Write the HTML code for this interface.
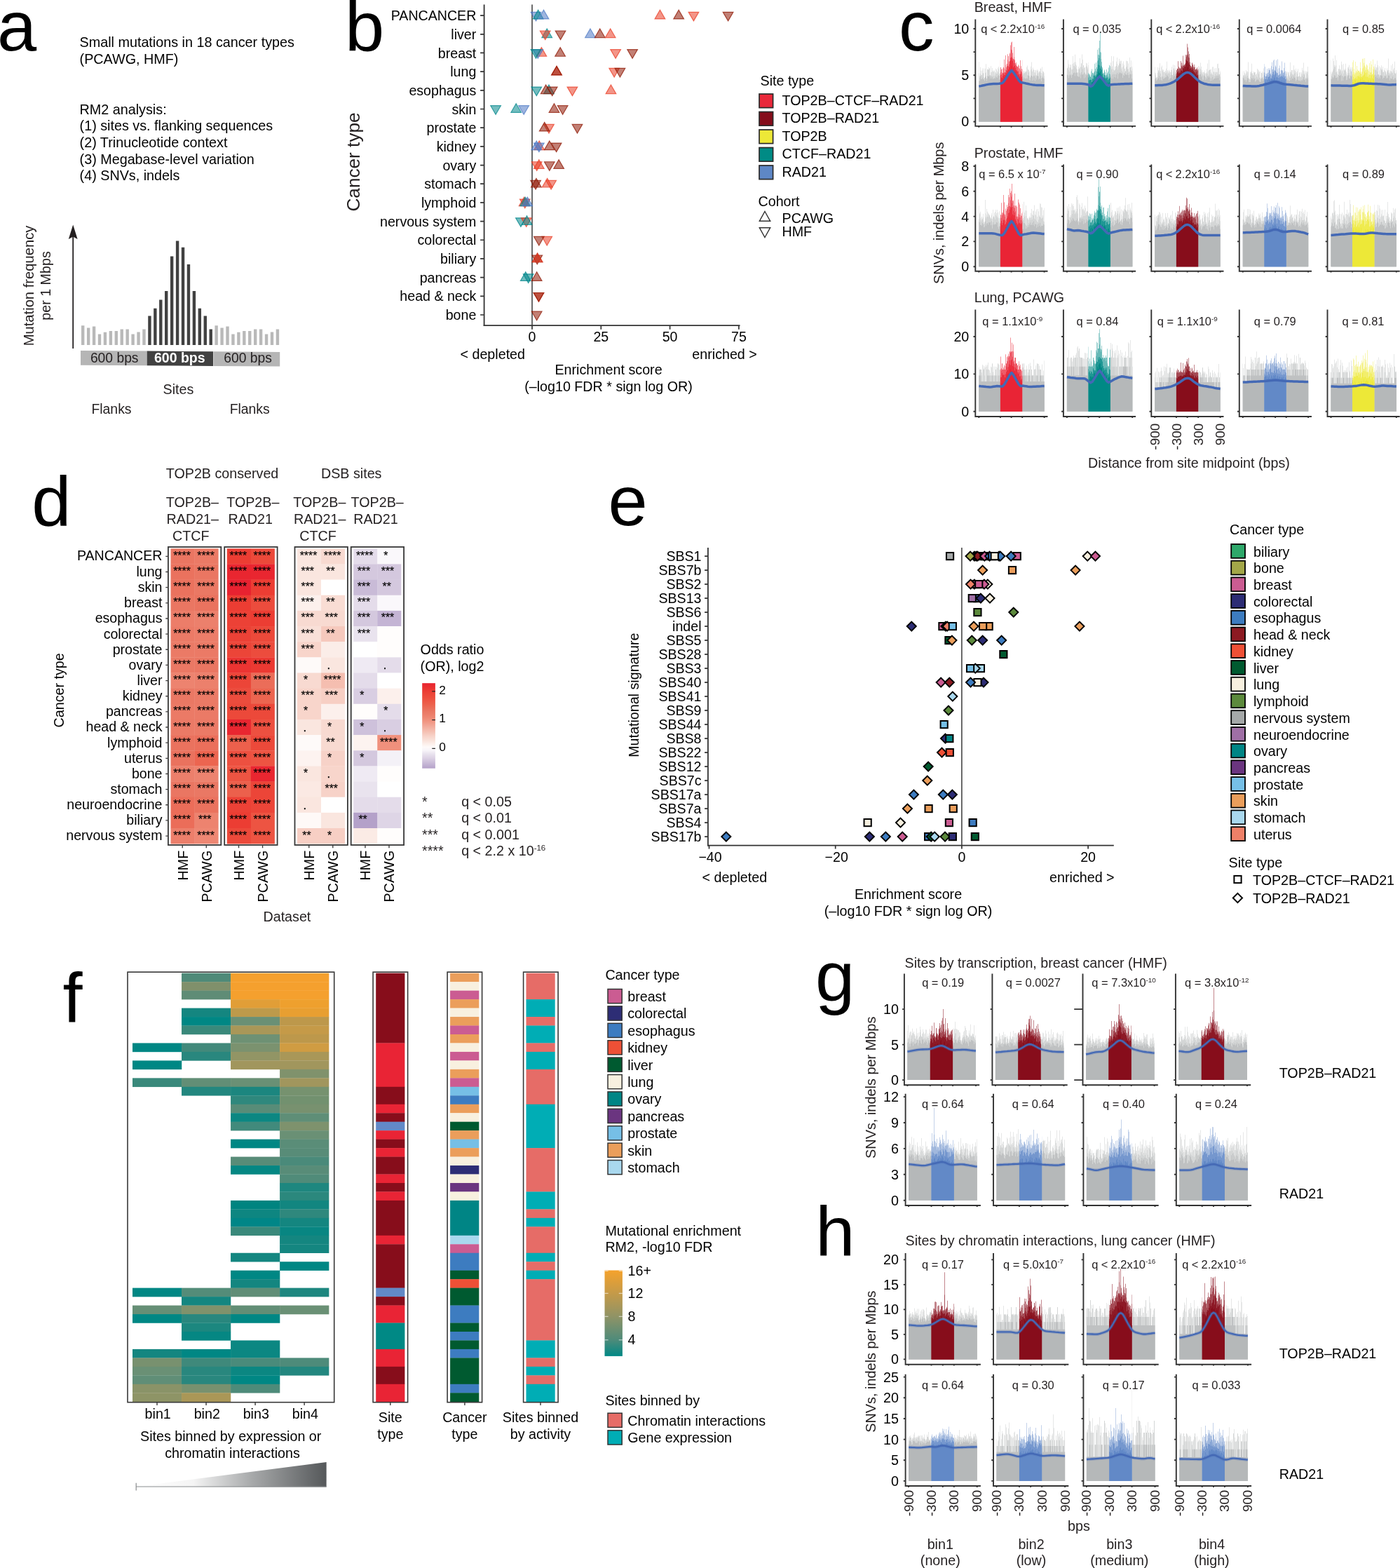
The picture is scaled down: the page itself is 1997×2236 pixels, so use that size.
<!DOCTYPE html>
<html lang="en"><head><meta charset="utf-8"><title>Figure</title>
<style>
html,body{margin:0;padding:0;background:#fff;}
body{width:1997px;height:2236px;overflow:hidden;}
svg{display:block;font-family:'Liberation Sans', Arial, Helvetica, sans-serif;}
</style></head><body>
<svg width="1997" height="2236" viewBox="0 0 1997 2236">
<g>
<text x="-4" y="72" font-size="101">a</text>
<text x="113.6" y="66.9" font-size="19.75">Small mutations in 18 cancer types</text>
<text x="113.6" y="90.7" font-size="19.75">(PCAWG, HMF)</text>
<text x="113.6" y="162.9" font-size="19.75">RM2 analysis:</text>
<text x="113.6" y="186.4" font-size="19.75">(1) sites vs. flanking sequences</text>
<text x="113.6" y="210" font-size="19.75">(2) Trinucleotide context</text>
<text x="113.6" y="233.6" font-size="19.75">(3) Megabase-level variation</text>
<text x="113.6" y="257.1" font-size="19.75">(4) SNVs, indels</text>
<text transform="translate(48.2 407.5) rotate(-90)" font-size="20.2" text-anchor="middle" fill="#231f20">Mutation frequency</text>
<text transform="translate(72.3 407.5) rotate(-90)" font-size="19.7" text-anchor="middle" fill="#231f20">per 1 Mbps</text>
<path d="M104.2 497L104.2 335" stroke="#231f20" stroke-width="1.8" fill="none"/>
<path d="M104.2 320.5L110.6 341L104.2 337.5L97.8 341Z" fill="#231f20"/>
<path d="M116 492V464.3h4.4V492zM306.44 492V464.3h4.4V492zM123.94 492V467.6h4.4V492zM314.38 492V467.6h4.4V492zM131.87 492V465.4h4.4V492zM322.31 492V465.4h4.4V492zM139.81 492V476.6h4.4V492zM330.25 492V476.6h4.4V492zM147.74 492V473.8h4.4V492zM338.18 492V473.8h4.4V492zM155.68 492V472h4.4V492zM346.12 492V472h4.4V492zM163.61 492V472h4.4V492zM354.05 492V472h4.4V492zM171.54 492V469.6h4.4V492zM361.99 492V469.6h4.4V492zM179.48 492V469.6h4.4V492zM369.92 492V469.6h4.4V492zM187.41 492V476.6h4.4V492zM377.85 492V476.6h4.4V492zM195.35 492V473.5h4.4V492zM385.79 492V473.5h4.4V492zM203.28 492V469.4h4.4V492zM393.72 492V469.4h4.4V492z" fill="#b9b9b9"/>
<path d="M211.22 492V450.5h4.4V492zM219.16 492V439.7h4.4V492zM227.09 492V427.4h4.4V492zM235.02 492V414.9h4.4V492zM242.96 492V365.4h4.4V492zM250.89 492V343.4h4.4V492zM258.83 492V352.7h4.4V492zM266.76 492V377.1h4.4V492zM274.7 492V414.9h4.4V492zM282.63 492V439.7h4.4V492zM290.57 492V450.5h4.4V492zM298.5 492V469.4h4.4V492z" fill="#414141"/>
<path d="M115 500L209.7 500.6L209.7 521.3L115 520.8Z" fill="#b5b5b5"/>
<path d="M209.7 500.6L304 501.2L304 521.9L209.7 521.3Z" fill="#414141"/>
<path d="M304.4 501.2L399.2 501.9L399.2 522.6L304.4 521.9Z" fill="#b5b5b5"/>
<text x="163.2" y="516.6" font-size="19.3" text-anchor="middle" fill="#231f20">600 bps</text>
<text x="256.3" y="516.8" font-size="19.5" text-anchor="middle" font-weight="bold" fill="#fff">600 bps</text>
<text x="353.6" y="517.4" font-size="19.3" text-anchor="middle" fill="#231f20">600 bps</text>
<text x="254.5" y="561.7" font-size="19.7" text-anchor="middle" fill="#231f20">Sites</text>
<text x="159" y="589.6" font-size="19.4" text-anchor="middle" fill="#231f20">Flanks</text>
<text x="356.2" y="589.6" font-size="19.4" text-anchor="middle" fill="#231f20">Flanks</text>
</g>
<g>
<text x="492" y="72.8" font-size="101">b</text>
<path d="M690.6 6.5L690.6 465.1" stroke="#333" stroke-width="1.8" fill="none"/>
<path d="M689.7 464.2L1055.5 464.2" stroke="#333" stroke-width="1.8" fill="none"/>
<path d="M759 6.5L759 464.2" stroke="#3a3a3a" stroke-width="1.5" fill="none"/>
<text x="679.3" y="29.2" font-size="19.6" text-anchor="end">PANCANCER</text>
<text x="679.3" y="55.88" font-size="19.6" text-anchor="end">liver</text>
<text x="679.3" y="82.56" font-size="19.6" text-anchor="end">breast</text>
<text x="679.3" y="109.24" font-size="19.6" text-anchor="end">lung</text>
<text x="679.3" y="135.92" font-size="19.6" text-anchor="end">esophagus</text>
<text x="679.3" y="162.6" font-size="19.6" text-anchor="end">skin</text>
<text x="679.3" y="189.28" font-size="19.6" text-anchor="end">prostate</text>
<text x="679.3" y="215.96" font-size="19.6" text-anchor="end">kidney</text>
<text x="679.3" y="242.64" font-size="19.6" text-anchor="end">ovary</text>
<text x="679.3" y="269.32" font-size="19.6" text-anchor="end">stomach</text>
<text x="679.3" y="296" font-size="19.6" text-anchor="end">lymphoid</text>
<text x="679.3" y="322.68" font-size="19.6" text-anchor="end">nervous system</text>
<text x="679.3" y="349.36" font-size="19.6" text-anchor="end">colorectal</text>
<text x="679.3" y="376.04" font-size="19.6" text-anchor="end">biliary</text>
<text x="679.3" y="402.72" font-size="19.6" text-anchor="end">pancreas</text>
<text x="679.3" y="429.4" font-size="19.6" text-anchor="end">head &amp; neck</text>
<text x="679.3" y="456.08" font-size="19.6" text-anchor="end">bone</text>
<text x="759" y="487.4" font-size="19.6" text-anchor="middle">0</text>
<text x="857.3" y="487.4" font-size="19.6" text-anchor="middle">25</text>
<text x="955.6" y="487.4" font-size="19.6" text-anchor="middle">50</text>
<text x="1053.9" y="487.4" font-size="19.6" text-anchor="middle">75</text>
<path d="M685.1 22.1H690.6M685.1 48.78H690.6M685.1 75.46H690.6M685.1 102.14H690.6M685.1 128.82H690.6M685.1 155.5H690.6M685.1 182.18H690.6M685.1 208.86H690.6M685.1 235.54H690.6M685.1 262.22H690.6M685.1 288.9H690.6M685.1 315.58H690.6M685.1 342.26H690.6M685.1 368.94H690.6M685.1 395.62H690.6M685.1 422.3H690.6M685.1 448.98H690.6M759 464.2V469.7M857.3 464.2V469.7M955.6 464.2V469.7M1053.9 464.2V469.7" fill="none" stroke="#333" stroke-width="1.7"/>
<text transform="translate(513.3 231) rotate(-90)" font-size="26.2" text-anchor="middle" fill="#231f20">Cancer type</text>
<text x="656.5" y="511.5" font-size="19.7">&lt; depleted</text>
<text x="1079.8" y="511.5" font-size="19.7" text-anchor="end">enriched &gt;</text>
<text x="868" y="534.2" font-size="19.7" text-anchor="middle">Enrichment score</text>
<text x="868" y="557.9" font-size="19.7" text-anchor="middle">(–log10 FDR * sign log OR)</text>
<g fill-opacity="0.55" stroke-opacity="0.75" stroke-width="1.2" stroke-linejoin="miter"><path d="M764.5 29.91L771.8 17.31L757.2 17.31Z" fill="#4e79c4" stroke="#4e79c4"/><path d="M767.65 14.29L774.95 26.89L760.35 26.89Z" fill="#00868b" stroke="#00868b"/><path d="M775.51 14.29L782.81 26.89L768.21 26.89Z" fill="#4e79c4" stroke="#4e79c4"/><path d="M941.44 14.29L948.74 26.89L934.14 26.89Z" fill="#e93e26" stroke="#e93e26"/><path d="M968.18 14.29L975.48 26.89L960.88 26.89Z" fill="#8f1703" stroke="#8f1703"/><path d="M989.42 29.91L996.72 17.31L982.12 17.31Z" fill="#e93e26" stroke="#e93e26"/><path d="M1038.57 29.91L1045.87 17.31L1031.27 17.31Z" fill="#8f1703" stroke="#8f1703"/><path d="M780.23 40.97L787.53 53.57L772.93 53.57Z" fill="#00868b" stroke="#00868b"/><path d="M777.68 56.59L784.98 43.99L770.38 43.99Z" fill="#e93e26" stroke="#e93e26"/><path d="M799.5 56.59L806.8 43.99L792.2 43.99Z" fill="#8f1703" stroke="#8f1703"/><path d="M841.97 40.97L849.27 53.57L834.67 53.57Z" fill="#4e79c4" stroke="#4e79c4"/><path d="M855.73 40.97L863.03 53.57L848.43 53.57Z" fill="#8f1703" stroke="#8f1703"/><path d="M870.67 40.97L877.97 53.57L863.37 53.57Z" fill="#e93e26" stroke="#e93e26"/><path d="M772.37 67.65L779.67 80.25L765.07 80.25Z" fill="#e93e26" stroke="#e93e26"/><path d="M767.26 83.27L774.56 70.67L759.96 70.67Z" fill="#4e79c4" stroke="#4e79c4"/><path d="M764.5 83.27L771.8 70.67L757.2 70.67Z" fill="#00868b" stroke="#00868b"/><path d="M799.11 67.65L806.41 80.25L791.81 80.25Z" fill="#8f1703" stroke="#8f1703"/><path d="M878.14 83.27L885.44 70.67L870.84 70.67Z" fill="#e93e26" stroke="#e93e26"/><path d="M902.12 83.27L909.42 70.67L894.82 70.67Z" fill="#8f1703" stroke="#8f1703"/><path d="M793.99 94.33L801.29 106.93L786.69 106.93Z" fill="#e93e26" stroke="#e93e26"/><path d="M793.99 94.33L801.29 106.93L786.69 106.93Z" fill="#8f1703" stroke="#8f1703"/><path d="M876.17 109.95L883.47 97.35L868.87 97.35Z" fill="#e93e26" stroke="#e93e26"/><path d="M884.43 109.95L891.73 97.35L877.13 97.35Z" fill="#8f1703" stroke="#8f1703"/><path d="M765.29 136.63L772.59 124.03L757.99 124.03Z" fill="#00868b" stroke="#00868b"/><path d="M782.99 121.01L790.29 133.61L775.69 133.61Z" fill="#00868b" stroke="#00868b"/><path d="M778.66 121.01L785.96 133.61L771.36 133.61Z" fill="#8f1703" stroke="#8f1703"/><path d="M787.7 136.63L795 124.03L780.4 124.03Z" fill="#8f1703" stroke="#8f1703"/><path d="M816.41 136.63L823.71 124.03L809.11 124.03Z" fill="#e93e26" stroke="#e93e26"/><path d="M871.46 121.01L878.76 133.61L864.16 133.61Z" fill="#e93e26" stroke="#e93e26"/><path d="M707.1 163.31L714.4 150.71L699.8 150.71Z" fill="#00868b" stroke="#00868b"/><path d="M736.19 147.69L743.49 160.29L728.89 160.29Z" fill="#00868b" stroke="#00868b"/><path d="M747.2 163.31L754.5 150.71L739.9 150.71Z" fill="#4e79c4" stroke="#4e79c4"/><path d="M790.46 147.69L797.76 160.29L783.16 160.29Z" fill="#8f1703" stroke="#8f1703"/><path d="M802.65 163.31L809.95 150.71L795.35 150.71Z" fill="#8f1703" stroke="#8f1703"/><path d="M782.99 189.99L790.29 177.39L775.69 177.39Z" fill="#e93e26" stroke="#e93e26"/><path d="M776.69 174.37L783.99 186.97L769.39 186.97Z" fill="#8f1703" stroke="#8f1703"/><path d="M823.48 189.99L830.78 177.39L816.18 177.39Z" fill="#8f1703" stroke="#8f1703"/><path d="M769.22 201.05L776.52 213.65L761.92 213.65Z" fill="#e93e26" stroke="#e93e26"/><path d="M768.83 216.67L776.13 204.07L761.53 204.07Z" fill="#4e79c4" stroke="#4e79c4"/><path d="M765.29 201.05L772.59 213.65L757.99 213.65Z" fill="#4e79c4" stroke="#4e79c4"/><path d="M783.77 201.05L791.07 213.65L776.47 213.65Z" fill="#8f1703" stroke="#8f1703"/><path d="M793.6 216.67L800.9 204.07L786.3 204.07Z" fill="#8f1703" stroke="#8f1703"/><path d="M765.68 243.35L772.98 230.75L758.38 230.75Z" fill="#e93e26" stroke="#e93e26"/><path d="M768.83 227.73L776.13 240.33L761.53 240.33Z" fill="#e93e26" stroke="#e93e26"/><path d="M783.77 243.35L791.07 230.75L776.47 230.75Z" fill="#8f1703" stroke="#8f1703"/><path d="M797.14 227.73L804.44 240.33L789.84 240.33Z" fill="#8f1703" stroke="#8f1703"/><path d="M764.9 254.41L772.2 267.01L757.6 267.01Z" fill="#8f1703" stroke="#8f1703"/><path d="M764.11 270.03L771.41 257.43L756.81 257.43Z" fill="#8f1703" stroke="#8f1703"/><path d="M780.63 254.41L787.93 267.01L773.33 267.01Z" fill="#e93e26" stroke="#e93e26"/><path d="M786.13 270.03L793.43 257.43L778.83 257.43Z" fill="#e93e26" stroke="#e93e26"/><path d="M748.78 296.71L756.08 284.11L741.48 284.11Z" fill="#e93e26" stroke="#e93e26"/><path d="M747.6 281.09L754.9 293.69L740.3 293.69Z" fill="#e93e26" stroke="#e93e26"/><path d="M749.17 281.09L756.47 293.69L741.87 293.69Z" fill="#00868b" stroke="#00868b"/><path d="M752.32 281.09L759.62 293.69L745.02 293.69Z" fill="#4e79c4" stroke="#4e79c4"/><path d="M742.88 323.39L750.18 310.79L735.58 310.79Z" fill="#00868b" stroke="#00868b"/><path d="M750.74 323.39L758.04 310.79L743.44 310.79Z" fill="#e93e26" stroke="#e93e26"/><path d="M751.53 307.77L758.83 320.37L744.23 320.37Z" fill="#00868b" stroke="#00868b"/><path d="M780.23 350.07L787.53 337.47L772.93 337.47Z" fill="#e93e26" stroke="#e93e26"/><path d="M768.83 350.07L776.13 337.47L761.53 337.47Z" fill="#8f1703" stroke="#8f1703"/><path d="M766.27 376.75L773.57 364.15L758.97 364.15Z" fill="#8f1703" stroke="#8f1703"/><path d="M766.47 361.13L773.77 373.73L759.17 373.73Z" fill="#8f1703" stroke="#8f1703"/><path d="M766.67 361.13L773.97 373.73L759.37 373.73Z" fill="#e93e26" stroke="#e93e26"/><path d="M749.76 387.81L757.06 400.41L742.46 400.41Z" fill="#00868b" stroke="#00868b"/><path d="M753.69 403.43L760.99 390.83L746.39 390.83Z" fill="#00868b" stroke="#00868b"/><path d="M765.68 387.81L772.98 400.41L758.38 400.41Z" fill="#8f1703" stroke="#8f1703"/><path d="M768.44 430.11L775.74 417.51L761.14 417.51Z" fill="#e93e26" stroke="#e93e26"/><path d="M768.44 430.11L775.74 417.51L761.14 417.51Z" fill="#8f1703" stroke="#8f1703"/><path d="M765.68 456.79L772.98 444.19L758.38 444.19Z" fill="#8f1703" stroke="#8f1703"/></g>
<text x="1084.5" y="122.3" font-size="19.7">Site type</text>
<rect x="1083" y="134" width="19.6" height="19.6" fill="#e9283a" stroke="#2a2a2a" stroke-width="1.7"/>
<text x="1115.5" y="149.6" font-size="19.7">TOP2B–CTCF–RAD21</text>
<rect x="1083" y="159.5" width="19.6" height="19.6" fill="#850d1b" stroke="#2a2a2a" stroke-width="1.7"/>
<text x="1115.5" y="175.1" font-size="19.7">TOP2B–RAD21</text>
<rect x="1083" y="185" width="19.6" height="19.6" fill="#ede837" stroke="#2a2a2a" stroke-width="1.7"/>
<text x="1115.5" y="200.6" font-size="19.7">TOP2B</text>
<rect x="1083" y="210.5" width="19.6" height="19.6" fill="#008b85" stroke="#2a2a2a" stroke-width="1.7"/>
<text x="1115.5" y="226.1" font-size="19.7">CTCF–RAD21</text>
<rect x="1083" y="236" width="19.6" height="19.6" fill="#5e87c6" stroke="#2a2a2a" stroke-width="1.7"/>
<text x="1115.5" y="251.6" font-size="19.7">RAD21</text>
<text x="1081.5" y="294" font-size="19.7">Cohort</text>
<path d="M1091 301.5L1098.7 315.3L1083.3 315.3Z" fill="none" stroke="#333" stroke-width="1.4"/>
<path d="M1091 338.5L1098.7 324.7L1083.3 324.7Z" fill="none" stroke="#333" stroke-width="1.4"/>
<text x="1115.5" y="318.2" font-size="19.7">PCAWG</text>
<text x="1115.5" y="337.1" font-size="19.7">HMF</text>
</g>
<g>
<text x="1281.9" y="72.4" font-size="101">c</text>
<text x="1389.7" y="16.8" font-size="19.7" fill="#231f20">Breast, HMF</text>
<path d="M1396.3 173.5V88.3h0.7V108.3h1V95.8h1V100.8h1V106.8h1V97.5h1V104.5h1V97.5h1V111h1V97.8h1V91.2h1V111.8h1V98.2h1V98.9h1V96.1h1V97.6h1V107.1h1V94.2h1V102.8h1V97h1V101.9h1V100.2h1V100.8h1V103.1h1V97.7h1V98.9h1V101.6h1V96.7h1V95.1h1V104.8h1V96.4h0.9V173.5ZM1458.2 173.5V104.8h0.8V104.2h1V101.1h1V104.3h1V102.1h1V101h1V95.7h1V93.4h1V98.5h1V100h1V101.6h1V110.1h1V94.8h1V88.5h1V102h1V96.4h1V99.1h1V100h1V103.5h1V100.1h1V107h1V99h1V100.5h1V103.2h1V101.1h1V101.8h1V97.5h1V104h1V95.4h1V101.4h1V102h1V104h0.7V173.5Z" fill="#e6e7e7"/><path d="M1396.3 173.5V104.2h0.7V110.4h1V105.1h1V107.1h1V107.6h1V100.6h1V104.5h1V110.3h1V111.4h1V104.1h1V103.3h1V112h1V98.9h1V99.8h1V99.5h1V97.8h1V108.9h1V102.9h1V108.8h1V100.5h1V108h1V102.2h1V108.4h1V106.4h1V103.8h1V105.2h1V105h1V102.8h1V98.6h1V108.1h1V104.9h0.9V173.5ZM1458.2 173.5V109.1h0.8V106.2h1V102.1h1V104.4h1V103h1V103.1h1V102.3h1V107.3h1V99.4h1V103.3h1V108.1h1V110.9h1V100.3h1V98.6h1V109.4h1V100.3h1V107.6h1V103.3h1V107.5h1V100.5h1V108.4h1V101h1V104.7h1V108.3h1V102.6h1V103.4h1V98h1V111.4h1V107.9h1V104.7h1V102.4h1V108.5h0.7V173.5Z" fill="#d4d6d6"/><path d="M1396.3 173.5V115.5h0.7V115.3h1V108.6h1V112.7h1V113h1V110.8h1V112.9h1V113.2h1V115.6h1V109.8h1V108.5h1V115.4h1V108.3h1V108.7h1V109.1h1V107.3h1V111.9h1V107.4h1V112.1h1V109.7h1V112.7h1V111.9h1V111.4h1V111.8h1V109.1h1V110.2h1V111h1V108.6h1V107h1V113.8h1V113.1h0.9V173.5ZM1458.2 173.5V112.5h0.8V112.2h1V110.3h1V111.7h1V112h1V112.1h1V111.4h1V112h1V107.4h1V107.9h1V114h1V114.8h1V107.8h1V108.1h1V115h1V108.7h1V114.3h1V108.6h1V115.5h1V111.2h1V113.4h1V108h1V108.7h1V113.4h1V111.8h1V113h1V108h1V116h1V111.3h1V110.2h1V111.7h1V112.2h0.7V173.5Z" fill="#bfc1c2"/><path d="M1426.9 173.5V85.8h0.1V96.1h1V99h1V97.7h1V103.9h1V95.8h1V84.8h1V103.4h1V79.1h1V95.8h1V91h1V77.2h1V80h1V87.6h1V75.5h1V64.6h1V60.5h1V59.6h1V75.5h1V84.1h1V66.9h1V84.8h1V90h1V89.1h1V94.4h1V95.1h1V92.3h1V93.7h1V97.8h1V85.9h1V94.3h1V98.2h1V85.4h0.2V173.5Z" fill="#f4929a"/><path d="M1426.9 173.5V100.1h0.1V103.2h1V106.3h1V102.9h1V105.1h1V97.2h1V97.7h1V103.6h1V92.5h1V99.9h1V93.7h1V85.2h1V93.9h1V91.4h1V77.1h1V82.6h1V70.8h1V71.4h1V83.1h1V84.9h1V81.3h1V86.5h1V92.6h1V91.8h1V94.5h1V95.8h1V101.6h1V96.9h1V106h1V99.7h1V101.8h1V102.3h1V99h0.2V173.5Z" fill="#ee5b68"/><path d="M1426.9 173.5V107.7h0.1V106.9h1V110.5h1V110.9h1V108h1V103.5h1V106.7h1V106.9h1V99.1h1V104.3h1V101.3h1V94.6h1V99h1V95.8h1V87.4h1V86.6h1V82.2h1V81.3h1V87.1h1V95.4h1V90.1h1V94h1V96.8h1V99.9h1V101.2h1V102h1V106.7h1V105.1h1V109h1V105.7h1V104.7h1V109.8h1V107.5h0.2V173.5Z" fill="#ea2f3f"/><path d="M1396.3 173.5V123.1h0.7V122.8h1V123.5h1V123h1V123.1h1V121.9h1V122.2h1V121.8h1V122.4h1V121.1h1V121.2h1V120.6h1V119.9h1V120h1V119.8h1V121h1V119.7h1V120.9h1V119.1h1V121h1V119.3h1V119.8h1V119h1V120.6h1V119.4h1V120.5h1V120.2h1V118.5h1V119.1h1V118.6h1V119.2h0.9V173.5ZM1458.2 173.5V117.7h0.8V119.2h1V119.3h1V119.7h1h1V118.3h1V119.2h1V119.4h1V120.5h1V119.2h1V120.9h1V119.6h1V120.9h1V121.5h1V121.8h1V120.5h1V120.8h1V122h1V121.1h1V121.8h1V121.7h1V122.3h1V121.5h1V121.9h1V122h1V122.8h1V122.5h1V122.6h1V122.4h1V122.2h1V122.5h1V123.1h0.7V173.5Z" fill="#b5b8b9"/><path d="M1426.9 173.5V117.1h0.1V116.6h1V116.9h1V117.1h1V112.4h1h1V109.8h1V110.9h1V108.1h1V109.7h1V107.2h1V106.4h1V103.7h1V102.8h1V96.1h1V99.1h1V94.4h1V93.5h1V100.5h1V97h1V103.3h1V101.8h1V103.3h1V105.9h1V109.8h1V110.1h1V111.8h1V114h1V111.4h1V112.2h1V113.1h1V117.3h1V115.8h0.2V173.5Z" fill="#e92435"/><path d="M1396.3 123.1L1398.9 122.6L1401.5 122L1404.1 121.5L1406.7 120.9L1409.3 120.4L1411.9 119.9L1414.5 119.7L1417.1 119.6L1419.7 119.5L1422.2 119.4L1424.8 119.3L1427.4 119.1L1430 118.4L1432.6 115.3L1435.2 111.3L1437.8 107.3L1440.4 103.3L1443 100.4L1445.6 103.2L1448.2 107L1450.8 110.9L1453.4 114.8L1456 117.6L1458.6 117.9L1461.2 118.4L1463.8 119L1466.3 119.5L1468.9 120.1L1471.5 120.6L1474.1 121.1L1476.7 121.3L1479.3 121.4L1481.9 121.5L1484.5 121.6L1487.1 121.7L1489.7 121.8" fill="none" stroke="#4469b5" stroke-width="3.5" stroke-linejoin="round"/>
<path d="M1391.3 27.4V179.9H1494.5M1388.5 173.5h2.8M1388.5 140.38h2.8M1388.5 107.25h2.8M1388.5 74.12h2.8M1388.5 41h2.8M1396.3 179.9v1.9M1426.9 179.9v1.9M1442.6 179.9v1.9M1458.2 179.9v1.9M1489.6 179.9v1.9" fill="none" stroke="#333" stroke-width="1.9"/>
<text x="1444.7" y="47.2" font-size="16.45" text-anchor="middle" word-spacing="-0.3" fill="#231f20">q &lt; 2.2x10<tspan font-size="9.87" dy="-6.2">-16</tspan></text>
<path d="M1521.9 173.5V92.3h0.1V97.2h1V85.6h1V91.4h1V96.5h1V91.9h1V92.6h1V99h1V91.3h1V80h1V90.2h1V88.4h1V77.7h1V88.4h1V93.4h1V98.9h1V103h1V94.9h1V97.3h1V82.9h1V95.2h1V90.5h1V77.6h1V85h1V93h1V96.8h1V95.5h1V105.8h1V89.8h1V90.4h1V96.6h1V88.7h0.5V173.5ZM1583.8 173.5V95.3h0.2V89.2h1V80.1h1V94.6h1V87.2h1V80.2h1V99.9h1V94.9h1V94.6h1V87.8h1V82.1h1V95.4h1V92.8h1V83.9h1V87.6h1V86.4h1V86.7h1V96.1h1V90.4h1V87.5h1V92.6h1V97.7h1V101.4h1V86.4h1V87.2h1h1V90.5h1V101.9h1V82h1V95.7h1V86.3h1V95h1V88.8h0.3V173.5Z" fill="#e6e7e7"/><path d="M1521.9 173.5V101.4h0.1V97.5h1V95.3h1V99.9h1V102.1h1V96.3h1V96.7h1V105.5h1V99.3h1V98.2h1V93.8h1V94h1V96h1V91.9h1V97.8h1V103.7h1V103.9h1V98.8h1V98.9h1V96.4h1V106.6h1V90.5h1V95.8h1V98.3h1V93.5h1V103.6h1V96.5h1V105.8h1V94.7h1V94.5h1V99h1V93h0.5V173.5ZM1583.8 173.5V102.4h0.2V96h1V99h1V98.2h1V103h1V99h1V101.3h1V100h1V98.4h1V94h1V91h1V99.4h1V93.7h1V90.3h1V91.1h1V91h1V98.3h1V100.9h1V102.9h1V94.7h1V104.5h1V97.9h1V101.5h1V95.7h1V94.8h1V98.5h1V98.4h1V103.4h1V96.6h1V95.9h1V100.3h1V101.3h1V97.8h0.3V173.5Z" fill="#d4d6d6"/><path d="M1521.9 173.5V106.4h0.1h1V107.4h1V111.3h1V107.6h1V106.3h1V107.5h1V110.9h1V107h1V106.2h1V103.9h1V103.5h1V108.6h1V104h1V103.2h1V108.4h1V108.7h1V109.4h1V109.6h1V104.3h1V111.6h1V103h1V106.2h1V106.4h1V105.5h1V111.5h1V103.4h1V110.6h1V107.6h1V105.6h1V107.3h1V106.3h0.5V173.5ZM1583.8 173.5V112.2h0.2V108.8h1V111.8h1V106.3h1V112.2h1V105.8h1V110h1V105.8h1V110.4h1V106.3h1V103.8h1V112.2h1V105.5h1V103.2h1V104.5h1V103.6h1V104.5h1V105h1V111.1h1V107.1h1V108h1V103.4h1V106.3h1V106.2h1V106.9h1V104.3h1V107h1V111h1V106.2h1V105.6h1V105.9h1V111.9h1V105.6h0.3V173.5Z" fill="#bfc1c2"/><path d="M1552.5 173.5V103.4h0.5V105.1h1V106.5h1V109.3h1V101.5h1V98.4h1V103.7h1V104.8h1V102.6h1V90.7h1V98.1h1V89.3h1V96.1h1V70.8h1V78.3h1V68.6h1V58.1h1V45h1V74.8h1V88.3h1V96h1V103.4h1V104.3h1V99.6h1V103h1V107h1V99.1h1V103.9h1V102h1V96.5h1V92.7h1V93.9h0.8V173.5Z" fill="#9ed2d1"/><path d="M1552.5 173.5V104.5h0.5V106.4h1V108.8h1V110h1V106.8h1V111.6h1V104h1V107.6h1V104.4h1V101.7h1V107h1V101.2h1V102.2h1V87.3h1V85.9h1V77.7h1V78.9h1V74h1V83.9h1V93.7h1V97.8h1V104.8h1V106.2h1V101.3h1V107.5h1V109.1h1V106.8h1V106.2h1V111h1V109.3h1V105.1h1V105.9h0.8V173.5Z" fill="#66b8b6"/><path d="M1552.5 173.5V110.5h0.5V114.5h1V114.1h1V113.7h1V113.9h1V117h1V112.5h1h1V107.8h1V107.7h1V109.5h1V107.9h1V106.2h1V98.5h1V92.5h1V83.1h1V93.2h1V97.8h1V94.7h1V99.5h1V105.4h1V109.4h1V110.6h1V107.1h1V111h1V112h1V111h1V109.5h1V114.3h1V112.7h1V112.1h1V110.7h0.8V173.5Z" fill="#1f9794"/><path d="M1521.9 173.5V120.2h0.1V119.7h1V119.2h1V120h1V119.6h1V119.2h1V119h1V118.6h1V119.6h1V118.7h1V119.2h1h1V119.4h1V120.4h1V119h1V120.1h1V120.4h1V119.6h1V120.1h1V118.8h1V120h1V118.8h1V120.2h1V118.7h1V119.2h1V119h1V119.2h1V120.3h1V120.8h1V121.4h1V120.5h1V119.9h0.5V173.5ZM1583.8 173.5V121.1h0.2V120.3h1V120h1V121.3h1V121h1V121.4h1h1V120.9h1V121.1h1V120.2h1V119.5h1V120.6h1V120.2h1V119.3h1V120h1V119.6h1V120.9h1V120.3h1V119.4h1V120.9h1V120.4h1V120.6h1V120.8h1V119.6h1V119.9h1V119h1V120.3h1V119.3h1V119.1h1V120.1h1V119.7h1V120.5h1V118.5h0.3V173.5Z" fill="#b5b8b9"/><path d="M1552.5 173.5V119.8h0.5V120.4h1V121h1V121.4h1V121.3h1V117.4h1V116.5h1V116h1V115h1V114h1V113.1h1V110.3h1V113h1V106.2h1V102.1h1V103.7h1V104.1h1V102.1h1V107.2h1V109.4h1V111.6h1V113.1h1V112h1V112.9h1V115.3h1V117.8h1V119.7h1V117.7h1V119.9h1V117.4h1V117.6h1V119.5h0.8V173.5Z" fill="#008985"/><path d="M1521.9 119.2L1524.5 119.2L1527.1 119.2L1529.7 119.2L1532.3 119.2L1534.9 119.2L1537.5 119.2L1540.1 119.2L1542.7 119.2L1545.2 119.5L1547.8 119.8L1550.4 120.2L1553 120.8L1555.6 123.3L1558.2 122.3L1560.8 118.7L1563.4 115.1L1566 111.5L1568.6 108.9L1571.2 111.2L1573.8 114.5L1576.4 117.8L1579 121.2L1581.6 122.3L1584.2 120.7L1586.8 120.4L1589.4 120.3L1592 120.2L1594.5 120.1L1597.1 119.9L1599.7 119.8L1602.3 119.7L1604.9 119.6L1607.5 119.5L1610.1 119.4L1612.7 119.3L1615.3 119.2" fill="none" stroke="#4469b5" stroke-width="3.5" stroke-linejoin="round"/>
<path d="M1516.9 27.4V179.9H1620.1M1514.1 173.5h2.8M1514.1 140.38h2.8M1514.1 107.25h2.8M1514.1 74.12h2.8M1514.1 41h2.8M1521.9 179.9v1.9M1552.5 179.9v1.9M1568.2 179.9v1.9M1583.8 179.9v1.9M1615.2 179.9v1.9" fill="none" stroke="#333" stroke-width="1.9"/>
<text x="1564.9" y="47.2" font-size="16.45" text-anchor="middle" fill="#231f20">q = 0.035</text>
<path d="M1647.3 173.5V95.5h0.7V104.4h1V110.2h1V109.8h1V96.1h1V100h1V96.5h1V90.2h1V101h1V95.5h1V93.4h1V98.9h1V99.6h1V102.8h1V101.7h1V100.7h1V97.8h1V87.8h1V100.1h1V101.8h1V99.4h1V101h1V103.1h1V99.9h1V95.3h1V106.9h1V92.3h1V97.7h1V92.8h1V103.1h1V97.2h0.9V173.5ZM1709.2 173.5V97.9h0.8V94.7h1V97.6h1V89.4h1V95.1h1V99.8h1V103.1h1V102.2h1V103h1V100.4h1V104.3h1h1V98.6h1V90.6h1V101.6h1V85.2h1V99.4h1V98.9h1V98.4h1V104.5h1V95.6h1V95.2h1V102h1V97.6h1V103.1h1V97.1h1V103.1h1V91.2h1V90.7h1V96.9h1V105.9h1V101.1h0.7V173.5Z" fill="#e6e7e7"/><path d="M1647.3 173.5V103.6h0.7V107.4h1V111.7h1V110.6h1V103.9h1V101.7h1V100.4h1V103.3h1V105h1V110.3h1V108.4h1V101h1V103.1h1V109h1V103.3h1V104.5h1V104.6h1V102.2h1V105.6h1V104.1h1V104.9h1V102.9h1V107.1h1V102.9h1V99.5h1V107h1V102.3h1V97.7h1V100.2h1V105.7h1V100.2h0.9V173.5ZM1709.2 173.5V98.8h0.8V106.7h1V103.4h1V98.8h1V102.3h1V104.5h1V105.8h1V107.8h1V103.8h1V105.5h1V110h1V105.5h1V102.7h1V105.1h1V107.4h1V99.9h1V100.2h1V105.7h1V103.2h1V106h1V106.5h1V107.2h1V103.1h1V108.2h1V105.4h1V102.2h1V107.2h1V102.7h1V105.7h1V97.8h1V106h1V103.2h0.7V173.5Z" fill="#d4d6d6"/><path d="M1647.3 173.5V112.4h0.7V111.2h1V115.2h1V114.3h1V112.7h1V111.3h1V108.2h1V114.2h1V110.1h1V113.9h1V115.2h1V109.5h1V112.6h1V112.1h1V111h1V110.2h1V109.9h1V107.3h1V108.5h1V109.4h1V114.2h1V111.9h1V111.5h1V111.1h1V106.8h1V112.8h1V109.3h1V105.3h1V108.1h1V109.5h1V105.9h0.9V173.5ZM1709.2 173.5V105.4h0.8V110.2h1V105.9h1V106.2h1V109.8h1V108.1h1V113.4h1V113.8h1V107.5h1V108.5h1V113.8h1V110.8h1V112.9h1V108.5h1V110.5h1V108.6h1V110.6h1V115.4h1V111.8h1V114.9h1V109.8h1V113.7h1V112.5h1V111.9h1V111.5h1V108.5h1V111.4h1V107.9h1V110.9h1V107.7h1V114.4h1V109.2h0.7V173.5Z" fill="#bfc1c2"/><path d="M1677.9 173.5V93.9h0.1V100.1h1V97.9h1V87.2h1V95.2h1V96.5h1V97.6h1V87h1V89.4h1V93.5h1V79.5h1V93.3h1V91.9h1V90.8h1V78h1V78.8h1V62.6h1V67.5h1V73.3h1V77h1V88.4h1V93.7h1V95h1V89.7h1V92.1h1V94.9h1V92h1V95.5h1V99.3h1V97.9h1V96.3h1V98.7h1V93.9h0.2V173.5Z" fill="#c3868d"/><path d="M1677.9 173.5V99.9h0.1V104.4h1V97.9h1V98h1V100.8h1V97.8h1V98.1h1V97.2h1V94.3h1V95.7h1V90.4h1V93.9h1V92h1V92.5h1V84.8h1V81.3h1V77.6h1V78.7h1V81.7h1V82.6h1V92.8h1V93.9h1V96.8h1V89.7h1V93h1V97.5h1V96.3h1V99.6h1V99.3h1V98.8h1V100.1h1V101.2h1V100.3h0.2V173.5Z" fill="#a54a54"/><path d="M1677.9 173.5V105h0.1V108.1h1V102.5h1V102.8h1V104.7h1V103.4h1h1V100.6h1V100.5h1V101.6h1V96.5h1V97.5h1V94.6h1V95.1h1V89.8h1V86.3h1V87h1V87.8h1V89.7h1V92h1V97.9h1V96.5h1V99.5h1V96.8h1V99.3h1V101.2h1V102.9h1V103.5h1V105.2h1V102.5h1V107.8h1V106.7h1V107.4h0.2V173.5Z" fill="#8d1926"/><path d="M1647.3 173.5V121h0.7V122.9h1V121.2h1V122.9h1V122.6h1V121.3h1V121.7h1V122.2h1V121.7h1V121.9h1V121.2h1V121.4h1V121.3h1V122.3h1V121.1h1V120.9h1V120.7h1V120.5h1V120.6h1V119.1h1V120.7h1V119.6h1V118.5h1h1V117.7h1V116.9h1V118h1h1V115.3h1V114.9h1V114.3h0.9V173.5ZM1709.2 173.5V116.2h0.8V116h1V117.3h1V116.5h1V116.9h1V117.7h1V118.6h1V119.7h1V119.4h1h1V119.9h1V119.2h1V120.4h1V120.3h1V121.5h1V121.1h1V120.9h1V121.1h1V120.7h1V121.3h1V120.5h1V121.5h1V121.1h1V120.7h1V122.2h1V121.4h1V122.1h1V120.6h1V121.9h1V122.4h1V121.3h1V121.4h0.7V173.5Z" fill="#b5b8b9"/><path d="M1677.9 173.5V110.9h0.1V109.3h1V111.6h1V111.9h1V109.8h1V109h1V108.1h1h1V105h1V106.7h1V103.2h1V100.7h1V99.8h1V100.6h1V98.6h1V100.6h1V95.8h1V96.2h1V100.2h1V101.9h1V102.8h1V102.5h1V104.1h1V103h1V103.3h1V107.9h1V109.2h1V109.9h1V107.8h1V108.6h1V110.3h1V111.5h1V110.9h0.2V173.5Z" fill="#870d1b"/><path d="M1647.3 121.8L1649.9 121.7L1652.5 121.6L1655.1 121.5L1657.7 121.4L1660.3 121.1L1662.9 120.7L1665.5 120.1L1668.1 119.3L1670.7 118.4L1673.2 117.2L1675.8 115.8L1678.4 114L1681 112L1683.6 109.7L1686.2 107.4L1688.8 105.2L1691.4 103.7L1694 103.3L1696.6 103.9L1699.2 105.5L1701.8 108L1704.4 110.5L1707 112.9L1709.6 115.1L1712.2 116.9L1714.8 118.2L1717.3 119.2L1719.9 119.8L1722.5 120.4L1725.1 120.8L1727.7 121.1L1730.3 121.2L1732.9 121.2L1735.5 121.2L1738.1 121.2L1740.7 121.2" fill="none" stroke="#4469b5" stroke-width="3.5" stroke-linejoin="round"/>
<path d="M1642.3 27.4V179.9H1745.5M1639.5 173.5h2.8M1639.5 140.38h2.8M1639.5 107.25h2.8M1639.5 74.12h2.8M1639.5 41h2.8M1647.3 179.9v1.9M1677.9 179.9v1.9M1693.6 179.9v1.9M1709.2 179.9v1.9M1740.6 179.9v1.9" fill="none" stroke="#333" stroke-width="1.9"/>
<text x="1694.7" y="47.2" font-size="16.45" text-anchor="middle" word-spacing="-0.3" fill="#231f20">q &lt; 2.2x10<tspan font-size="9.87" dy="-6.2">-16</tspan></text>
<path d="M1772.8 173.5V100.8h0.2V107.3h1V101.2h1V103.7h1V105.3h1V100.1h1V102h1V101.7h1V88.5h1V110.8h1V113h1V102.2h1V103h1V90.7h1V104.5h1V107.1h1V101.7h1V103.3h1V102.7h1V106.3h1V104.9h1V98.1h1V99.3h1V100.4h1V102.4h1V101.7h1V111.7h1V103.9h1V101.9h1V110.5h1V97.5h1V106.8h0.4V173.5ZM1834.7 173.5V95.6h0.3V102h1V109h1V102.8h1V102.7h1V108h1V89h1V102.9h1V100h1h1V106.3h1V93.3h1V99.2h1V101.1h1V97.8h1V102.9h1V101.4h1V98.3h1V109.1h1V103.4h1V103.1h1V109.4h1V103.2h1V96.8h1V100.3h1V89.5h1V105.6h1V101h1V110.8h1V101.5h1V102.2h1V95h1V101.1h0.2V173.5Z" fill="#e6e7e7"/><path d="M1772.8 173.5V102.3h0.2V108.4h1V107.1h1V109.3h1V107h1V109.4h1V104.4h1V108h1V102.8h1V111.7h1V113.1h1V109.5h1V105.1h1V101.3h1V104.7h1V107.7h1V103.8h1V103.4h1V111.2h1V106.8h1V109.3h1V110.6h1V103.2h1V105.8h1V110.9h1V110.1h1V112.7h1V103.9h1V104.4h1V112.6h1V103.4h1V107.7h0.4V173.5ZM1834.7 173.5V108.6h0.3V102.7h1V111.9h1V104.5h1V106.7h1V110.3h1V102.2h1V105.6h1V100.3h1V105.6h1V107.1h1V99.7h1V105.3h1V103.6h1V113.2h1V108.8h1V104.9h1V108.7h1V109.6h1V107.9h1V109.2h1V110.3h1V105.6h1V108.1h1V105.4h1V101.6h1V106.7h1V103.2h1V112.2h1V103.7h1V105.4h1V102.6h1V107.6h0.2V173.5Z" fill="#d4d6d6"/><path d="M1772.8 173.5V110.6h0.2V111.1h1V112.3h1V114.4h1V113.8h1V116.7h1V114.2h1V110.9h1V112.6h1V117.2h1V116.9h1V117h1V113.4h1V110.9h1V111.9h1V113.9h1V111.3h1V112.7h1V116.5h1V115.8h1V113.7h1V113.8h1V113.2h1V114.4h1V116.2h1V117h1V116.6h1V111.5h1V110.5h1V115.7h1V112.9h1V114.2h0.4V173.5ZM1834.7 173.5V114.8h0.3V110.9h1V114.8h1V113.7h1V115.6h1V115.3h1V110.9h1V114.1h1V108.9h1V112h1V112.2h1V109.2h1V110.9h1V110.6h1V116h1V113.9h1V109.9h1V113.8h1V114.9h1V115.2h1V114.4h1V115.9h1V114.1h1V115.1h1V113h1V109.8h1V114h1V112.9h1V116.8h1V111.4h1V112.8h1V110.8h1V113.5h0.2V173.5Z" fill="#bfc1c2"/><path d="M1803.4 173.5V91.3h0.6V95.3h1V108.9h1V104.7h1V98.2h1V104.1h1V97.3h1V99.6h1V97.3h1V104.5h1V94.3h1V88.7h1V99.1h1V86.4h1V85.1h1V99.8h1V93.4h1V86.1h1V103.8h1V84.5h1V107h1V97.3h1V93.4h1V104.7h1V99.7h1V87.4h1V100.2h1V103.6h1V97.1h1V89.5h1V101.6h1V105.1h0.7V173.5Z" fill="#c3d2ea"/><path d="M1803.4 173.5V103.3h0.6V104.6h1V109.1h1V106.4h1V104.9h1V106.9h1V102.9h1V100.2h1V100.3h1V106.2h1V106.7h1V99.1h1V102.2h1V95.5h1V100.6h1V101.3h1V95.3h1V95.4h1V104.9h1V98.8h1V108.1h1V102.2h1V106.7h1V106h1V100.8h1V100h1V101.3h1V104.4h1V103.5h1V102.6h1V108.3h1V108.7h0.7V173.5Z" fill="#a1b8dd"/><path d="M1803.4 173.5V107.8h0.6V112.6h1V113.1h1V108.8h1V113.2h1V109.5h1V110.1h1V109.1h1V105.8h1V111.7h1V111.3h1V108.3h1V105.7h1V102.6h1V107.3h1V105.5h1V101.2h1V103.1h1V109.8h1V104h1V110.9h1V106.3h1V110.4h1V109h1V109.2h1V107.9h1V109.8h1V107.4h1V110.9h1V109.1h1V112.8h1V112.9h0.7V173.5Z" fill="#7597ce"/><path d="M1772.8 173.5V121.8h0.2V122.4h1V123.6h1V122.7h1V123h1V122.8h1V123.4h1V123.6h1V122.9h1V123h1V122.8h1V123.6h1V123h1V122.8h1V123.1h1V123.8h1V123.1h1V122.3h1V123.9h1V123.8h1V124.1h1V123.7h1V123.2h1V123.4h1V121.8h1V122.5h1V121.4h1V122.3h1V122.4h1V120.7h1V121.3h1V120.7h0.4V173.5ZM1834.7 173.5V119.8h0.3V121.4h1V121h1V120.6h1V121.6h1V120.8h1V121.9h1V120.8h1V120.4h1V120.7h1V120.4h1V121.1h1V120.9h1V122.1h1V120.8h1V120.9h1V121.6h1V121.5h1V122h1V123h1V122.2h1V122.5h1V121.7h1V122h1V122.9h1V123.5h1V123.4h1V123h1V122.9h1V122.8h1V122.3h1V123.8h1V123.3h0.2V173.5Z" fill="#b5b8b9"/><path d="M1803.4 173.5V119.3h0.6V118.8h1V116.6h1V118.7h1V118.1h1V113.7h1V117.3h1V113.3h1V114.4h1V115.1h1V112.9h1V112.6h1V113.5h1V113.3h1V110.3h1V111.5h1V115.8h1V116.1h1V110.5h1V115.4h1V115.6h1V114.3h1V116h1V115.4h1V117.1h1V114.7h1V117.8h1V118.1h1V115.6h1V119.1h1V119.3h1V118.5h0.7V173.5Z" fill="#6289c7"/><path d="M1772.8 122.5L1775.4 122.6L1778 122.7L1780.6 122.7L1783.2 122.8L1785.8 122.9L1788.4 123L1791 123L1793.6 122.8L1796.2 122.4L1798.7 121.8L1801.3 121.2L1803.9 120.5L1806.5 119.8L1809.1 119.1L1811.7 118.3L1814.3 117.5L1816.9 116.8L1819.5 116.6L1822.1 117L1824.7 117.9L1827.3 118.8L1829.9 119.5L1832.5 120L1835.1 120.3L1837.7 120.5L1840.3 120.7L1842.8 120.9L1845.4 121.2L1848 121.4L1850.6 121.7L1853.2 121.9L1855.8 122.2L1858.4 122.4L1861 122.7L1863.6 122.9L1866.2 123" fill="none" stroke="#4469b5" stroke-width="3.5" stroke-linejoin="round"/>
<path d="M1767.8 27.4V179.9H1871M1765 173.5h2.8M1765 140.38h2.8M1765 107.25h2.8M1765 74.12h2.8M1765 41h2.8M1772.8 179.9v1.9M1803.4 179.9v1.9M1819.1 179.9v1.9M1834.7 179.9v1.9M1866.1 179.9v1.9" fill="none" stroke="#333" stroke-width="1.9"/>
<text x="1817.3" y="47.2" font-size="16.45" text-anchor="middle" fill="#231f20">q = 0.0064</text>
<path d="M1898.5 173.5V85.5h0.5V105.3h1V102.2h1V83.6h1V86.9h1V92.8h1V78.9h1V93.6h1V85.8h1V101.6h1V106.2h1V98.5h1V93.2h1V98.4h1V99.5h1V87.8h1V92.3h1V100.3h1V91.3h1V98.2h1V100.2h1V90.7h1V102.5h1V107.5h1V96.3h1V95.4h1V92.8h1V99.3h1V95.9h1V101.4h1V96.1h1V93.5h0.1V173.5ZM1960.4 173.5V99.4h0.6V91.3h1V99.3h1V96.1h1V86.5h1V93h1V106.3h1V94.4h1V106.9h1V96h1V93.2h1V98.6h1V95.3h1V102.4h1V99.8h1V97.1h1V101.6h1V105.4h1V97.4h1V99.9h1V83.4h1V103.4h1V100.2h1V101.5h1V93.2h1V102h1V91.2h1V99.1h1V96.9h1V87.7h1V104.8h1V100.1h0.9V173.5Z" fill="#e6e7e7"/><path d="M1898.5 173.5V102.3h0.5V108.1h1V103.5h1V100.4h1V98.3h1V95.1h1V95.7h1V103.3h1V102.6h1V105.2h1V110.6h1V98.6h1V101.9h1V99h1V101.4h1V104.8h1V101.8h1V108.5h1V104.7h1V100.2h1V100.6h1V98.1h1V105.3h1V109.8h1V104.2h1V98h1V104.3h1V107.3h1V98.5h1V102h1V99h1V100.8h0.1V173.5ZM1960.4 173.5V99.4h0.6V95.8h1V100.4h1V96.5h1V102.1h1V96.3h1V106.4h1V100.4h1V108h1V97.9h1V99.6h1V100.5h1V102.9h1h1V107.8h1V101.6h1V103.3h1V107.3h1V102.7h1V101.1h1V99.7h1V104.2h1V106.1h1V104.4h1V101.5h1V104.3h1V104h1V106.9h1V101.6h1V103.9h1V105.3h1V103.6h0.9V173.5Z" fill="#d4d6d6"/><path d="M1898.5 173.5V112.6h0.5V112.7h1V109.7h1V111.6h1V110.2h1V107.3h1V107.8h1V111h1V111.1h1V109.5h1V114.7h1V107h1V107.9h1V108.1h1V107h1V115.2h1V108h1V114.9h1V110.3h1V108.3h1V109h1V108.1h1V114.3h1V113.7h1V107.6h1V107.4h1V111.8h1V112h1V108h1V109.2h1V107.8h1V111.8h0.1V173.5ZM1960.4 173.5V106.7h0.6V106.4h1V109.7h1V107.6h1V110.9h1V106.3h1V112.3h1V109.8h1V112h1V106.9h1V107.4h1V108.2h1V112.4h1V110.9h1V110.8h1V108h1V108.8h1V111.9h1V110.7h1V111.6h1V107.6h1V108.1h1V114.5h1V111.4h1V112.1h1V112.4h1V109.2h1V113.4h1V113.3h1V111.2h1V111.3h1V113.8h0.9V173.5Z" fill="#bfc1c2"/><path d="M1929.1 173.5V88.7h0.9V86.1h1V98.3h1V103.6h1V87.9h1V101.1h1V94h1V99.3h1V100.9h1V100.4h1V102.5h1V88.7h1V104.9h1V102.2h1V84h1V83.4h1V89.7h1V83.1h1V95h1V96.4h1V91.5h1V93.5h1V98.6h1V101.2h1V90.1h1V103.1h1V87.3h1V92h1V105.9h1V84.7h1V94.9h1V93.8h0.4V173.5Z" fill="#f8f6b3"/><path d="M1929.1 173.5V105.8h0.9V103.1h1V105.7h1V106.5h1V104.5h1V103.6h1V102.4h1V103.1h1V101.1h1V101.3h1V103.9h1V97.1h1V105.8h1V102.6h1V97.8h1V96.8h1V94.4h1V93.1h1V99.8h1V99.4h1V92.9h1V99.8h1V99.3h1V105.9h1V95.8h1V107h1V96.2h1V102.5h1V106h1V98.2h1V99.8h1V97.4h0.4V173.5Z" fill="#f4f187"/><path d="M1929.1 173.5V113.5h0.9V109.8h1V113.1h1V111.4h1V111.5h1V109.3h1V112.2h1V108.2h1V109h1V107.5h1V109.7h1V102.2h1V109.3h1V110.1h1V108.4h1V107.8h1V106.4h1V102.1h1V103.9h1V109.6h1V103.4h1V109.9h1V108.8h1V111.2h1V106.6h1V111.2h1V103.8h1V107.6h1V111.2h1V104.5h1V107.5h1V106.4h0.4V173.5Z" fill="#efeb4f"/><path d="M1898.5 173.5V121.3h0.5V121.6h1V122.9h1V122.4h1V121.2h1V122.7h1V121.7h1V122.5h1V121.6h1V121.4h1V122.8h1V121.6h1V123.2h1V122.2h1V122.7h1V122.6h1V123.1h1V123h1V123.1h1V122.1h1h1V121.8h1V122.8h1V123.1h1V121.9h1V122.9h1V122.8h1V123.1h1V123.3h1V122.2h1V121.6h1V122.3h0.1V173.5ZM1960.4 173.5V120.7h0.6V119.1h1V119.4h1V119.6h1V120.3h1V120.2h1V119.3h1V120.1h1V120.2h1V119.4h1V120.1h1V119.4h1V120.5h1V119.4h1V119.8h1V121.3h1V120.9h1V120.3h1V121.8h1V121.9h1V121.4h1V120.4h1V121.9h1V121.4h1V120.9h1V120.7h1V121.5h1V120.1h1V120.4h1V121.6h1V121.1h1V120.3h0.9V173.5Z" fill="#b5b8b9"/><path d="M1929.1 173.5V116.8h0.9h1V117.9h1V114.2h1V114.3h1V117h1V119.5h1V116.1h1V115h1V118.5h1V115.4h1V111.4h1V112.8h1V117.7h1V111h1V114.7h1V114.1h1V114.8h1V115.8h1V115.7h1V117.7h1V116.7h1V114.1h1V115.3h1V118.2h1V115.6h1V113.6h1V117.8h1V117.4h1V112.9h1V112.7h1V115h0.4V173.5Z" fill="#ede837"/><path d="M1898.5 121.8L1901.1 121.9L1903.7 121.9L1906.3 122L1908.9 122L1911.5 122.1L1914.1 122.2L1916.7 122.2L1919.3 122.3L1921.8 122.3L1924.4 122.4L1927 122.4L1929.6 122.1L1932.2 121.5L1934.8 120.5L1937.4 119.5L1940 118.9L1942.6 118.7L1945.2 118.8L1947.8 119L1950.4 119.1L1953 119.3L1955.6 119.3L1958.2 119.4L1960.8 119.5L1963.4 119.6L1966 119.7L1968.6 119.8L1971.1 119.9L1973.7 120.2L1976.3 120.5L1978.9 120.8L1981.5 121L1984.1 121L1986.7 120.8L1989.3 120.7L1991.9 120.6" fill="none" stroke="#4469b5" stroke-width="3.5" stroke-linejoin="round"/>
<path d="M1893.5 27.4V179.9H1996.7M1890.7 173.5h2.8M1890.7 140.38h2.8M1890.7 107.25h2.8M1890.7 74.12h2.8M1890.7 41h2.8M1898.5 179.9v1.9M1929.1 179.9v1.9M1944.8 179.9v1.9M1960.4 179.9v1.9M1991.8 179.9v1.9" fill="none" stroke="#333" stroke-width="1.9"/>
<text x="1945" y="47.2" font-size="16.45" text-anchor="middle" fill="#231f20">q = 0.85</text>
<text x="1382.3" y="180.4" font-size="19.7" text-anchor="end">0</text>
<text x="1382.3" y="114.15" font-size="19.7" text-anchor="end">5</text>
<text x="1382.3" y="47.9" font-size="19.7" text-anchor="end">10</text>
<text x="1389.7" y="224.6" font-size="19.7" fill="#231f20">Prostate, HMF</text>
<path d="M1396.3 380.2V293.5h0.7V303.8h1V301.7h1V313.3h1V308.6h1V312h1V304.9h1V316.5h1V316.3h1V285.1h1V309.3h1V297.9h1V301.7h1V303.4h1V304.8h1V306.8h1V309.5h1V311.3h1V304.3h1V312.1h1V299h1V308.5h1V303.5h1V302h1V299h1V304.1h1V298.9h1V303.1h1V311h1V301.2h1V310.8h0.9V380.2ZM1458.2 380.2V311.9h0.8V310.9h1V287.8h1V303.2h1V300.3h1V293h1V300.4h1V311.1h1V310.6h1V313.5h1V308.6h1V309.8h1V303.8h1V298.1h1V306h1V300.5h1V300.8h1V292.6h1V305.8h1V301.4h1V298.6h1V308.9h1V298h1V301.4h1V307.2h1V290.3h1V290.8h1V295.6h1V295.9h1V307.3h1V299.8h1V296.5h0.7V380.2Z" fill="#e6e7e7"/><path d="M1396.3 380.2V312.7h0.7V305.4h1V310.7h1V315.8h1V310.1h1V313.5h1V310.1h1V318.7h1h1V304.3h1V311.4h1V306.2h1V309h1V309.5h1V305.7h1V307.4h1V310.3h1V312.2h1V306.9h1V320.6h1V310h1V308.7h1V310.2h1V313.1h1V306.8h1V308.3h1V310.8h1V309.1h1V315.7h1V318.5h1V311.6h0.9V380.2ZM1458.2 380.2V314.4h0.8V314.1h1V306.9h1V309.2h1V319.4h1V307.9h1V322.1h1V312.3h1V312.8h1V318h1V310.8h1V310.9h1V313.7h1V310.1h1V312.9h1V307.3h1V307.4h1V311.4h1V313.1h1V307.1h1V314.4h1V316.3h1V317.1h1V313.2h1V308.9h1V309.6h1V310.2h1V312h1V311.1h1V310.1h1V315.6h1V316.2h0.7V380.2Z" fill="#d4d6d6"/><path d="M1396.3 380.2V316.3h0.7V317.3h1V321.1h1V320.7h1V322.1h1V318.1h1V320h1V324.3h1V323.5h1V315.8h1V321.8h1V318.8h1V318.1h1V320.6h1V317.1h1V317.6h1V316.7h1V321.3h1V315.4h1V325.7h1V316.9h1V320.3h1V320.2h1V319.2h1V319.9h1V317.1h1V317.5h1V323.4h1V326.4h1V322.5h1V322.7h0.9V380.2ZM1458.2 380.2V326.6h0.8V326.4h1V318h1V318.2h1V326.3h1V321.3h1V326h1V323.9h1V321h1V323.7h1V320.3h1V317.2h1V320.9h1V320.4h1V317.6h1V320.9h1V315.7h1V322.6h1V319.5h1V319.8h1V324.8h1V320.3h1V323.4h1V318.7h1V322.2h1V317.8h1V323.4h1V322.1h1V321.7h1V322.1h1V319.6h1V320.5h0.7V380.2Z" fill="#bfc1c2"/><path d="M1426.9 380.2V316h0.1V306.3h1V289.3h1V303.3h1V303.2h1V277.9h1V288.6h1V306.1h1V297.5h1V300.5h1V292.3h1V294.9h1V278h1V281.3h1V269h1V274.9h1V272.5h1V262.1h1V286.3h1V285.2h1V293.1h1V276.1h1V293.6h1V292.9h1V294.7h1V308.8h1V284.4h1V288.8h1V291.4h1V296.9h1V307.4h1V304.3h1V291.1h0.2V380.2Z" fill="#f4929a"/><path d="M1426.9 380.2V318.1h0.1V306.4h1V310.7h1V306.9h1V305.4h1V299.5h1V304.7h1V308.7h1V314.5h1V312.3h1V297.5h1V298.6h1V289.8h1V294.1h1V294h1V285.6h1V280.6h1V277.3h1V295h1V286.9h1V295.8h1V296.8h1V301.3h1V308.4h1V309.1h1V311.7h1V305.2h1V310.1h1V306.3h1V310.1h1V314.1h1V308.1h1V302h0.2V380.2Z" fill="#ee5b68"/><path d="M1426.9 380.2V323.2h0.1V318.6h1V315.1h1V320.9h1V317.9h1V313.4h1V313.7h1V320.3h1V319.3h1V317h1V311h1V308.5h1V303.9h1V303.3h1V299h1V295.3h1V295.7h1V289.8h1V305.7h1V300.7h1V306.9h1V303.1h1V312.4h1V315.3h1V318h1V320h1V312.7h1V318.6h1V317.4h1V318.8h1V319.8h1V318h1V315.9h0.2V380.2Z" fill="#ea2f3f"/><path d="M1396.3 380.2V332.6h0.7V333.8h1V333.3h1V333.4h1V333.8h1V333.9h1V333.1h1V333.7h1V332.3h1V332.4h1V333.1h1V333.2h1V332.8h1V332.6h1V333.5h1V333.4h1h1V333.1h1V333.9h1V332.8h1V332.6h1V332.5h1V333.2h1V334.2h1V334.1h1V334.5h1V335.1h1V334h1V335.2h1V334.5h1V335.3h0.9V380.2ZM1458.2 380.2V335.5h0.8V333.9h1V334.6h1V333.7h1V334.8h1V334.3h1V333.8h1V334.3h1h1V332.6h1V333.2h1V332.8h1V332.2h1V331.7h1V333.2h1V332.8h1V333.2h1V332.8h1V331.4h1V333.3h1V332.5h1V332.6h1V332.1h1V333.1h1V333.6h1V333h1h1V334.2h1V333.5h1V333.4h1V334.4h1V333.3h0.7V380.2Z" fill="#b5b8b9"/><path d="M1426.9 380.2V332.8h0.1V326.3h1V328.5h1V333.9h1V329.3h1V331.9h1V330.6h1V330h1V323.4h1V323.5h1V320.8h1V318.8h1V320.9h1V310.3h1V314.5h1V310.2h1V312.2h1V307.9h1V313.9h1V311.6h1V317.7h1V320.3h1V319.1h1V322.2h1V325.9h1V322.8h1V323.2h1V325.8h1V328.3h1V331.9h1V331.2h1V328.4h1V329h0.2V380.2Z" fill="#e92435"/><path d="M1396.3 332.8L1398.9 332.8L1401.5 332.8L1404.1 332.8L1406.7 332.8L1409.3 332.8L1411.9 332.8L1414.5 332.8L1417.1 332.9L1419.7 333.4L1422.2 334.1L1424.8 334.8L1427.4 335.4L1430 335.4L1432.6 332.6L1435.2 328L1437.8 323.3L1440.4 318.6L1443 315.3L1445.6 318.8L1448.2 323.7L1450.8 328.6L1453.4 333.4L1456 335.8L1458.6 334.7L1461.2 334.1L1463.8 333.7L1466.3 333.2L1468.9 332.8L1471.5 332.3L1474.1 332L1476.7 332.2L1479.3 332.5L1481.9 332.8L1484.5 333.1L1487.1 333.4L1489.7 333.6" fill="none" stroke="#4469b5" stroke-width="3.5" stroke-linejoin="round"/>
<path d="M1391.3 234.5V386.7H1494.5M1388.5 380.2h2.8M1388.5 344.4h2.8M1388.5 308.6h2.8M1388.5 272.8h2.8M1388.5 237h2.8M1396.3 386.7v1.9M1426.9 386.7v1.9M1442.6 386.7v1.9M1458.2 386.7v1.9M1489.6 386.7v1.9" fill="none" stroke="#333" stroke-width="1.9"/>
<text x="1443.8" y="254.4" font-size="16.45" text-anchor="middle" fill="#231f20">q = 6.5 x 10<tspan font-size="9.87" dy="-6.2">-7</tspan></text>
<path d="M1521.9 380.2V292.4h0.1V294.2h1V297.4h1V290.9h1V309.2h1V295.1h1V307.2h1V289.9h1V292.8h1V290.8h1V293.9h1V299.7h1V297.7h1V303h1V281.1h1V278.3h1V284.8h1V314.8h1V290.3h1V292.3h1V309.7h1V295h1V289.5h1V297.9h1V297.2h1V299.4h1V293.3h1V296.7h1V302.5h1V301.1h1V280.3h1V303h0.5V380.2ZM1583.8 380.2V297.3h0.2V289.2h1V302.5h1V299.6h1V310.1h1V307.5h1V305.5h1V300.9h1V301.2h1V306.8h1V296.5h1V301h1V296h1V304.6h1V294.3h1V314.5h1V298.5h1V312.4h1V300h1V300.4h1V297.7h1V293.1h1V282.3h1V299.9h1V301.6h1V291.7h1V306.2h1V291h1V312.1h1V296.3h1V300.5h1V288.9h1V300.9h0.3V380.2Z" fill="#e6e7e7"/><path d="M1521.9 380.2V300.5h0.1V304.8h1V299.9h1V301h1V314.5h1V310.1h1V310h1V300.1h1V305h1V299.9h1V299.7h1V305.2h1V300.3h1V305.3h1V301h1V298.1h1V304.6h1V315.4h1V310.2h1V298.1h1V310.6h1V307h1V309.8h1V299.5h1V308.2h1V301.6h1V308h1V304h1V306.7h1V301.4h1V301.3h1V308.1h0.5V380.2ZM1583.8 380.2V303.4h0.2V310.9h1V308.2h1V306.6h1V311.1h1V308.8h1V314h1V314.1h1V302.9h1V313.9h1V303.8h1V305h1V311.8h1V307.4h1V301.8h1V315.3h1V306.3h1V316.3h1V308.3h1V302h1V303.5h1V299.2h1V299h1V301.3h1V302.3h1V299h1V311.3h1V299.8h1V312.7h1V298.8h1V302.7h1V303.6h1V306.9h0.3V380.2Z" fill="#d4d6d6"/><path d="M1521.9 380.2V313.8h0.1V318.4h1V312.7h1V314.1h1V319.6h1V318.1h1V316.6h1V313.2h1V315.2h1V310.9h1V312.9h1V315h1V314.2h1V315.7h1V314.1h1V311.4h1V316.4h1V320.4h1V317.1h1V311.8h1V317.3h1V312.3h1V315.2h1V311.9h1V319.4h1V313.2h1V318.5h1V317.6h1V312.7h1V315.9h1V313.7h1V320.2h0.5V380.2ZM1583.8 380.2V313.2h0.2V323.9h1V318h1V321.4h1V316.3h1V322.5h1V320.9h1V320.1h1V315.1h1V318h1V312.1h1V313.5h1V318.6h1V316.8h1V316.2h1V319.9h1V312.7h1V320.9h1V317.4h1V311.7h1V314.7h1V311.1h1V311.5h1V313.4h1V315.4h1V312.8h1V316h1V311.4h1V319.5h1V310.1h1V311h1V310.6h1V316.5h0.3V380.2Z" fill="#bfc1c2"/><path d="M1552.5 380.2V306.8h0.5V308.7h1V304.3h1V305.6h1V316.9h1V304.7h1V312.7h1V310.7h1V306.2h1V300.8h1V303.6h1V302.8h1V297.7h1V300.1h1V266.8h1V254.9h1V273.2h1V266h1V294.9h1V293.1h1V302.9h1V296h1V295.8h1V305.2h1V307.9h1V313.4h1V307.1h1V301.4h1V296.7h1V309.1h1V291.9h1V310.2h0.8V380.2Z" fill="#9ed2d1"/><path d="M1552.5 380.2V307.8h0.5V313.1h1V313.4h1V309.3h1V317.2h1V311.1h1V314h1V313h1V307.5h1V303.3h1V307.9h1V312.9h1V299.6h1V300.7h1V292.4h1V279.9h1V274h1V289.2h1V298.5h1V300.2h1V307h1V307.3h1V312.1h1V308.5h1V309.9h1V314.5h1V310.7h1V311.2h1V314.6h1V311.5h1V310.1h1V310.6h0.8V380.2Z" fill="#66b8b6"/><path d="M1552.5 380.2V314.8h0.5V322.9h1V321.3h1V317.4h1V321.6h1V314.8h1V321.3h1V319.8h1V317.9h1V312.2h1V316.2h1V318.4h1V311.7h1V310.9h1V299.1h1V300.4h1V294h1V298h1V304.4h1V307h1V315.3h1V312.2h1V316.1h1V314.9h1V314.7h1V320.9h1V316.8h1V316.6h1V319.8h1V320.3h1V318.9h1V315.1h0.8V380.2Z" fill="#1f9794"/><path d="M1521.9 380.2V327.4h0.1h1V327h1V328.1h1V328h1V328.4h1V328h1V327.8h1V329.3h1V328.4h1V329.2h1V329.5h1V328.7h1V328.6h1V328.1h1V328h1V328.9h1h1V329.9h1h1V329.6h1V328.7h1V330.5h1V329.9h1V329.2h1V330.8h1V331.1h1V330.2h1V330.9h1V331h1V331.5h1V330.8h0.5V380.2ZM1583.8 380.2V333.2h0.2V331.5h1V332.5h1V331.9h1V331.3h1V331.2h1V330.5h1V330.9h1V331.3h1V331.2h1V329.9h1V329.5h1V329.1h1V329.9h1V329.8h1V328.3h1V329.4h1V329.1h1V328.4h1V327.7h1V328.9h1V329.1h1V328.5h1h1V327.2h1h1V327.5h1V327.7h1V327h1V327.9h1h1V327.4h1V327.2h0.3V380.2Z" fill="#b5b8b9"/><path d="M1552.5 380.2V329.7h0.5V329.8h1V329.1h1V325.7h1V331.3h1V324.8h1V326.8h1V329h1V323.7h1V322.4h1V322.7h1V319.4h1V321.6h1V317.4h1V312.6h1V318.3h1V319.4h1V312.8h1V322.2h1V323.4h1V320.6h1V325.7h1V322.4h1V321.4h1V323.2h1V329.6h1V327h1V330.5h1V326.5h1V325.7h1V329.2h1V328.7h0.8V380.2Z" fill="#008985"/><path d="M1521.9 326.6L1524.5 327.2L1527.1 327.8L1529.7 328.5L1532.3 329L1534.9 328.7L1537.5 328.4L1540.1 328.7L1542.7 329.2L1545.2 329.6L1547.8 330.1L1550.4 330.5L1553 331.2L1555.6 332.8L1558.2 332L1560.8 329.3L1563.4 326.6L1566 323.9L1568.6 321.9L1571.2 323.9L1573.8 326.6L1576.4 329.3L1579 332L1581.6 333.1L1584.2 332L1586.8 331.3L1589.4 330.7L1592 330.1L1594.5 329.5L1597.1 328.9L1599.7 328.4L1602.3 328.1L1604.9 328L1607.5 327.8L1610.1 327.7L1612.7 327.5L1615.3 327.4" fill="none" stroke="#4469b5" stroke-width="3.5" stroke-linejoin="round"/>
<path d="M1516.9 234.5V386.7H1620.1M1514.1 380.2h2.8M1514.1 344.4h2.8M1514.1 308.6h2.8M1514.1 272.8h2.8M1514.1 237h2.8M1521.9 386.7v1.9M1552.5 386.7v1.9M1568.2 386.7v1.9M1583.8 386.7v1.9M1615.2 386.7v1.9" fill="none" stroke="#333" stroke-width="1.9"/>
<text x="1565.4" y="254.4" font-size="16.45" text-anchor="middle" fill="#231f20">q = 0.90</text>
<path d="M1647.3 380.2V306h0.7V321.8h1V308.4h1V307.7h1V306.8h1V305.6h1V302.2h1V303.1h1V305.4h1V309.1h1V317.8h1V303.8h1V313.1h1V311.6h1V316.5h1V303.9h1V309.3h1V312.3h1V303.8h1V318h1V310.3h1V312.5h1V307.5h1V306.3h1V311.9h1V300.7h1V312.3h1V314.6h1V313.9h1V303.5h1V303.1h0.9V380.2ZM1709.2 380.2V318.9h0.8V305.6h1V306h1V312.5h1V318.8h1V311.7h1V307h1V315.7h1V302.1h1V305.3h1V303.6h1V317h1V309.1h1V304.2h1V309.7h1V302.6h1V296.3h1V317.2h1V316.7h1V306.1h1V308.5h1V308.1h1V314.3h1V309.3h1V290.5h1V300.2h1V300.5h1V299.2h1V306.4h1V297.8h1V300.1h1V306.7h0.7V380.2Z" fill="#e6e7e7"/><path d="M1647.3 380.2V309.5h0.7V323.4h1V315.2h1V316.2h1V311.1h1V307.2h1V306.9h1V321h1V316.5h1V320.4h1V319h1V315.9h1V317.4h1V314.1h1V322.3h1V321.5h1V310.3h1V319.7h1V321.3h1V318.8h1V310.4h1V313.3h1V316.1h1V315.4h1V318.6h1V317.5h1V319.6h1V317h1V321.6h1V314h1V318.7h0.9V380.2ZM1709.2 380.2V319.9h0.8V308.1h1V315h1V313.8h1V320.5h1V321.5h1V310.8h1V316.5h1V319.8h1V309.5h1V307.8h1V319.6h1V319h1V322h1V317.6h1V314.6h1V314h1V321.2h1V317.2h1V312.8h1V316.6h1V316.4h1V315.5h1V309.9h1V308.2h1V310.4h1V318.3h1V309h1V319.3h1V312.4h1V309.3h1V315.3h0.7V380.2Z" fill="#d4d6d6"/><path d="M1647.3 380.2V321.6h0.7V328.8h1V327.7h1V325.7h1V322.4h1V319.7h1h1V328.3h1V323.2h1V323.9h1V327.4h1V320.5h1V327.8h1V322h1V327.2h1V325h1V322h1V323.9h1V328.1h1V325h1V319.5h1V322.2h1V327.5h1V324.4h1V326.4h1V327.1h1V324.1h1V320.5h1V324.9h1V318.7h1V324.1h0.9V380.2ZM1709.2 380.2V325.8h0.8V318.6h1V324.5h1V322.3h1V327.8h1V326.2h1V323.5h1V321.9h1V323h1V321h1V319.7h1V326.2h1V322.3h1V327h1V328.8h1V320.9h1V324.5h1V328.8h1V323.5h1V323.6h1V323h1V323.7h1V327.3h1V321.8h1V321h1V322.1h1V323.7h1V321.3h1V322.6h1V319.7h1V321.8h1V326.6h0.7V380.2Z" fill="#bfc1c2"/><path d="M1677.9 380.2V309.3h0.1V309.1h1V306h1V301.3h1V306.2h1V293.8h1V304.4h1V303.1h1V301.6h1V298.9h1V300.9h1V299.5h1V299.3h1V300.4h1V293.1h1V281.8h1V283.2h1V295.4h1V300.4h1V291.1h1V299.4h1V306.9h1V296.5h1V303.2h1V308.2h1V309.5h1V304h1V308.9h1V307.3h1V305.1h1V304h1V300.8h1V309h0.2V380.2Z" fill="#c3868d"/><path d="M1677.9 380.2V318.8h0.1V312.1h1V310.1h1V310.2h1V310.7h1V306h1V306.6h1V307.5h1V307.1h1V310.7h1V307.1h1V304.5h1V299.9h1V303.8h1V299h1V296.6h1V298.3h1V298h1V301.7h1V298.3h1V304.8h1V309.3h1V303h1V309.2h1V309.8h1V310.9h1V311.1h1V310.2h1V312.4h1V317.2h1V318.8h1V308.7h1V311.4h0.2V380.2Z" fill="#a54a54"/><path d="M1677.9 380.2V321.9h0.1V322.8h1V319.6h1V320.1h1V314.3h1V315.4h1h1V312.6h1V315h1V316.8h1V314.3h1V311.1h1V308.4h1V312.6h1V304.8h1V308.8h1V307.5h1V311.3h1V311.2h1V304.9h1V310h1V314.4h1V309h1V313.1h1V317.7h1V317.4h1V320.2h1V320.1h1V320.2h1V320.6h1V323.7h1V318.6h1V321.1h0.2V380.2Z" fill="#8d1926"/><path d="M1647.3 380.2V337.1h0.7V337h1h1V335.5h1V337.1h1V335.9h1V336.2h1V335.5h1V336.2h1V335.9h1V335.4h1V335.7h1V335.6h1V335.3h1V335.9h1V335.4h1V335.9h1V334.5h1V336h1V334.3h1V335.6h1V334.9h1V334.5h1V335.4h1V334.3h1V334.9h1V333.1h1V332.8h1V333.8h1V332.1h1V331.3h0.9V380.2ZM1709.2 380.2V333.6h0.8V334.2h1V333.6h1V334.4h1V334.7h1V335.7h1V336.4h1V335.4h1V336.2h1V334.9h1V336.2h1V336.1h1V334.9h1V336h1V335.2h1V335.4h1V336h1V336.3h1V335.6h1V335.7h1V335.8h1V336.2h1V335.5h1h1V335.6h1V334.9h1V335.7h1V336.6h1V335h1V336.5h1V336.2h1V336.5h0.7V380.2Z" fill="#b5b8b9"/><path d="M1677.9 380.2V328.2h0.1V329.5h1V324.3h1V323.2h1V322.6h1V325.8h1V324h1V323h1V323.8h1V319.2h1V319.1h1V316.6h1V320.9h1V319h1V314.8h1V317.7h1V315.4h1V317.3h1V319.4h1V317.6h1V318.9h1V318.7h1V317h1V318.9h1V324.1h1V323.6h1V323h1V322.9h1V327.2h1V326.2h1V325.2h1V331.1h1V330.5h0.2V380.2Z" fill="#870d1b"/><path d="M1647.3 336.3L1649.9 336.2L1652.5 336L1655.1 335.9L1657.7 335.7L1660.3 335.6L1662.9 335.3L1665.5 335.1L1668.1 334.7L1670.7 334.4L1673.2 333.7L1675.8 332.6L1678.4 331L1681 329.1L1683.6 326.8L1686.2 324.5L1688.8 322.2L1691.4 320.7L1694 320.3L1696.6 321.1L1699.2 323L1701.8 325.7L1704.4 328.4L1707 331L1709.6 333L1712.2 334.4L1714.8 335.2L1717.3 335.4L1719.9 335.4L1722.5 335.4L1725.1 335.4L1727.7 335.4L1730.3 335.4L1732.9 335.4L1735.5 335.4L1738.1 335.4L1740.7 335.4" fill="none" stroke="#4469b5" stroke-width="3.5" stroke-linejoin="round"/>
<path d="M1642.3 234.5V386.7H1745.5M1639.5 380.2h2.8M1639.5 344.4h2.8M1639.5 308.6h2.8M1639.5 272.8h2.8M1639.5 237h2.8M1647.3 386.7v1.9M1677.9 386.7v1.9M1693.6 386.7v1.9M1709.2 386.7v1.9M1740.6 386.7v1.9" fill="none" stroke="#333" stroke-width="1.9"/>
<text x="1694.7" y="254.4" font-size="16.45" text-anchor="middle" word-spacing="-0.3" fill="#231f20">q &lt; 2.2x10<tspan font-size="9.87" dy="-6.2">-16</tspan></text>
<path d="M1772.8 380.2V312.8h0.2V302.4h1V298.8h1V316.1h1V307.2h1V308.9h1V306.9h1V297.9h1V309h1V297.9h1V305.7h1V299.2h1V305.4h1V317.3h1V304.3h1V307.2h1V300.5h1V320.7h1V313.8h1V309.2h1h1V312.3h1V311.4h1V304.4h1V306.9h1V304.8h1V310.3h1V315h1V302.7h1V315.1h1V309.9h1V305.6h0.4V380.2ZM1834.7 380.2V313.3h0.3V307h1V308.6h1V313.6h1V317.4h1V309.5h1V293.3h1V306.7h1V305.1h1V310.1h1V308.5h1V314.3h1V305.9h1V311.9h1V306h1h1V298.7h1V316.5h1V306.1h1V301.6h1V301.1h1V308.8h1V301.7h1V297.7h1V304h1V301.7h1V304.9h1V299.5h1V314.4h1V308h1V302.3h1V316.6h1V314h0.2V380.2Z" fill="#e6e7e7"/><path d="M1772.8 380.2V313.5h0.2V312.8h1V313.5h1V317.4h1V315.7h1V312.5h1V310.2h1V308h1V309.3h1V308h1V308.6h1V312h1V313.3h1V319.3h1V306.4h1V311h1V308.5h1V320.9h1V315h1V319.7h1V312.4h1V314.2h1V314.9h1V311.2h1V311.3h1V311.2h1V313.2h1V319.6h1V308.2h1V315.8h1V314.4h1V310.2h0.4V380.2ZM1834.7 380.2V314.2h0.3V315.4h1V311.1h1V317.2h1V317.7h1V312.9h1V308.6h1V312.2h1V306.3h1V311h1V314.8h1V315.9h1V311.2h1V313.9h1V316h1V308.4h1V314.4h1V317h1V314.1h1V311.1h1V313.4h1V319h1V310.3h1V314.1h1h1V313.7h1V313.2h1V316.5h1V315.9h1V310h1V310.3h1V318h1V315.9h0.2V380.2Z" fill="#d4d6d6"/><path d="M1772.8 380.2V321.6h0.2V320.6h1V318.1h1V321h1V320h1V319.6h1V316.8h1V317.3h1V318.3h1V319.4h1V318.4h1V321h1V323.6h1V324.5h1V317.7h1V321.5h1V318.6h1V324.6h1V318.9h1V323.8h1V316.4h1V317.3h1V319.1h1V320.2h1V316.5h1V322.9h1V317.3h1V323.7h1V319.1h1V320.1h1V317.7h1V316.2h0.4V380.2ZM1834.7 380.2V320h0.3V321.2h1V321.9h1V320.5h1V321.3h1V317.7h1V318.6h1V321.2h1V316.8h1V318.5h1V317.8h1V320.9h1V315.9h1V322.7h1V320.6h1V316.2h1V318h1V320.2h1V323.3h1V322.3h1V321.6h1V324h1V316.4h1V318.5h1V320.8h1V317.5h1V320.2h1V322h1V320.4h1V320.7h1V318.9h1V324.5h1V320.4h0.2V380.2Z" fill="#bfc1c2"/><path d="M1803.4 380.2V309h0.6V309.5h1V308.3h1V301.9h1V290.3h1V296.8h1V312.6h1V303.6h1V303.7h1V304.1h1V294.1h1V307.8h1V299.4h1V303h1V294.6h1V303.5h1V296.2h1V292.5h1V304.2h1V289.2h1V304.7h1V294.3h1V296.4h1V310.6h1V309.3h1V295.3h1V300.7h1V308.3h1V305.7h1V314.4h1V299.6h1V302.5h0.7V380.2Z" fill="#c3d2ea"/><path d="M1803.4 380.2V309.7h0.6V315.2h1V309h1V307.7h1V302.9h1V309h1V313.8h1V307.9h1V305.9h1V306.7h1V302.8h1V308.4h1V311.4h1V308.8h1V300.9h1V305h1V296.2h1V303.5h1V311.6h1V306.2h1V307.8h1V310.2h1V307.3h1V311.4h1V310.4h1V311.7h1V308.5h1V311.9h1V317.4h1V317.1h1V304.1h1V304.2h0.7V380.2Z" fill="#a1b8dd"/><path d="M1803.4 380.2V320.3h0.6V321h1V316.7h1V316.4h1V314.1h1V315.2h1V319h1V317.1h1V315.6h1V317.6h1V312.9h1V314.1h1V319.5h1V317.2h1V311.4h1V311.1h1V308.6h1V312.6h1V318.7h1V311.2h1V312.6h1V314h1V314.2h1V319.8h1V314.8h1V319.4h1V319.1h1V315.9h1V322h1V322.9h1V315.2h1h0.7V380.2Z" fill="#7597ce"/><path d="M1772.8 380.2V332.5h0.2V331.2h1V332.5h1V331.9h1V331.5h1V331.2h1V332.8h1V330.9h1V331.5h1V331.6h1V331.7h1V331.4h1V331.5h1V331.9h1V331.4h1V331h1V330.6h1V330.7h1V331.4h1V331.1h1V332h1V330.6h1V332h1V330.6h1V331.6h1V330.7h1V330.6h1V331.1h1V330.5h1V330.6h1V330.8h1V331.6h0.4V380.2ZM1834.7 380.2V330.5h0.3V329.8h1V331.1h1V330.9h1V329.4h1V330.6h1V330.1h1V328.9h1V329.6h1V328.9h1V330.2h1V329h1V330h1V330.6h1V329.9h1V330h1V330.4h1V329.8h1V331.5h1V330.9h1V331.5h1V331.2h1V332.1h1V331.9h1V332.4h1V331.5h1V331.8h1V332h1V333.5h1V332.5h1V334.4h1V333.7h1V335.2h0.2V380.2Z" fill="#b5b8b9"/><path d="M1803.4 380.2V326h0.6V323.5h1V327.5h1V325.1h1V327.9h1V329.1h1V328.8h1V324.5h1V324.2h1V323.4h1V325.2h1V323.7h1V320.7h1V322.2h1V321.5h1V319.2h1V320.6h1V322.8h1V326.8h1V326h1V323.2h1V323h1V327.2h1V328.7h1V325.2h1V327h1V327.2h1V328.3h1V328.7h1V329.8h1V327.5h1V324.3h0.7V380.2Z" fill="#6289c7"/><path d="M1772.8 331.8L1775.4 331.8L1778 331.6L1780.6 331.5L1783.2 331.4L1785.8 331.3L1788.4 331.2L1791 331.1L1793.6 331L1796.2 330.8L1798.7 330.7L1801.3 330.5L1803.9 330.4L1806.5 330.2L1809.1 329.8L1811.7 329.2L1814.3 328.3L1816.9 327.4L1819.5 327.2L1822.1 327.7L1824.7 328.7L1827.3 329.8L1829.9 330.5L1832.5 330.6L1835.1 330.4L1837.7 330.1L1840.3 329.8L1842.8 329.5L1845.4 329.4L1848 329.6L1850.6 330.1L1853.2 330.5L1855.8 331L1858.4 331.4L1861 332.2L1863.6 333.2L1866.2 334.1" fill="none" stroke="#4469b5" stroke-width="3.5" stroke-linejoin="round"/>
<path d="M1767.8 234.5V386.7H1871M1765 380.2h2.8M1765 344.4h2.8M1765 308.6h2.8M1765 272.8h2.8M1765 237h2.8M1772.8 386.7v1.9M1803.4 386.7v1.9M1819.1 386.7v1.9M1834.7 386.7v1.9M1866.1 386.7v1.9" fill="none" stroke="#333" stroke-width="1.9"/>
<text x="1818.8" y="254.4" font-size="16.45" text-anchor="middle" fill="#231f20">q = 0.14</text>
<path d="M1898.5 380.2V308.2h0.5V312.7h1V303.3h1V303.7h1V286.7h1V285.3h1V300.5h1V306.3h1V319.5h1V305.2h1V308.2h1V306.1h1V292h1V304.7h1V318.8h1V305.6h1V303.2h1V313.8h1V306.2h1V287.7h1V310.1h1V305h1V305.1h1V298.9h1V306.2h1V302.9h1V308.2h1V285h1V291h1V308h1V307.4h1V313.4h0.1V380.2ZM1960.4 380.2V291.7h0.6V302h1V313.3h1V299.8h1V300.9h1V292h1V306.9h1V292.9h1V297.4h1V309.2h1V299.6h1V307.5h1V299.2h1V307.3h1V313.7h1V299.1h1V317.9h1V308h1V302.6h1V288h1V304.9h1V309.7h1V315.1h1V312.5h1V302.8h1V304.3h1V315.5h1V296.8h1V303.2h1V298.8h1V297.2h1V313.9h0.9V380.2Z" fill="#e6e7e7"/><path d="M1898.5 380.2V310.5h0.5V317.2h1V304.7h1V312.6h1V307.2h1V302.8h1V316.3h1V320.4h1V320.7h1V313.3h1V312.7h1V311.6h1V312.1h1V312.2h1V319.4h1V322h1V318.3h1V318.7h1V308.4h1V307.5h1V311.9h1V319.8h1V314.7h1V306.3h1V319.4h1V304.8h1V310h1V303.2h1V303.8h1V319.1h1V309.8h1V319h0.1V380.2ZM1960.4 380.2V310.7h0.6V306.5h1V317.6h1V318.9h1V310.1h1V311.2h1V318.2h1V312.1h1h1V317h1V305h1V317h1V308.7h1V308h1V314.9h1V315.2h1V318.1h1V315.6h1V311.7h1V307.7h1V312.5h1V310h1V317.6h1V315.4h1V313.3h1V304.8h1V315.7h1V310.9h1V308.4h1V315.5h1V310.8h1V313.9h0.9V380.2Z" fill="#d4d6d6"/><path d="M1898.5 380.2V323.5h0.5V321.7h1V318.6h1V323h1V322h1V317.5h1V325h1V325.6h1V327.3h1V321.9h1V326.7h1V326.2h1V316.9h1V325.4h1V323.8h1V326.1h1V325.5h1V326h1V318.9h1V321h1V318.6h1V324.5h1V325.9h1V319.9h1V324.4h1V318h1V321.6h1V316.9h1V316.4h1V324.6h1V319.8h1V325.9h0.1V380.2ZM1960.4 380.2V324.1h0.6V320.2h1V324.2h1V323.3h1V317.8h1V316.3h1V323.8h1V322.1h1V320.2h1V320.6h1V316.1h1V320.8h1V320.1h1V322h1V321.3h1V326.3h1V325.3h1V321.6h1V324h1V317.8h1V316.5h1V317.9h1V321.9h1V325.4h1V317.4h1V316.4h1V324.6h1V320h1V322h1V324.1h1V318.2h1V319.7h0.9V380.2Z" fill="#bfc1c2"/><path d="M1929.1 380.2V306.9h0.9V292.5h1V313.9h1V303h1V303.5h1V295.4h1V306.9h1V295.9h1V302.1h1V300h1V298.1h1V298.7h1V295.5h1V312.9h1V302.4h1V293.5h1V302.3h1V292.5h1V305.3h1V309.4h1V307.9h1V302.8h1V291.7h1V300.8h1V308.4h1V293.8h1V303.6h1V315.4h1V304.4h1V305.8h1V303.7h1V302.5h0.4V380.2Z" fill="#f8f6b3"/><path d="M1929.1 380.2V307.3h0.9V306.5h1V314.7h1V312h1V310.2h1V315.1h1V311h1V314.4h1V313.9h1V316.9h1V302.2h1V306h1V312.9h1V315h1V302.8h1V298.1h1V303.8h1V309h1V305.9h1V311.1h1V315h1V303h1V301.4h1V306.5h1V312.5h1V313h1V303.6h1V316.7h1V315.4h1V318.9h1V306h1V302.5h0.4V380.2Z" fill="#f4f187"/><path d="M1929.1 380.2V314.1h0.9V318.4h1V323.8h1V320.3h1V315.4h1V323.2h1V323.1h1V320.6h1V318.3h1V323.6h1V313.9h1V320.2h1V319.3h1h1V314.2h1V313.1h1V315h1V322.5h1V320h1V315.2h1V319.6h1V313.1h1V313h1V315.4h1V323.2h1V322.6h1V316.4h1V321.3h1V320h1V322.5h1V316.3h1V314.2h0.4V380.2Z" fill="#efeb4f"/><path d="M1898.5 380.2V334.8h0.5V336h1V336.3h1V335.4h1V335.6h1V335.3h1h1V335.4h1V334.3h1V335.4h1V334.8h1V335.1h1V333.8h1V335.2h1V334.1h1V334.2h1V335h1V335.1h1V334.1h1V333.1h1V333.7h1V334.5h1V333.3h1V333.7h1V334.4h1V334.3h1V333.9h1V333.1h1V333.6h1V332.3h1V332.9h1V333h0.1V380.2ZM1960.4 380.2V332.6h0.6V333.1h1V332.8h1V333h1h1V333.9h1V332.7h1V333h1V332.5h1V333.5h1V334.1h1V333.4h1V333.5h1V332.7h1V333.5h1V333.8h1V333.4h1V333h1V334.4h1V334.2h1V334h1V334.5h1V333.3h1V333.5h1V333.1h1V333.9h1V333.1h1V334.4h1V334.7h1V334.1h1V333.4h1V333.9h0.9V380.2Z" fill="#b5b8b9"/><path d="M1929.1 380.2V327.5h0.9V325.1h1V328.3h1V330.4h1V325.6h1V328.9h1V325.8h1V328.5h1V328.8h1V325.4h1V328.4h1V330.4h1V324.8h1V332.7h1V331.4h1V332.2h1V329.3h1V331.2h1V326.7h1V328.6h1V328.4h1V327h1V327.4h1V328.3h1V330.9h1V327.9h1V324.7h1V331.3h1V328.5h1V324.7h1V325.1h1V330.8h0.4V380.2Z" fill="#ede837"/><path d="M1898.5 335.4L1901.1 335.2L1903.7 335L1906.3 334.8L1908.9 334.6L1911.5 334.3L1914.1 334.1L1916.7 333.9L1919.3 333.7L1921.8 333.4L1924.4 333.2L1927 333L1929.6 332.9L1932.2 332.9L1934.8 333.1L1937.4 333.2L1940 333.4L1942.6 333.5L1945.2 333.5L1947.8 333.2L1950.4 332.8L1953 332.3L1955.6 332.1L1958.2 332.1L1960.8 332.3L1963.4 332.5L1966 332.8L1968.6 333L1971.1 333.2L1973.7 333.4L1976.3 333.6L1978.9 333.7L1981.5 333.7L1984.1 333.7L1986.7 333.7L1989.3 333.7L1991.9 333.7" fill="none" stroke="#4469b5" stroke-width="3.5" stroke-linejoin="round"/>
<path d="M1893.5 234.5V386.7H1996.7M1890.7 380.2h2.8M1890.7 344.4h2.8M1890.7 308.6h2.8M1890.7 272.8h2.8M1890.7 237h2.8M1898.5 386.7v1.9M1929.1 386.7v1.9M1944.8 386.7v1.9M1960.4 386.7v1.9M1991.8 386.7v1.9" fill="none" stroke="#333" stroke-width="1.9"/>
<text x="1945" y="254.4" font-size="16.45" text-anchor="middle" fill="#231f20">q = 0.89</text>
<text x="1382.3" y="387.1" font-size="19.7" text-anchor="end">0</text>
<text x="1382.3" y="351.3" font-size="19.7" text-anchor="end">2</text>
<text x="1382.3" y="315.5" font-size="19.7" text-anchor="end">4</text>
<text x="1382.3" y="279.7" font-size="19.7" text-anchor="end">6</text>
<text x="1382.3" y="243.9" font-size="19.7" text-anchor="end">8</text>
<text x="1389.7" y="430.6" font-size="19.7" fill="#231f20">Lung, PCAWG</text>
<path d="M1396.3 586.8V524.1h0.7V527h1V526.5h1V527h1V531.3h1V520h1V521.6h1V525.6h1V522.2h1V523.7h1V520.2h1V522.8h1V520.3h1V517.1h1V527h1V528.3h1V531.8h1V522.7h1V523.8h1V518.4h1V530.5h1V522.5h1V535.5h1V522.7h1V527h1V522.8h1V524.4h1V518.4h1V519.6h1V520.3h1V527.8h0.9V586.8ZM1458.2 586.8V518.4h0.8V524h1V518.4h1V527h1V535.5h1V527h1V521.6h1V526.3h1V530.9h1V519.3h1V527h1V517.4h1V522h1V527h1V535.5h1h1V512.5h1V527h1V526h1V521.3h1V535.5h1V518.4h1V518.9h1V518.7h1V521.7h1V527h1h1V535.5h1V519.6h1V535.5h1V528.5h1V514.3h0.7V586.8Z" fill="#e6e7e7"/><path d="M1396.3 586.8V535.5h0.7V527h1h1h1V535.5h1V544.1h1V527h1h1V535.5h1V544.1h1h1V527h1h1V535.5h1V527h1V535.5h1h1h1h1V518.4h1V535.5h1h1h1h1V527h1V535.5h1V544.1h1V518.4h1V535.5h1V527h1V535.5h0.9V586.8ZM1458.2 586.8V518.4h0.8V527h1V518.4h1V527h1V535.5h1V527h1V535.5h1h1h1V527h1h1V535.5h1V544.1h1V527h1V535.5h1h1V544.1h1V527h1V535.5h1V527h1V535.5h1V518.4h1V535.5h1V527h1V544.1h1V527h1h1V535.5h1h1h1h1V544.1h0.7V586.8Z" fill="#d4d6d6"/><path d="M1396.3 586.8V535.5h0.7h1h1V544.1h1h1h1h1h1h1h1h1h1V535.5h1V544.1h1V535.5h1V544.1h1h1h1h1V535.5h1V544.1h1h1h1h1V535.5h1V544.1h1h1V535.5h1V544.1h1h1V535.5h0.9V586.8ZM1458.2 586.8V535.5h0.8h1h1h1V544.1h1V535.5h1V544.1h1h1h1V535.5h1h1V544.1h1h1V535.5h1V544.1h1V535.5h1V544.1h1h1h1h1h1V535.5h1V544.1h1h1h1V535.5h1h1V544.1h1h1h1h1h0.7V586.8Z" fill="#bfc1c2"/><path d="M1426.9 586.8V526.6h0.1V508.6h1V525.4h1V518.4h1V527h1V524.2h1V520.5h1V527h1V505.2h1V518.4h1V509.3h1V507.7h1V504.6h1V507.7h1V501.4h1V481.6h1V501.4h1V488.8h1V500.7h1V491.2h1V514.5h1V510h1V509.9h1V518.4h1h1V521.1h1V527h1V515.3h1V522.2h1V519.9h1V527h1V528.9h1V518.9h0.2V586.8Z" fill="#f4929a"/><path d="M1426.9 586.8V527h0.1V526.4h1V528.3h1V518.4h1V527h1h1V522.1h1V527h1V522h1V518.4h1V514.7h1V515.2h1V509.9h1V508.4h1V501.4h1V503h1V501.4h1h1V508.8h1V501.4h1V518.4h1V519.3h1V509.9h1V518.4h1h1V521.1h1V527h1V519.2h1V527h1h1h1V535.5h1V524.2h0.2V586.8Z" fill="#ee5b68"/><path d="M1426.9 586.8V539.2h0.1V537.9h1h1V531.9h1V534.8h1V534.4h1V534.5h1V537.9h1V533.4h1V530.2h1V523.6h1V528h1V523.2h1V519.6h1V514.1h1V520.6h1V513.5h1V512.5h1V522.1h1V516.1h1V523.3h1V528.5h1V523.9h1V526h1V527.1h1V530.7h1V533.1h1V531h1V536.7h1V536.2h1V541.6h1V540.3h1V536.8h0.2V586.8Z" fill="#ea2f3f"/><path d="M1396.3 586.8V550.3h0.7V551.3h1V551.1h1V550.6h1h1V551.6h1V550.8h1V552h1V550.8h1V552h1V551.4h1V552.3h1V552.6h1V552.2h1V552.3h1V551.7h1V552.3h1V552.4h1V552.2h1V551.6h1V552.1h1V551.1h1V551.8h1V550.9h1V551.3h1V551.2h1V550.4h1V550.2h1V550.4h1V551.1h1V550.5h0.9V586.8ZM1458.2 586.8V550.6h0.8V549.8h1V551h1V550.2h1V550.8h1V550.7h1V550.5h1V551.4h1V551.9h1V551.4h1V552h1V551.9h1h1h1V551.7h1V550.9h1V551.7h1V552h1V551.9h1V550.8h1V550.6h1V550.7h1V551.3h1V550.8h1V551.1h1V551.2h1V550.6h1h1V551.4h1V550.7h1V550.3h1V551.3h0.7V586.8Z" fill="#b5b8b9"/><path d="M1426.9 586.8V544.9h0.1V546.7h1V547.1h1V546.1h1V543.1h1V548.7h1V544.9h1V541.5h1V539h1V542.1h1V534.5h1V533.2h1V532.3h1V535.4h1V527.3h1V526h1V528.8h1V529.5h1V529.4h1V532.8h1V529h1V533.9h1V534h1V534.1h1V538h1V539.2h1V542.3h1V547.7h1V544.5h1V542.2h1V546.2h1V543.3h1V549.1h0.2V586.8Z" fill="#e92435"/><path d="M1396.3 550.5L1398.9 550.8L1401.5 551L1404.1 551.3L1406.7 551.6L1409.3 551.8L1411.9 552L1414.5 551.7L1417.1 551.3L1419.7 550.9L1422.2 550.6L1424.8 550.8L1427.4 551L1430 551L1432.6 548.3L1435.2 543.8L1437.8 539.3L1440.4 534.7L1443 531.5L1445.6 534.7L1448.2 539.3L1450.8 543.8L1453.4 548.3L1456 550.7L1458.6 550.1L1461.2 550.4L1463.8 550.8L1466.3 551.2L1468.9 551.5L1471.5 551.4L1474.1 551.3L1476.7 551.2L1479.3 551L1481.9 550.9L1484.5 550.8L1487.1 550.6L1489.7 550.5" fill="none" stroke="#4469b5" stroke-width="3.5" stroke-linejoin="round"/>
<path d="M1391.3 441.6V594H1494.5M1388.5 586.8h2.8M1388.5 533.4h2.8M1388.5 480h2.8M1396.3 594v1.9M1426.9 594v1.9M1442.6 594v1.9M1458.2 594v1.9M1489.6 594v1.9" fill="none" stroke="#333" stroke-width="1.9"/>
<text x="1444.3" y="463.7" font-size="16.45" text-anchor="middle" fill="#231f20">q = 1.1x10<tspan font-size="9.87" dy="-6.2">-9</tspan></text>
<path d="M1521.9 586.8V498.1h0.1V509.9h1V509.6h1V499h1V522.7h1V511.1h1V509.5h1V509.9h1V515.4h1V511.5h1V507.3h1V510.2h1V509.9h1V506.2h1V503.6h1V495.5h1V493.8h1V500.2h1V497.1h1V509.1h1V509.9h1h1h1V511.2h1V510.9h1V511.8h1V503.1h1V503.4h1V511.9h1V503.7h1V509.9h1h0.5V586.8ZM1583.8 586.8V509.7h0.2V489.1h1V508.5h1V490.8h1V500.3h1V509.9h1V500.4h1V503.5h1V499.2h1V510.2h1V492.6h1V506.8h1V500.1h1V504.4h1V522.7h1V498.9h1V507.8h1V502.7h1V509.4h1V522.7h1V506.9h1V509.9h1V501.2h1V509.9h1V522.7h1V507.8h1V488.2h1V489.7h1V509.9h1V485h1V502.1h1V499.9h1V522.7h0.3V586.8Z" fill="#e6e7e7"/><path d="M1521.9 586.8V522.7h0.1V509.9h1V522.7h1h1h1h1h1V509.9h1V522.7h1h1V509.9h1V522.7h1V509.9h1h1V522.7h1V509.9h1V522.7h1V535.5h1V497.1h1V522.7h1V509.9h1h1h1V522.7h1h1h1h1h1h1V535.5h1V509.9h1h0.5V586.8ZM1583.8 586.8V522.7h0.2V509.9h1h1V497.1h1V535.5h1V509.9h1V522.7h1V509.9h1V522.7h1h1h1V509.9h1V535.5h1V522.7h1h1h1h1h1h1h1V509.9h1h1h1h1V522.7h1h1h1V535.5h1V509.9h1h1V535.5h1V509.9h1V522.7h0.3V586.8Z" fill="#d4d6d6"/><path d="M1521.9 586.8V535.5h0.1V522.7h1V535.5h1h1h1h1h1V522.7h1V535.5h1h1V522.7h1V535.5h1h1h1h1h1h1h1V522.7h1V535.5h1V522.7h1h1h1h1V535.5h1V522.7h1V535.5h1h1h1h1V522.7h1V535.5h0.5V586.8ZM1583.8 586.8V535.5h0.2h1h1V522.7h1V535.5h1V522.7h1V535.5h1h1h1h1h1h1h1h1h1h1h1h1h1V522.7h1h1h1h1h1V535.5h1h1h1h1V522.7h1V535.5h1h1h1h0.3V586.8Z" fill="#bfc1c2"/><path d="M1552.5 586.8V494.6h0.5V522.2h1V511.4h1V522.7h1V499.5h1V522.7h1V520.9h1V509.9h1V513.2h1V514.7h1V518.6h1V499.3h1V487.4h1V489h1V497.1h1V475h1V469.3h1V481.1h1V498.3h1V492.9h1V509.9h1V506.3h1V510.8h1V509.9h1V509.7h1V506.9h1V509.9h1V497.3h1V521.4h1V521.9h1V509.9h1V498.5h0.8V586.8Z" fill="#9ed2d1"/><path d="M1552.5 586.8V515h0.5V522.7h1V518.5h1V522.7h1V515.5h1V522.7h1h1V509.9h1V518.3h1V518.4h1V519.6h1V507.7h1V501.3h1V503.3h1V497.1h1h1V491.2h1V497.1h1V501.5h1V498.6h1V509.9h1V510.2h1V512.7h1V509.9h1V511.2h1V514.7h1V509.9h1V518.3h1V522.7h1h1V509.9h1h0.8V586.8Z" fill="#66b8b6"/><path d="M1552.5 586.8V526.3h0.5V530.7h1V528.8h1V532.4h1V529.6h1V530.6h1V532.9h1V525.3h1V527.5h1V528.4h1V528.3h1V518.3h1V515.6h1V516h1V509.4h1V512.7h1V509.1h1V510.8h1V511.6h1V512.2h1V515.6h1V522h1V524.9h1V527.6h1V524.4h1V527.1h1V524.3h1V531.7h1V534.4h1V533.1h1V526.5h1V527.2h0.8V586.8Z" fill="#1f9794"/><path d="M1521.9 586.8V538h0.1V538.7h1V538.2h1V538.4h1V538.1h1V539h1V538.8h1V538h1V539.2h1V538.9h1V539.9h1V539.6h1V540.3h1V540h1V540.6h1V540.3h1V539.2h1V539.4h1V540.2h1V540.4h1h1V540.5h1V539.2h1V539.4h1V539.9h1V540.9h1V540.5h1V540.1h1V540.5h1V541.4h1V542.1h1V542.9h0.5V586.8ZM1583.8 586.8V544.8h0.2V543.7h1V544.2h1V543h1V542.1h1V541.4h1V540.9h1V541.4h1V539.8h1V539.5h1V538.7h1V539.2h1V537.6h1V538.5h1V537.7h1V538h1V537.8h1V536.3h1V536.8h1V537.3h1V538.3h1V537.1h1V538.2h1V538.6h1V537.3h1V537.9h1V538.8h1V538.7h1V539.1h1V538.2h1V539.8h1V539.9h1V539.3h0.3V586.8Z" fill="#b5b8b9"/><path d="M1552.5 586.8V542.7h0.5V542h1V540.7h1V536.5h1V537h1V538.7h1V536.9h1V537.8h1V532.8h1V531.6h1V535.4h1V532.4h1V532.8h1V522.7h1V525.7h1V520h1V517.9h1V518.4h1V523.8h1V524h1V532.9h1V530.7h1V529h1V533.4h1V531.7h1V537h1V535.1h1V541.7h1V538.9h1V537.7h1V538.1h1V536.4h0.8V586.8Z" fill="#008985"/><path d="M1521.9 537.7L1524.5 538L1527.1 538.4L1529.7 538.7L1532.3 539.1L1534.9 539.5L1537.5 539.8L1540.1 539.8L1542.7 539.8L1545.2 539.8L1547.8 540.1L1550.4 541.8L1553 543.9L1555.6 545.9L1558.2 544.2L1560.8 540.1L1563.4 535.9L1566 531.7L1568.6 528.7L1571.2 531.6L1573.8 535.7L1576.4 539.7L1579 543.8L1581.6 545.5L1584.2 544L1586.8 542.4L1589.4 540.9L1592 539.8L1594.5 538.7L1597.1 537.7L1599.7 536.8L1602.3 537L1604.9 537.5L1607.5 537.9L1610.1 538.4L1612.7 538.8L1615.3 539.2" fill="none" stroke="#4469b5" stroke-width="3.5" stroke-linejoin="round"/>
<path d="M1516.9 441.6V594H1620.1M1514.1 586.8h2.8M1514.1 533.4h2.8M1514.1 480h2.8M1521.9 594v1.9M1552.5 594v1.9M1568.2 594v1.9M1583.8 594v1.9M1615.2 594v1.9" fill="none" stroke="#333" stroke-width="1.9"/>
<text x="1565.4" y="463.7" font-size="16.45" text-anchor="middle" fill="#231f20">q = 0.84</text>
<path d="M1647.3 586.8V531.8h0.7V529.8h1V545.1h1V524.7h1V545.1h1V529.4h1V530.9h1V538.2h1V529.5h1V524.2h1V529.1h1V535.8h1V534.5h1V522.6h1V529.2h1V523.1h1V524.2h1V518.8h1V531.7h1V533.3h1V531.3h1V524.3h1h1V538.2h1V531.3h1V530.3h1V532.4h1V525.6h1V531.3h1V538.2h1h0.9V586.8ZM1709.2 586.8V536.7h0.8V528.7h1V530.1h1V531.3h1V535.3h1V533h1V524.3h1V529.5h1V532.8h1V529.8h1V538.2h1V532.5h1V534h1V545.1h1V522.8h1V526h1V536.2h1V531.3h1V536.7h1V538.2h1V527.9h1V532.2h1V538.2h1V530h1V532.8h1V538.2h1V535.6h1V538.2h1V531.3h1V518.9h1V538.2h1V531.3h0.7V586.8Z" fill="#e6e7e7"/><path d="M1647.3 586.8V538.2h0.7V545.1h1h1V538.2h1V545.1h1V552.1h1V545.1h1V538.2h1V545.1h1V538.2h1h1V545.1h1V538.2h1V545.1h1V538.2h1V545.1h1V538.2h1V545.1h1V538.2h1h1V531.3h1V524.3h1h1V538.2h1V531.3h1V538.2h1h1V531.3h1h1V538.2h1h0.9V586.8ZM1709.2 586.8V538.2h0.8V545.1h1V538.2h1V531.3h1V538.2h1h1V524.3h1V531.3h1V538.2h1V531.3h1V538.2h1h1h1V545.1h1V538.2h1h1h1V531.3h1V538.2h1h1V545.1h1h1V538.2h1V545.1h1h1V538.2h1h1h1V545.1h1h1V538.2h1V545.1h0.7V586.8Z" fill="#d4d6d6"/><path d="M1647.3 586.8V552.1h0.7h1h1h1h1h1h1V545.1h1h1h1V552.1h1h1V545.1h1V552.1h1h1h1V545.1h1V552.1h1V545.1h1h1V538.2h1h1h1V545.1h1V538.2h1V545.1h1h1V538.2h1h1V545.1h1h0.9V586.8ZM1709.2 586.8V545.1h0.8h1h1V538.2h1h1V545.1h1V538.2h1V545.1h1h1h1h1h1h1h1h1h1h1h1h1h1h1h1h1V552.1h1h1V545.1h1h1V552.1h1h1V545.1h1h1V552.1h0.7V586.8Z" fill="#bfc1c2"/><path d="M1677.9 586.8V531.3h0.1V528.4h1V525.7h1V528h1V527.2h1V530.2h1V529.4h1V517.1h1V529.9h1V531.3h1V517.7h1V527.2h1V525.3h1V519.8h1V522.4h1V515.6h1V512h1V518.6h1V510.6h1V522.7h1V529.2h1V524.8h1V531.3h1V524.5h1V529.8h1V528.5h1V519.9h1V531.3h1h1V530.3h1V527.8h1V531.3h1h0.2V586.8Z" fill="#c3868d"/><path d="M1677.9 586.8V531.3h0.1h1V531.1h1V531.3h1V531.4h1V531.3h1h1V528.3h1V531.1h1V531.3h1V528.8h1V531.3h1h1h1V522.4h1V523.1h1V515.7h1V520.3h1V522.5h1V522.7h1V529.5h1V531.3h1h1V526.2h1V529.8h1V531.3h1h1h1h1h1V531h1V531.3h1h0.2V586.8Z" fill="#a54a54"/><path d="M1677.9 586.8V539.4h0.1V539.3h1V539.4h1V537.1h1V537.5h1V536.6h1V536.1h1V535.4h1V536.2h1V536.7h1V536.1h1V534.4h1V534.7h1V534.3h1V528.5h1V531h1V526h1V527.5h1V529h1V529.3h1V534.8h1V535.4h1V535.7h1V533h1V536.4h1V534.7h1V538.2h1V539.1h1V535.7h1V537.8h1V538.7h1V535.9h1V540.4h0.2V586.8Z" fill="#8d1926"/><path d="M1647.3 586.8V555.3h0.7V554.2h1V554.7h1h1V554.8h1V554.7h1V554.6h1V553.6h1h1V554.1h1V553.5h1h1V554h1V552.6h1V553.6h1V552.5h1V552.2h1V552.5h1V552.7h1V552.3h1V552.1h1V552h1V552.3h1V550.9h1V551.1h1V551.2h1V550.1h1V549.9h1V549.4h1V549h1V548.3h0.9V586.8ZM1709.2 586.8V549h0.8V549.3h1V549.2h1V550.1h1h1V550.2h1V550.8h1V550.7h1V551.1h1h1V551.4h1V550.8h1V550.6h1V551.3h1V551.1h1V552.2h1V551.8h1V551.5h1V551.8h1V552.6h1V552h1V552.9h1V553.3h1V553h1V553.5h1V553.4h1V554.4h1V554.3h1V553.7h1V554.5h1V554.1h1V554.2h0.7V586.8Z" fill="#b5b8b9"/><path d="M1677.9 586.8V543.5h0.1V545.8h1V545.1h1V542.7h1V543.2h1V543.1h1V544h1V539.8h1V542.3h1V537.9h1V537.1h1V537.7h1V538.4h1V535.3h1V536.6h1V535.2h1V537.3h1V535.1h1V537.8h1V535h1V537.6h1V538.9h1V540h1V541.4h1V540.4h1V543.1h1V540h1V540.9h1V541.1h1V544.7h1V542.3h1V545.6h1V544.7h0.2V586.8Z" fill="#870d1b"/><path d="M1647.3 554.6L1649.9 554.4L1652.5 554.1L1655.1 553.8L1657.7 553.4L1660.3 553.1L1662.9 552.8L1665.5 552.3L1668.1 551.8L1670.7 551.1L1673.2 550.2L1675.8 549.1L1678.4 547.8L1681 546.3L1683.6 544.6L1686.2 542.7L1688.8 540.9L1691.4 539.7L1694 539.3L1696.6 539.8L1699.2 541.2L1701.8 543.3L1704.4 545.3L1707 547.1L1709.6 548.5L1712.2 549.5L1714.8 550.1L1717.3 550.5L1719.9 550.8L1722.5 551.2L1725.1 551.7L1727.7 552.1L1730.3 552.6L1732.9 553.2L1735.5 553.7L1738.1 554.1L1740.7 554.5" fill="none" stroke="#4469b5" stroke-width="3.5" stroke-linejoin="round"/>
<path d="M1642.3 441.6V594H1745.5M1639.5 586.8h2.8M1639.5 533.4h2.8M1639.5 480h2.8M1647.3 594v1.9M1677.9 594v1.9M1693.6 594v1.9M1709.2 594v1.9M1740.6 594v1.9" fill="none" stroke="#333" stroke-width="1.9"/>
<text x="1693.8" y="463.7" font-size="16.45" text-anchor="middle" fill="#231f20">q = 1.1x10<tspan font-size="9.87" dy="-6.2">-9</tspan></text>
<path d="M1772.8 586.8V518.4h0.2V525.1h1V535.5h1V519.2h1V508.6h1V544.1h1V525.6h1V527h1h1h1h1V525.5h1V509h1V512.3h1V515.9h1V513.3h1V517.9h1V527h1V509.9h1V521.9h1V501.2h1V511.1h1V515.7h1V509.9h1V509.6h1V518.9h1V518.4h1h1V518.8h1V517.7h1V515.2h1V524.2h0.4V586.8ZM1834.7 586.8V515.4h0.3V504.3h1V509.9h1V522h1V522.3h1V518.8h1V519.4h1V511.4h1V518.4h1h1h1V516h1V506.2h1V516.3h1V518.4h1V507.4h1V518.4h1V527h1V504.8h1V527h1V509.9h1V519.7h1V518.4h1V516.8h1V518.4h1h1V521.2h1V514.3h1V517.6h1V524.2h1V526h1V526.9h1V516.2h0.2V586.8Z" fill="#e6e7e7"/><path d="M1772.8 586.8V518.4h0.2V535.5h1h1h1h1V544.1h1V527h1h1h1h1h1V535.5h1V518.4h1V527h1h1h1h1h1V509.9h1V527h1V518.4h1h1V527h1V509.9h1V527h1V535.5h1V518.4h1h1V527h1h1V518.4h1V527h0.4V586.8ZM1834.7 586.8V527h0.3V535.5h1V509.9h1V527h1h1h1h1V535.5h1V518.4h1V527h1V518.4h1h1h1h1h1V527h1V518.4h1V527h1h1h1V509.9h1V527h1V518.4h1V535.5h1V518.4h1h1V527h1h1h1V535.5h1h1V527h1V544.1h0.2V586.8Z" fill="#d4d6d6"/><path d="M1772.8 586.8V535.5h0.2V544.1h1V535.5h1V544.1h1h1h1V535.5h1h1h1h1h1V544.1h1V535.5h1V527h1V535.5h1V527h1V535.5h1h1V527h1V535.5h1h1V527h1V535.5h1V527h1V535.5h1h1V527h1h1h1V535.5h1V527h1h0.4V586.8ZM1834.7 586.8V535.5h0.3h1V527h1V535.5h1h1h1h1h1h1h1V527h1V535.5h1h1V527h1h1V535.5h1V527h1V535.5h1h1h1V527h1V535.5h1V527h1V535.5h1V527h1h1V535.5h1h1h1V544.1h1h1V535.5h1V544.1h0.2V586.8Z" fill="#bfc1c2"/><path d="M1803.4 586.8V527h0.6V524.7h1V518.4h1V506.7h1V512.8h1V519.7h1V518.4h1V526.5h1V517.6h1V514.2h1V511.1h1V518.4h1V517.6h1V515.8h1V511.2h1V507.2h1V517.7h1V504h1V518.3h1V522.5h1V516.3h1V524.8h1V518.4h1V509.8h1V523.9h1V516.5h1V519.8h1V527h1V514.9h1V527h1V518.4h1V523.9h0.7V586.8Z" fill="#c3d2ea"/><path d="M1803.4 586.8V527h0.6V524.7h1V518.4h1h1V526.9h1V521.7h1V518.4h1V527h1V518.4h1h1V520.3h1V518.4h1h1V521h1V518.4h1V509.9h1V522.2h1V513.5h1V518.4h1V527h1V516.3h1V524.8h1V518.4h1V519.4h1V523.9h1V518.4h1V527h1h1V514.9h1V527h1V518.4h1V523.9h0.7V586.8Z" fill="#a1b8dd"/><path d="M1803.4 586.8V532.6h0.6V534.6h1V526.1h1V530.3h1V535.1h1V530.4h1V530.2h1V533.3h1V525.3h1V526.3h1V530.9h1V530.5h1V531.6h1V531.7h1V528.8h1V522.6h1V531.6h1V523h1V527.1h1V532.6h1V525.8h1V533.2h1V528.4h1V530.7h1V534.3h1V525.9h1V534.8h1V533.8h1V526.1h1V534h1V530.6h1V531.7h0.7V586.8Z" fill="#7597ce"/><path d="M1772.8 586.8V545.7h0.2V544.5h1V545.5h1V544.8h1V544.5h1V545.4h1V544.8h1V545.7h1V545.2h1h1V544.2h1h1V545.2h1V544.9h1V544.2h1V543.9h1V544h1V545.1h1V544.4h1V543.8h1V544.9h1V544.2h1V543.8h1V543.9h1V544.1h1V544.8h1V543.3h1V543.4h1V544.6h1V543.1h1V544.6h1V543.5h0.4V586.8ZM1834.7 586.8V544.2h0.3V543.6h1V544.6h1V544.1h1V543h1V544h1V544.2h1V544.4h1h1V543.4h1V543.5h1h1V543.4h1V544.6h1V544.5h1V543.4h1V545h1V543.8h1h1V543.6h1V544h1V544.3h1V544.7h1V544.6h1V544.5h1V543.8h1V544.7h1V544.2h1V544.8h1V544.5h1V545.4h1V544.6h1V544.9h0.2V586.8Z" fill="#b5b8b9"/><path d="M1803.4 586.8V537.9h0.6V536.4h1V536.7h1V536.6h1V540.3h1V537.1h1V538.8h1V535.4h1V540.2h1V538.7h1V535.2h1V536.4h1V538.9h1V534.9h1V535.9h1V533.8h1V535.1h1V539.7h1V536.7h1V535.4h1V539.8h1V536.9h1V537.6h1V540.6h1V538h1V538.8h1V538.5h1V537.3h1V542.4h1V540.7h1V538h1V539.7h0.7V586.8Z" fill="#6289c7"/><path d="M1772.8 545.1L1775.4 545L1778 544.9L1780.6 544.7L1783.2 544.6L1785.8 544.5L1788.4 544.3L1791 544.2L1793.6 544.1L1796.2 543.9L1798.7 543.8L1801.3 543.7L1803.9 543.5L1806.5 543.3L1809.1 543L1811.7 542.7L1814.3 542.5L1816.9 542.2L1819.5 542.1L1822.1 542.2L1824.7 542.5L1827.3 542.7L1829.9 543L1832.5 543.3L1835.1 543.5L1837.7 543.6L1840.3 543.7L1842.8 543.8L1845.4 543.9L1848 544L1850.6 544.1L1853.2 544.2L1855.8 544.3L1858.4 544.3L1861 544.4L1863.6 544.5L1866.2 544.6" fill="none" stroke="#4469b5" stroke-width="3.5" stroke-linejoin="round"/>
<path d="M1767.8 441.6V594H1871M1765 586.8h2.8M1765 533.4h2.8M1765 480h2.8M1772.8 594v1.9M1803.4 594v1.9M1819.1 594v1.9M1834.7 594v1.9M1866.1 594v1.9" fill="none" stroke="#333" stroke-width="1.9"/>
<text x="1818.8" y="463.7" font-size="16.45" text-anchor="middle" fill="#231f20">q = 0.79</text>
<path d="M1898.5 586.8V530.7h0.5V519h1V519.8h1V524.9h1V522.4h1V512.8h1V518.4h1V516.7h1V514.8h1V523.8h1V511.4h1V526.5h1V530.7h1V520.4h1V513.2h1V538.7h1V517.3h1V521.7h1V530.7h1V527.8h1V530.7h1V528.2h1V524.6h1V530.7h1V523.2h1V538.7h1V516.6h1V528.7h1V538.7h1V514.3h1V522.1h1V523.1h0.1V586.8ZM1960.4 586.8V528.3h0.6V529.7h1V519.3h1V527.8h1V513h1V521.9h1V509.6h1V522.7h1V513.2h1V538.7h1V522.7h1h1V520.7h1V546.8h1V523.9h1V513h1V519.5h1V538.7h1V535.3h1V518.6h1V524.5h1V530.7h1V517.4h1V524.2h1V520.3h1V538.7h1V523.4h1V546.8h1V505h1V522.7h1V529.9h1V529.5h0.9V586.8Z" fill="#e6e7e7"/><path d="M1898.5 586.8V530.7h0.5V538.7h1h1h1V530.7h1V546.8h1V538.7h1V546.8h1V538.7h1V530.7h1V538.7h1V530.7h1h1h1V538.7h1h1V546.8h1V530.7h1h1V538.7h1V530.7h1V538.7h1V530.7h1h1V538.7h1h1h1V530.7h1V538.7h1V546.8h1V538.7h1h0.1V586.8ZM1960.4 586.8V538.7h0.6h1V546.8h1V538.7h1h1V530.7h1V546.8h1h1V530.7h1V538.7h1V522.7h1V546.8h1V522.7h1V546.8h1V530.7h1V538.7h1V530.7h1V538.7h1h1h1h1V530.7h1V546.8h1h1V538.7h1h1V546.8h1h1h1V522.7h1V530.7h1h0.9V586.8Z" fill="#d4d6d6"/><path d="M1898.5 586.8V538.7h0.5V546.8h1V538.7h1h1V546.8h1h1h1h1h1V538.7h1h1V546.8h1V538.7h1V546.8h1h1h1h1V538.7h1h1V546.8h1h1h1h1V538.7h1V546.8h1h1h1V538.7h1V546.8h1h1V538.7h1V546.8h0.1V586.8ZM1960.4 586.8V546.8h0.6h1h1h1h1V538.7h1V546.8h1h1V538.7h1V546.8h1V538.7h1V546.8h1V538.7h1V546.8h1h1h1h1h1h1h1V538.7h1V546.8h1h1h1h1h1h1h1h1V538.7h1h1h0.9V586.8Z" fill="#bfc1c2"/><path d="M1929.1 586.8V535.5h0.9V511.3h1V513.1h1V521.8h1V520.1h1V507.1h1V519.3h1V522.7h1V515.8h1V530.7h1V522.7h1V519.9h1V517.9h1V514h1V516.7h1V506.7h1V525.9h1V511.7h1V503.4h1V513h1V523.8h1V499.2h1V530.7h1V523h1V519.9h1V521.6h1V520h1V521.3h1V522.8h1V515.6h1V530.7h1V513.7h0.4V586.8Z" fill="#f8f6b3"/><path d="M1929.1 586.8V538.7h0.9V529.9h1V530.7h1V528.1h1V530.7h1V523h1V530.7h1V522.7h1h1V530.7h1V522.7h1V521.3h1V530.7h1h1V518.3h1V514.7h1V526.3h1V522.7h1V524.3h1V516.3h1V530.7h1V518.7h1V530.7h1V528.1h1V526.5h1V522.7h1V530h1V521.4h1V525.8h1V522.7h1V530.7h1V524.9h0.4V586.8Z" fill="#f4f187"/><path d="M1929.1 586.8V542.3h0.9V539h1V537.1h1V536.9h1h1V531.7h1V536h1V535.8h1V531.9h1V538.5h1V533.7h1V532.3h1V539.6h1V537.4h1V531.6h1V529.1h1V537.9h1V529.3h1V537.5h1V529.8h1V539.3h1V530.3h1V539h1V537.2h1V536.6h1V532.2h1V540.4h1V532.7h1V538h1V537.5h1V541.8h1V535h0.4V586.8Z" fill="#efeb4f"/><path d="M1898.5 586.8V550.7h0.5V550.5h1V551.8h1V551.2h1V550.9h1V551.2h1V550.9h1V551.9h1V551.2h1V551.7h1V552.2h1V550.9h1V552.2h1V551.2h1V551.6h1V551.1h1V552.1h1V552.3h1V551h1V551.2h1V551h1V551.1h1V551.8h1V551.5h1V551.1h1V551.3h1V550.7h1V551.3h1V551.1h1V550.8h1V550.5h1h0.1V586.8ZM1960.4 586.8V551.7h0.6V551.3h1V551.5h1V551.6h1V550.9h1V551.5h1V550.7h1V550.1h1V550h1V550.5h1V550h1V549.7h1V549.9h1V550.1h1V549.8h1V550h1V550.1h1V550.4h1V550h1V550.5h1V550.9h1V550.5h1V551.4h1V550.7h1V550.2h1V551.2h1V550.7h1V550.5h1V550.4h1V550.9h1V551.1h1V550.9h0.9V586.8Z" fill="#b5b8b9"/><path d="M1929.1 586.8V545.3h0.9V546.3h1V549.5h1V543.2h1V545.6h1V548h1V548.5h1V547h1V548.8h1V544h1V546.7h1V548h1V543.7h1V544.4h1V547.9h1V546.8h1V540.9h1V547.2h1V544h1V542.7h1V541.7h1V543.5h1V543.2h1V546.9h1h1V547.2h1V542.6h1V548.5h1V543h1V545.5h1V548.2h1V544.3h0.4V586.8Z" fill="#ede837"/><path d="M1898.5 551.1L1901.1 551.1L1903.7 551.2L1906.3 551.3L1908.9 551.4L1911.5 551.5L1914.1 551.5L1916.7 551.4L1919.3 551.3L1921.8 551.2L1924.4 551L1927 550.9L1929.6 550.8L1932.2 550.6L1934.8 550.4L1937.4 549.9L1940 549.4L1942.6 548.9L1945.2 548.7L1947.8 548.9L1950.4 549.4L1953 550L1955.6 550.5L1958.2 551L1960.8 551.2L1963.4 551.1L1966 550.8L1968.6 550.4L1971.1 550.1L1973.7 550.1L1976.3 550.2L1978.9 550.4L1981.5 550.5L1984.1 550.6L1986.7 550.8L1989.3 550.9L1991.9 551" fill="none" stroke="#4469b5" stroke-width="3.5" stroke-linejoin="round"/>
<path d="M1893.5 441.6V594H1996.7M1890.7 586.8h2.8M1890.7 533.4h2.8M1890.7 480h2.8M1898.5 594v1.9M1929.1 594v1.9M1944.8 594v1.9M1960.4 594v1.9M1991.8 594v1.9" fill="none" stroke="#333" stroke-width="1.9"/>
<text x="1944.5" y="463.7" font-size="16.45" text-anchor="middle" fill="#231f20">q = 0.81</text>
<text x="1382.3" y="593.7" font-size="19.7" text-anchor="end">0</text>
<text x="1382.3" y="540.3" font-size="19.7" text-anchor="end">10</text>
<text x="1382.3" y="486.9" font-size="19.7" text-anchor="end">20</text>
<text transform="translate(1346.2 303.8) rotate(-90)" font-size="19.9" text-anchor="middle" fill="#231f20">SNVs, indels per Mbps</text>
<text transform="translate(1653.9 603.6) rotate(-90)" font-size="19" text-anchor="end" fill="#231f20">-900</text>
<text transform="translate(1684.5 603.6) rotate(-90)" font-size="19" text-anchor="end" fill="#231f20">-300</text>
<text transform="translate(1715.8 603.6) rotate(-90)" font-size="19" text-anchor="end" fill="#231f20">300</text>
<text transform="translate(1747.2 603.6) rotate(-90)" font-size="19" text-anchor="end" fill="#231f20">900</text>
<text x="1696" y="667" font-size="19.7" text-anchor="middle" fill="#231f20">Distance from site midpoint (bps)</text>
</g>
<g>
<text x="45.2" y="750.2" font-size="101">d</text>
<text x="236.8" y="681.9" font-size="19.7" fill="#231f20">TOP2B conserved</text>
<text x="458" y="681.9" font-size="19.7" fill="#231f20">DSB sites</text>
<text x="274.4" y="723.2" font-size="19.7" text-anchor="middle" fill="#231f20">TOP2B–</text>
<text x="274.8" y="747" font-size="19.7" text-anchor="middle" fill="#231f20">RAD21–</text>
<text x="272.2" y="770.8" font-size="19.7" text-anchor="middle" fill="#231f20">CTCF</text>
<text x="360.8" y="723.2" font-size="19.7" text-anchor="middle" fill="#231f20">TOP2B–</text>
<text x="357.2" y="747" font-size="19.7" text-anchor="middle" fill="#231f20">RAD21</text>
<text x="455.8" y="723.2" font-size="19.7" text-anchor="middle" fill="#231f20">TOP2B–</text>
<text x="456.2" y="747" font-size="19.7" text-anchor="middle" fill="#231f20">RAD21–</text>
<text x="453.6" y="770.8" font-size="19.7" text-anchor="middle" fill="#231f20">CTCF</text>
<text x="538.2" y="723.2" font-size="19.7" text-anchor="middle" fill="#231f20">TOP2B–</text>
<text x="536" y="747" font-size="19.7" text-anchor="middle" fill="#231f20">RAD21</text>
<rect x="243.5" y="782.3" width="34.35" height="22.45" fill="#ea7662"/>
<rect x="277.55" y="782.3" width="34.05" height="22.45" fill="#eb7a66"/>
<rect x="243.5" y="804.45" width="34.35" height="22.45" fill="#ea725e"/>
<rect x="277.55" y="804.45" width="34.05" height="22.45" fill="#ea7662"/>
<rect x="243.5" y="826.6" width="34.35" height="22.45" fill="#ea725e"/>
<rect x="277.55" y="826.6" width="34.05" height="22.45" fill="#ea7864"/>
<rect x="243.5" y="848.75" width="34.35" height="22.45" fill="#ea7662"/>
<rect x="277.55" y="848.75" width="34.05" height="22.45" fill="#ea735f"/>
<rect x="243.5" y="870.9" width="34.35" height="22.45" fill="#ec7d69"/>
<rect x="277.55" y="870.9" width="34.05" height="22.45" fill="#ec806c"/>
<rect x="243.5" y="893.05" width="34.35" height="22.45" fill="#eb7a66"/>
<rect x="277.55" y="893.05" width="34.05" height="22.45" fill="#ec7d69"/>
<rect x="243.5" y="915.2" width="34.35" height="22.45" fill="#eb7a66"/>
<rect x="277.55" y="915.2" width="34.05" height="22.45" fill="#eb7a66"/>
<rect x="243.5" y="937.35" width="34.35" height="22.45" fill="#ea7864"/>
<rect x="277.55" y="937.35" width="34.05" height="22.45" fill="#ea7662"/>
<rect x="243.5" y="959.5" width="34.35" height="22.45" fill="#ed836f"/>
<rect x="277.55" y="959.5" width="34.05" height="22.45" fill="#ec806c"/>
<rect x="243.5" y="981.65" width="34.35" height="22.45" fill="#ea7864"/>
<rect x="277.55" y="981.65" width="34.05" height="22.45" fill="#eb7a66"/>
<rect x="243.5" y="1003.8" width="34.35" height="22.45" fill="#eb7a66"/>
<rect x="277.55" y="1003.8" width="34.05" height="22.45" fill="#eb7a66"/>
<rect x="243.5" y="1025.95" width="34.35" height="22.45" fill="#eb7a66"/>
<rect x="277.55" y="1025.95" width="34.05" height="22.45" fill="#eb7a66"/>
<rect x="243.5" y="1048.1" width="34.35" height="22.45" fill="#ea725e"/>
<rect x="277.55" y="1048.1" width="34.05" height="22.45" fill="#eb6f5b"/>
<rect x="243.5" y="1070.25" width="34.35" height="22.45" fill="#ea725e"/>
<rect x="277.55" y="1070.25" width="34.05" height="22.45" fill="#ec6550"/>
<rect x="243.5" y="1092.4" width="34.35" height="22.45" fill="#ec7f6b"/>
<rect x="277.55" y="1092.4" width="34.05" height="22.45" fill="#ed836f"/>
<rect x="243.5" y="1114.55" width="34.35" height="22.45" fill="#ea7662"/>
<rect x="277.55" y="1114.55" width="34.05" height="22.45" fill="#ea7864"/>
<rect x="243.5" y="1136.7" width="34.35" height="22.45" fill="#eb6d59"/>
<rect x="277.55" y="1136.7" width="34.05" height="22.45" fill="#ea725e"/>
<rect x="243.5" y="1158.85" width="34.35" height="22.45" fill="#eb6d59"/>
<rect x="277.55" y="1158.85" width="34.05" height="22.45" fill="#ed836f"/>
<rect x="243.5" y="1181" width="34.35" height="22.45" fill="#ec7f6b"/>
<rect x="277.55" y="1181" width="34.05" height="22.45" fill="#ee8773"/>
<text x="259.52" y="797.88" font-size="15.8" text-anchor="middle" stroke="#000" stroke-width="0.2">****</text>
<text x="293.57" y="797.88" font-size="15.8" text-anchor="middle" stroke="#000" stroke-width="0.2">****</text>
<text x="259.52" y="820.02" font-size="15.8" text-anchor="middle" stroke="#000" stroke-width="0.2">****</text>
<text x="293.57" y="820.02" font-size="15.8" text-anchor="middle" stroke="#000" stroke-width="0.2">****</text>
<text x="259.52" y="842.17" font-size="15.8" text-anchor="middle" stroke="#000" stroke-width="0.2">****</text>
<text x="293.57" y="842.17" font-size="15.8" text-anchor="middle" stroke="#000" stroke-width="0.2">****</text>
<text x="259.52" y="864.33" font-size="15.8" text-anchor="middle" stroke="#000" stroke-width="0.2">****</text>
<text x="293.57" y="864.33" font-size="15.8" text-anchor="middle" stroke="#000" stroke-width="0.2">****</text>
<text x="259.52" y="886.48" font-size="15.8" text-anchor="middle" stroke="#000" stroke-width="0.2">****</text>
<text x="293.57" y="886.48" font-size="15.8" text-anchor="middle" stroke="#000" stroke-width="0.2">****</text>
<text x="259.52" y="908.62" font-size="15.8" text-anchor="middle" stroke="#000" stroke-width="0.2">****</text>
<text x="293.57" y="908.62" font-size="15.8" text-anchor="middle" stroke="#000" stroke-width="0.2">****</text>
<text x="259.52" y="930.77" font-size="15.8" text-anchor="middle" stroke="#000" stroke-width="0.2">****</text>
<text x="293.57" y="930.77" font-size="15.8" text-anchor="middle" stroke="#000" stroke-width="0.2">****</text>
<text x="259.52" y="952.92" font-size="15.8" text-anchor="middle" stroke="#000" stroke-width="0.2">****</text>
<text x="293.57" y="952.92" font-size="15.8" text-anchor="middle" stroke="#000" stroke-width="0.2">****</text>
<text x="259.52" y="975.08" font-size="15.8" text-anchor="middle" stroke="#000" stroke-width="0.2">****</text>
<text x="293.57" y="975.08" font-size="15.8" text-anchor="middle" stroke="#000" stroke-width="0.2">****</text>
<text x="259.52" y="997.23" font-size="15.8" text-anchor="middle" stroke="#000" stroke-width="0.2">****</text>
<text x="293.57" y="997.23" font-size="15.8" text-anchor="middle" stroke="#000" stroke-width="0.2">****</text>
<text x="259.52" y="1019.38" font-size="15.8" text-anchor="middle" stroke="#000" stroke-width="0.2">****</text>
<text x="293.57" y="1019.38" font-size="15.8" text-anchor="middle" stroke="#000" stroke-width="0.2">****</text>
<text x="259.52" y="1041.52" font-size="15.8" text-anchor="middle" stroke="#000" stroke-width="0.2">****</text>
<text x="293.57" y="1041.52" font-size="15.8" text-anchor="middle" stroke="#000" stroke-width="0.2">****</text>
<text x="259.52" y="1063.67" font-size="15.8" text-anchor="middle" stroke="#000" stroke-width="0.2">****</text>
<text x="293.57" y="1063.67" font-size="15.8" text-anchor="middle" stroke="#000" stroke-width="0.2">****</text>
<text x="259.52" y="1085.83" font-size="15.8" text-anchor="middle" stroke="#000" stroke-width="0.2">****</text>
<text x="293.57" y="1085.83" font-size="15.8" text-anchor="middle" stroke="#000" stroke-width="0.2">****</text>
<text x="259.52" y="1107.97" font-size="15.8" text-anchor="middle" stroke="#000" stroke-width="0.2">****</text>
<text x="293.57" y="1107.97" font-size="15.8" text-anchor="middle" stroke="#000" stroke-width="0.2">****</text>
<text x="259.52" y="1130.12" font-size="15.8" text-anchor="middle" stroke="#000" stroke-width="0.2">****</text>
<text x="293.57" y="1130.12" font-size="15.8" text-anchor="middle" stroke="#000" stroke-width="0.2">****</text>
<text x="259.52" y="1152.27" font-size="15.8" text-anchor="middle" stroke="#000" stroke-width="0.2">****</text>
<text x="293.57" y="1152.27" font-size="15.8" text-anchor="middle" stroke="#000" stroke-width="0.2">****</text>
<text x="259.52" y="1174.42" font-size="15.8" text-anchor="middle" stroke="#000" stroke-width="0.2">****</text>
<text x="292.27" y="1174.42" font-size="15.8" text-anchor="middle" stroke="#000" stroke-width="0.2">***</text>
<text x="259.52" y="1196.58" font-size="15.8" text-anchor="middle" stroke="#000" stroke-width="0.2">****</text>
<text x="293.57" y="1196.58" font-size="15.8" text-anchor="middle" stroke="#000" stroke-width="0.2">****</text>
<rect x="239.9" y="780" width="75.4" height="425" fill="none" stroke="#383838" stroke-width="1.8"/>
<text transform="translate(267.72 1212.8) rotate(-90)" font-size="19.7" text-anchor="end">HMF</text>
<text transform="translate(301.77 1212.8) rotate(-90)" font-size="19.7" text-anchor="end">PCAWG</text>
<path d="M260.22 1205v4.3M294.27 1205v4.3" fill="none" stroke="#3c3c3c" stroke-width="1.4"/>
<rect x="323.8" y="782.3" width="34.35" height="22.45" fill="#ec3d33"/>
<rect x="357.85" y="782.3" width="34.05" height="22.45" fill="#ec493a"/>
<rect x="323.8" y="804.45" width="34.35" height="22.45" fill="#e92630"/>
<rect x="357.85" y="804.45" width="34.05" height="22.45" fill="#e92630"/>
<rect x="323.8" y="826.6" width="34.35" height="22.45" fill="#e82230"/>
<rect x="357.85" y="826.6" width="34.05" height="22.45" fill="#ec3d33"/>
<rect x="323.8" y="848.75" width="34.35" height="22.45" fill="#ec3d33"/>
<rect x="357.85" y="848.75" width="34.05" height="22.45" fill="#ec4c3d"/>
<rect x="323.8" y="870.9" width="34.35" height="22.45" fill="#ec4136"/>
<rect x="357.85" y="870.9" width="34.05" height="22.45" fill="#ec3d33"/>
<rect x="323.8" y="893.05" width="34.35" height="22.45" fill="#ec4136"/>
<rect x="357.85" y="893.05" width="34.05" height="22.45" fill="#ec493a"/>
<rect x="323.8" y="915.2" width="34.35" height="22.45" fill="#ec4538"/>
<rect x="357.85" y="915.2" width="34.05" height="22.45" fill="#ec4c3d"/>
<rect x="323.8" y="937.35" width="34.35" height="22.45" fill="#eb3432"/>
<rect x="357.85" y="937.35" width="34.05" height="22.45" fill="#eb3932"/>
<rect x="323.8" y="959.5" width="34.35" height="22.45" fill="#ec4538"/>
<rect x="357.85" y="959.5" width="34.05" height="22.45" fill="#eb6d59"/>
<rect x="323.8" y="981.65" width="34.35" height="22.45" fill="#ec4c3d"/>
<rect x="357.85" y="981.65" width="34.05" height="22.45" fill="#ec6550"/>
<rect x="323.8" y="1003.8" width="34.35" height="22.45" fill="#ec493a"/>
<rect x="357.85" y="1003.8" width="34.05" height="22.45" fill="#ec493a"/>
<rect x="323.8" y="1025.95" width="34.35" height="22.45" fill="#e92630"/>
<rect x="357.85" y="1025.95" width="34.05" height="22.45" fill="#ed5040"/>
<rect x="323.8" y="1048.1" width="34.35" height="22.45" fill="#ec604c"/>
<rect x="357.85" y="1048.1" width="34.05" height="22.45" fill="#ec493a"/>
<rect x="323.8" y="1070.25" width="34.35" height="22.45" fill="#ed5040"/>
<rect x="357.85" y="1070.25" width="34.05" height="22.45" fill="#ed5442"/>
<rect x="323.8" y="1092.4" width="34.35" height="22.45" fill="#ed5442"/>
<rect x="357.85" y="1092.4" width="34.05" height="22.45" fill="#e92630"/>
<rect x="323.8" y="1114.55" width="34.35" height="22.45" fill="#ec604c"/>
<rect x="357.85" y="1114.55" width="34.05" height="22.45" fill="#ec4538"/>
<rect x="323.8" y="1136.7" width="34.35" height="22.45" fill="#ec4136"/>
<rect x="357.85" y="1136.7" width="34.05" height="22.45" fill="#ec4538"/>
<rect x="323.8" y="1158.85" width="34.35" height="22.45" fill="#ec3d33"/>
<rect x="357.85" y="1158.85" width="34.05" height="22.45" fill="#ed5442"/>
<rect x="323.8" y="1181" width="34.35" height="22.45" fill="#ec493a"/>
<rect x="357.85" y="1181" width="34.05" height="22.45" fill="#ed5442"/>
<text x="339.82" y="797.88" font-size="15.8" text-anchor="middle" stroke="#000" stroke-width="0.2">****</text>
<text x="373.88" y="797.88" font-size="15.8" text-anchor="middle" stroke="#000" stroke-width="0.2">****</text>
<text x="339.82" y="820.02" font-size="15.8" text-anchor="middle" stroke="#000" stroke-width="0.2">****</text>
<text x="373.88" y="820.02" font-size="15.8" text-anchor="middle" stroke="#000" stroke-width="0.2">****</text>
<text x="339.82" y="842.17" font-size="15.8" text-anchor="middle" stroke="#000" stroke-width="0.2">****</text>
<text x="373.88" y="842.17" font-size="15.8" text-anchor="middle" stroke="#000" stroke-width="0.2">****</text>
<text x="339.82" y="864.33" font-size="15.8" text-anchor="middle" stroke="#000" stroke-width="0.2">****</text>
<text x="373.88" y="864.33" font-size="15.8" text-anchor="middle" stroke="#000" stroke-width="0.2">****</text>
<text x="339.82" y="886.48" font-size="15.8" text-anchor="middle" stroke="#000" stroke-width="0.2">****</text>
<text x="373.88" y="886.48" font-size="15.8" text-anchor="middle" stroke="#000" stroke-width="0.2">****</text>
<text x="339.82" y="908.62" font-size="15.8" text-anchor="middle" stroke="#000" stroke-width="0.2">****</text>
<text x="373.88" y="908.62" font-size="15.8" text-anchor="middle" stroke="#000" stroke-width="0.2">****</text>
<text x="339.82" y="930.77" font-size="15.8" text-anchor="middle" stroke="#000" stroke-width="0.2">****</text>
<text x="373.88" y="930.77" font-size="15.8" text-anchor="middle" stroke="#000" stroke-width="0.2">****</text>
<text x="339.82" y="952.92" font-size="15.8" text-anchor="middle" stroke="#000" stroke-width="0.2">****</text>
<text x="373.88" y="952.92" font-size="15.8" text-anchor="middle" stroke="#000" stroke-width="0.2">****</text>
<text x="339.82" y="975.08" font-size="15.8" text-anchor="middle" stroke="#000" stroke-width="0.2">****</text>
<text x="373.88" y="975.08" font-size="15.8" text-anchor="middle" stroke="#000" stroke-width="0.2">****</text>
<text x="339.82" y="997.23" font-size="15.8" text-anchor="middle" stroke="#000" stroke-width="0.2">****</text>
<text x="373.88" y="997.23" font-size="15.8" text-anchor="middle" stroke="#000" stroke-width="0.2">****</text>
<text x="339.82" y="1019.38" font-size="15.8" text-anchor="middle" stroke="#000" stroke-width="0.2">****</text>
<text x="373.88" y="1019.38" font-size="15.8" text-anchor="middle" stroke="#000" stroke-width="0.2">****</text>
<text x="339.82" y="1041.52" font-size="15.8" text-anchor="middle" stroke="#000" stroke-width="0.2">****</text>
<text x="373.88" y="1041.52" font-size="15.8" text-anchor="middle" stroke="#000" stroke-width="0.2">****</text>
<text x="339.82" y="1063.67" font-size="15.8" text-anchor="middle" stroke="#000" stroke-width="0.2">****</text>
<text x="373.88" y="1063.67" font-size="15.8" text-anchor="middle" stroke="#000" stroke-width="0.2">****</text>
<text x="339.82" y="1085.83" font-size="15.8" text-anchor="middle" stroke="#000" stroke-width="0.2">****</text>
<text x="373.88" y="1085.83" font-size="15.8" text-anchor="middle" stroke="#000" stroke-width="0.2">****</text>
<text x="339.82" y="1107.97" font-size="15.8" text-anchor="middle" stroke="#000" stroke-width="0.2">****</text>
<text x="373.88" y="1107.97" font-size="15.8" text-anchor="middle" stroke="#000" stroke-width="0.2">****</text>
<text x="339.82" y="1130.12" font-size="15.8" text-anchor="middle" stroke="#000" stroke-width="0.2">****</text>
<text x="373.88" y="1130.12" font-size="15.8" text-anchor="middle" stroke="#000" stroke-width="0.2">****</text>
<text x="339.82" y="1152.27" font-size="15.8" text-anchor="middle" stroke="#000" stroke-width="0.2">****</text>
<text x="373.88" y="1152.27" font-size="15.8" text-anchor="middle" stroke="#000" stroke-width="0.2">****</text>
<text x="339.82" y="1174.42" font-size="15.8" text-anchor="middle" stroke="#000" stroke-width="0.2">****</text>
<text x="373.88" y="1174.42" font-size="15.8" text-anchor="middle" stroke="#000" stroke-width="0.2">****</text>
<text x="339.82" y="1196.58" font-size="15.8" text-anchor="middle" stroke="#000" stroke-width="0.2">****</text>
<text x="373.88" y="1196.58" font-size="15.8" text-anchor="middle" stroke="#000" stroke-width="0.2">****</text>
<rect x="320.2" y="780" width="75.4" height="425" fill="none" stroke="#383838" stroke-width="1.8"/>
<text transform="translate(348.02 1212.8) rotate(-90)" font-size="19.7" text-anchor="end">HMF</text>
<text transform="translate(382.07 1212.8) rotate(-90)" font-size="19.7" text-anchor="end">PCAWG</text>
<path d="M340.52 1205v4.3M374.57 1205v4.3" fill="none" stroke="#3c3c3c" stroke-width="1.4"/>
<rect x="424" y="782.3" width="34.35" height="22.45" fill="#fae6df"/>
<rect x="458.05" y="782.3" width="34.05" height="22.45" fill="#f8dad1"/>
<rect x="424" y="804.45" width="34.35" height="22.45" fill="#fae6df"/>
<rect x="458.05" y="804.45" width="34.05" height="22.45" fill="#fae6df"/>
<rect x="424" y="826.6" width="34.35" height="22.45" fill="#fae6df"/>
<rect x="458.05" y="826.6" width="34.05" height="22.45" fill="#ffffff"/>
<rect x="424" y="848.75" width="34.35" height="22.45" fill="#fcf0ec"/>
<rect x="458.05" y="848.75" width="34.05" height="22.45" fill="#f9ddd4"/>
<rect x="424" y="870.9" width="34.35" height="22.45" fill="#f8dad1"/>
<rect x="458.05" y="870.9" width="34.05" height="22.45" fill="#f8dad1"/>
<rect x="424" y="893.05" width="34.35" height="22.45" fill="#f9e0d8"/>
<rect x="458.05" y="893.05" width="34.05" height="22.45" fill="#f6c9bd"/>
<rect x="424" y="915.2" width="34.35" height="22.45" fill="#f8d5cb"/>
<rect x="458.05" y="915.2" width="34.05" height="22.45" fill="#fbede8"/>
<rect x="424" y="937.35" width="34.35" height="22.45" fill="#fefaf9"/>
<rect x="458.05" y="937.35" width="34.05" height="22.45" fill="#fae6df"/>
<rect x="424" y="959.5" width="34.35" height="22.45" fill="#f8dad1"/>
<rect x="458.05" y="959.5" width="34.05" height="22.45" fill="#f5beb0"/>
<rect x="424" y="981.65" width="34.35" height="22.45" fill="#f8d5cb"/>
<rect x="458.05" y="981.65" width="34.05" height="22.45" fill="#f7cfc4"/>
<rect x="424" y="1003.8" width="34.35" height="22.45" fill="#f8d5cb"/>
<rect x="458.05" y="1003.8" width="34.05" height="22.45" fill="#fcf0ec"/>
<rect x="424" y="1025.95" width="34.35" height="22.45" fill="#fae6df"/>
<rect x="458.05" y="1025.95" width="34.05" height="22.45" fill="#f8dad1"/>
<rect x="424" y="1048.1" width="34.35" height="22.45" fill="#fefaf9"/>
<rect x="458.05" y="1048.1" width="34.05" height="22.45" fill="#f8dad1"/>
<rect x="424" y="1070.25" width="34.35" height="22.45" fill="#fdf3f0"/>
<rect x="458.05" y="1070.25" width="34.05" height="22.45" fill="#f7d2c8"/>
<rect x="424" y="1092.4" width="34.35" height="22.45" fill="#fae6df"/>
<rect x="458.05" y="1092.4" width="34.05" height="22.45" fill="#f8d5cb"/>
<rect x="424" y="1114.55" width="34.35" height="22.45" fill="#fbe9e3"/>
<rect x="458.05" y="1114.55" width="34.05" height="22.45" fill="#f7d2c8"/>
<rect x="424" y="1136.7" width="34.35" height="22.45" fill="#fae6df"/>
<rect x="458.05" y="1136.7" width="34.05" height="22.45" fill="#ffffff"/>
<rect x="424" y="1158.85" width="34.35" height="22.45" fill="#fef9f7"/>
<rect x="458.05" y="1158.85" width="34.05" height="22.45" fill="#fae6df"/>
<rect x="424" y="1181" width="34.35" height="22.45" fill="#f7cfc4"/>
<rect x="458.05" y="1181" width="34.05" height="22.45" fill="#f7cfc4"/>
<text x="440.02" y="797.88" font-size="15.8" text-anchor="middle" stroke="#000" stroke-width="0.2">****</text>
<text x="474.07" y="797.88" font-size="15.8" text-anchor="middle" stroke="#000" stroke-width="0.2">****</text>
<text x="438.72" y="820.02" font-size="15.8" text-anchor="middle" stroke="#000" stroke-width="0.2">***</text>
<text x="471.47" y="820.02" font-size="15.8" text-anchor="middle" stroke="#000" stroke-width="0.2">**</text>
<text x="438.72" y="842.17" font-size="15.8" text-anchor="middle" stroke="#000" stroke-width="0.2">***</text>
<text x="438.72" y="864.33" font-size="15.8" text-anchor="middle" stroke="#000" stroke-width="0.2">***</text>
<text x="471.47" y="864.33" font-size="15.8" text-anchor="middle" stroke="#000" stroke-width="0.2">**</text>
<text x="438.72" y="886.48" font-size="15.8" text-anchor="middle" stroke="#000" stroke-width="0.2">***</text>
<text x="472.77" y="886.48" font-size="15.8" text-anchor="middle" stroke="#000" stroke-width="0.2">***</text>
<text x="438.72" y="908.62" font-size="15.8" text-anchor="middle" stroke="#000" stroke-width="0.2">***</text>
<text x="471.47" y="908.62" font-size="15.8" text-anchor="middle" stroke="#000" stroke-width="0.2">**</text>
<text x="438.72" y="930.77" font-size="15.8" text-anchor="middle" stroke="#000" stroke-width="0.2">***</text>
<text x="468.88" y="954.42" font-size="16.5" text-anchor="middle" stroke="#000" stroke-width="0.3">.</text>
<text x="436.12" y="975.08" font-size="15.8" text-anchor="middle" stroke="#000" stroke-width="0.2">*</text>
<text x="474.07" y="975.08" font-size="15.8" text-anchor="middle" stroke="#000" stroke-width="0.2">****</text>
<text x="438.72" y="997.23" font-size="15.8" text-anchor="middle" stroke="#000" stroke-width="0.2">***</text>
<text x="472.77" y="997.23" font-size="15.8" text-anchor="middle" stroke="#000" stroke-width="0.2">***</text>
<text x="436.12" y="1019.38" font-size="15.8" text-anchor="middle" stroke="#000" stroke-width="0.2">*</text>
<text x="434.82" y="1043.02" font-size="16.5" text-anchor="middle" stroke="#000" stroke-width="0.3">.</text>
<text x="470.18" y="1041.52" font-size="15.8" text-anchor="middle" stroke="#000" stroke-width="0.2">*</text>
<text x="471.47" y="1063.67" font-size="15.8" text-anchor="middle" stroke="#000" stroke-width="0.2">**</text>
<text x="470.18" y="1085.83" font-size="15.8" text-anchor="middle" stroke="#000" stroke-width="0.2">*</text>
<text x="436.12" y="1107.97" font-size="15.8" text-anchor="middle" stroke="#000" stroke-width="0.2">*</text>
<text x="468.88" y="1109.47" font-size="16.5" text-anchor="middle" stroke="#000" stroke-width="0.3">.</text>
<text x="472.77" y="1130.12" font-size="15.8" text-anchor="middle" stroke="#000" stroke-width="0.2">***</text>
<text x="434.82" y="1153.77" font-size="16.5" text-anchor="middle" stroke="#000" stroke-width="0.3">.</text>
<text x="437.42" y="1196.58" font-size="15.8" text-anchor="middle" stroke="#000" stroke-width="0.2">**</text>
<text x="470.18" y="1196.58" font-size="15.8" text-anchor="middle" stroke="#000" stroke-width="0.2">*</text>
<rect x="420.5" y="780" width="75.4" height="425" fill="none" stroke="#383838" stroke-width="1.8"/>
<text transform="translate(448.22 1212.8) rotate(-90)" font-size="19.7" text-anchor="end">HMF</text>
<text transform="translate(482.27 1212.8) rotate(-90)" font-size="19.7" text-anchor="end">PCAWG</text>
<path d="M440.72 1205v4.3M474.77 1205v4.3" fill="none" stroke="#3c3c3c" stroke-width="1.4"/>
<rect x="504.2" y="782.3" width="34.35" height="22.45" fill="#e4dcea"/>
<rect x="538.25" y="782.3" width="34.05" height="22.45" fill="#faf8fb"/>
<rect x="504.2" y="804.45" width="34.35" height="22.45" fill="#d4c8de"/>
<rect x="538.25" y="804.45" width="34.05" height="22.45" fill="#d4c8de"/>
<rect x="504.2" y="826.6" width="34.35" height="22.45" fill="#c9bbd7"/>
<rect x="538.25" y="826.6" width="34.05" height="22.45" fill="#d4c8de"/>
<rect x="504.2" y="848.75" width="34.35" height="22.45" fill="#e4dcea"/>
<rect x="538.25" y="848.75" width="34.05" height="22.45" fill="#faf8fb"/>
<rect x="504.2" y="870.9" width="34.35" height="22.45" fill="#d4c8de"/>
<rect x="538.25" y="870.9" width="34.05" height="22.45" fill="#c4b4d4"/>
<rect x="504.2" y="893.05" width="34.35" height="22.45" fill="#e9e3ee"/>
<rect x="538.25" y="893.05" width="34.05" height="22.45" fill="#fffdfc"/>
<rect x="504.2" y="915.2" width="34.35" height="22.45" fill="#ffffff"/>
<rect x="538.25" y="915.2" width="34.05" height="22.45" fill="#fffdfc"/>
<rect x="504.2" y="937.35" width="34.35" height="22.45" fill="#efeaf3"/>
<rect x="538.25" y="937.35" width="34.05" height="22.45" fill="#e4dcea"/>
<rect x="504.2" y="959.5" width="34.35" height="22.45" fill="#e4dcea"/>
<rect x="538.25" y="959.5" width="34.05" height="22.45" fill="#ffffff"/>
<rect x="504.2" y="981.65" width="34.35" height="22.45" fill="#d9cee2"/>
<rect x="538.25" y="981.65" width="34.05" height="22.45" fill="#fcf0ec"/>
<rect x="504.2" y="1003.8" width="34.35" height="22.45" fill="#fffdfc"/>
<rect x="538.25" y="1003.8" width="34.05" height="22.45" fill="#e4dcea"/>
<rect x="504.2" y="1025.95" width="34.35" height="22.45" fill="#cec1db"/>
<rect x="538.25" y="1025.95" width="34.05" height="22.45" fill="#d9cee2"/>
<rect x="504.2" y="1048.1" width="34.35" height="22.45" fill="#fdf3f0"/>
<rect x="538.25" y="1048.1" width="34.05" height="22.45" fill="#f0907c"/>
<rect x="504.2" y="1070.25" width="34.35" height="22.45" fill="#d4c8de"/>
<rect x="538.25" y="1070.25" width="34.05" height="22.45" fill="#f4f1f7"/>
<rect x="504.2" y="1092.4" width="34.35" height="22.45" fill="#efeaf3"/>
<rect x="538.25" y="1092.4" width="34.05" height="22.45" fill="#fffdfc"/>
<rect x="504.2" y="1114.55" width="34.35" height="22.45" fill="#e9e3ee"/>
<rect x="538.25" y="1114.55" width="34.05" height="22.45" fill="#ffffff"/>
<rect x="504.2" y="1136.7" width="34.35" height="22.45" fill="#e4dcea"/>
<rect x="538.25" y="1136.7" width="34.05" height="22.45" fill="#e4dcea"/>
<rect x="504.2" y="1158.85" width="34.35" height="22.45" fill="#b4a1c9"/>
<rect x="538.25" y="1158.85" width="34.05" height="22.45" fill="#ded5e6"/>
<rect x="504.2" y="1181" width="34.35" height="22.45" fill="#fbebe5"/>
<rect x="538.25" y="1181" width="34.05" height="22.45" fill="#fffdfc"/>
<text x="520.23" y="797.88" font-size="15.8" text-anchor="middle" stroke="#000" stroke-width="0.2">****</text>
<text x="550.38" y="797.88" font-size="15.8" text-anchor="middle" stroke="#000" stroke-width="0.2">*</text>
<text x="518.93" y="820.02" font-size="15.8" text-anchor="middle" stroke="#000" stroke-width="0.2">***</text>
<text x="552.98" y="820.02" font-size="15.8" text-anchor="middle" stroke="#000" stroke-width="0.2">***</text>
<text x="518.93" y="842.17" font-size="15.8" text-anchor="middle" stroke="#000" stroke-width="0.2">***</text>
<text x="551.67" y="842.17" font-size="15.8" text-anchor="middle" stroke="#000" stroke-width="0.2">**</text>
<text x="518.93" y="864.33" font-size="15.8" text-anchor="middle" stroke="#000" stroke-width="0.2">***</text>
<text x="518.93" y="886.48" font-size="15.8" text-anchor="middle" stroke="#000" stroke-width="0.2">***</text>
<text x="552.98" y="886.48" font-size="15.8" text-anchor="middle" stroke="#000" stroke-width="0.2">***</text>
<text x="518.93" y="908.62" font-size="15.8" text-anchor="middle" stroke="#000" stroke-width="0.2">***</text>
<text x="549.07" y="954.42" font-size="16.5" text-anchor="middle" stroke="#000" stroke-width="0.3">.</text>
<text x="516.33" y="997.23" font-size="15.8" text-anchor="middle" stroke="#000" stroke-width="0.2">*</text>
<text x="550.38" y="1019.38" font-size="15.8" text-anchor="middle" stroke="#000" stroke-width="0.2">*</text>
<text x="516.33" y="1041.52" font-size="15.8" text-anchor="middle" stroke="#000" stroke-width="0.2">*</text>
<text x="549.07" y="1043.02" font-size="16.5" text-anchor="middle" stroke="#000" stroke-width="0.3">.</text>
<text x="554.27" y="1063.67" font-size="15.8" text-anchor="middle" stroke="#000" stroke-width="0.2">****</text>
<text x="516.33" y="1085.83" font-size="15.8" text-anchor="middle" stroke="#000" stroke-width="0.2">*</text>
<text x="517.62" y="1174.42" font-size="15.8" text-anchor="middle" stroke="#000" stroke-width="0.2">**</text>
<rect x="500.7" y="780" width="75.4" height="425" fill="none" stroke="#383838" stroke-width="1.8"/>
<text transform="translate(528.43 1212.8) rotate(-90)" font-size="19.7" text-anchor="end">HMF</text>
<text transform="translate(562.48 1212.8) rotate(-90)" font-size="19.7" text-anchor="end">PCAWG</text>
<path d="M520.93 1205v4.3M554.98 1205v4.3" fill="none" stroke="#3c3c3c" stroke-width="1.4"/>
<text x="231.5" y="798.98" font-size="19.6" text-anchor="end">PANCANCER</text>
<text x="231.5" y="821.92" font-size="19.6" text-anchor="end">lung</text>
<text x="231.5" y="844.07" font-size="19.6" text-anchor="end">skin</text>
<text x="231.5" y="866.23" font-size="19.6" text-anchor="end">breast</text>
<text x="231.5" y="888.38" font-size="19.6" text-anchor="end">esophagus</text>
<text x="231.5" y="910.52" font-size="19.6" text-anchor="end">colorectal</text>
<text x="231.5" y="932.67" font-size="19.6" text-anchor="end">prostate</text>
<text x="231.5" y="954.82" font-size="19.6" text-anchor="end">ovary</text>
<text x="231.5" y="976.98" font-size="19.6" text-anchor="end">liver</text>
<text x="231.5" y="999.12" font-size="19.6" text-anchor="end">kidney</text>
<text x="231.5" y="1021.27" font-size="19.6" text-anchor="end">pancreas</text>
<text x="231.5" y="1043.42" font-size="19.6" text-anchor="end">head &amp; neck</text>
<text x="231.5" y="1065.58" font-size="19.6" text-anchor="end">lymphoid</text>
<text x="231.5" y="1087.73" font-size="19.6" text-anchor="end">uterus</text>
<text x="231.5" y="1109.88" font-size="19.6" text-anchor="end">bone</text>
<text x="231.5" y="1132.03" font-size="19.6" text-anchor="end">stomach</text>
<text x="231.5" y="1154.17" font-size="19.6" text-anchor="end">neuroendocrine</text>
<text x="231.5" y="1176.33" font-size="19.6" text-anchor="end">biliary</text>
<text x="231.5" y="1198.48" font-size="19.6" text-anchor="end">nervous system</text>
<path d="M236.3 793.38h3.6M236.3 815.52h3.6M236.3 837.67h3.6M236.3 859.83h3.6M236.3 881.98h3.6M236.3 904.12h3.6M236.3 926.27h3.6M236.3 948.42h3.6M236.3 970.58h3.6M236.3 992.73h3.6M236.3 1014.88h3.6M236.3 1037.02h3.6M236.3 1059.17h3.6M236.3 1081.33h3.6M236.3 1103.47h3.6M236.3 1125.62h3.6M236.3 1147.77h3.6M236.3 1169.92h3.6M236.3 1192.08h3.6" fill="none" stroke="#3c3c3c" stroke-width="1.4"/>
<text transform="translate(91 984.3) rotate(-90)" font-size="19.7" text-anchor="middle">Cancer type</text>
<text x="409.4" y="1314.2" font-size="19.7" text-anchor="middle" fill="#231f20">Dataset</text>
<text x="599.6" y="933" font-size="19.7">Odds ratio</text>
<text x="599.6" y="957.2" font-size="19.7">(OR), log2</text>
<defs><linearGradient id="gd" x1="0" y1="0" x2="0" y2="1"><stop offset="0" stop-color="#e82330"/><stop offset="0.04" stop-color="#ea2e31"/><stop offset="0.08" stop-color="#eb3933"/><stop offset="0.12" stop-color="#ec4337"/><stop offset="0.17" stop-color="#ed4d3d"/><stop offset="0.21" stop-color="#ed5744"/><stop offset="0.25" stop-color="#ec614c"/><stop offset="0.29" stop-color="#eb6c57"/><stop offset="0.33" stop-color="#ea7763"/><stop offset="0.38" stop-color="#ed816d"/><stop offset="0.42" stop-color="#ef8c78"/><stop offset="0.46" stop-color="#f19986"/><stop offset="0.5" stop-color="#f2a797"/><stop offset="0.54" stop-color="#f4b6a7"/><stop offset="0.58" stop-color="#f5c4b7"/><stop offset="0.62" stop-color="#f7d2c8"/><stop offset="0.67" stop-color="#f9e1d9"/><stop offset="0.71" stop-color="#fceee9"/><stop offset="0.75" stop-color="#fefaf9"/><stop offset="0.79" stop-color="#f7f4f9"/><stop offset="0.83" stop-color="#e9e3ee"/><stop offset="0.88" stop-color="#dcd1e4"/><stop offset="0.92" stop-color="#cec1db"/><stop offset="0.96" stop-color="#c1b1d2"/><stop offset="1" stop-color="#b4a1c9"/></linearGradient></defs>
<rect x="602.2" y="974.2" width="18.7" height="121.5" fill="url(#gd)"/>
<text x="626.2" y="989.7" font-size="17.3">2</text>
<text x="626.2" y="1030.4" font-size="17.3">1</text>
<text x="626.2" y="1071.1" font-size="17.3">0</text>
<path d="M616.3 985.9h4.6M616.3 1026.6h4.6M616.3 1067.3h4.6" fill="none" stroke="#222" stroke-width="1.3"/>
<text x="602" y="1149.8" font-size="19.7" fill="#231f20">*</text>
<text x="658.2" y="1149.8" font-size="19.7" fill="#231f20">q &lt; 0.05</text>
<text x="602" y="1173.3" font-size="19.7" fill="#231f20">**</text>
<text x="658.2" y="1173.3" font-size="19.7" fill="#231f20">q &lt; 0.01</text>
<text x="602" y="1196.8" font-size="19.7" fill="#231f20">***</text>
<text x="658.2" y="1196.8" font-size="19.7" fill="#231f20">q &lt; 0.001</text>
<text x="602" y="1220.3" font-size="19.7" fill="#231f20">****</text>
<text x="658.2" y="1220.3" font-size="19.7" fill="#231f20">q &lt; 2.2 x 10<tspan font-size="11.5" dy="-7.5">-16</tspan></text>
</g>
<g>
<text x="867.5" y="748.5" font-size="101">e</text>
<path d="M1009.9 781L1009.9 1206.5" stroke="#333" stroke-width="1.8" fill="none"/>
<path d="M1009 1205.6L1588.8 1205.6" stroke="#333" stroke-width="1.8" fill="none"/>
<path d="M1371.9 781L1371.9 1205.6" stroke="#3a3a3a" stroke-width="1.5" fill="none"/>
<text x="1000.5" y="799.8" font-size="19.6" text-anchor="end">SBS1</text>
<text x="1000.5" y="819.8" font-size="19.6" text-anchor="end">SBS7b</text>
<text x="1000.5" y="839.8" font-size="19.6" text-anchor="end">SBS2</text>
<text x="1000.5" y="859.8" font-size="19.6" text-anchor="end">SBS13</text>
<text x="1000.5" y="879.8" font-size="19.6" text-anchor="end">SBS6</text>
<text x="1000.5" y="899.8" font-size="19.6" text-anchor="end">indel</text>
<text x="1000.5" y="919.8" font-size="19.6" text-anchor="end">SBS5</text>
<text x="1000.5" y="939.8" font-size="19.6" text-anchor="end">SBS28</text>
<text x="1000.5" y="959.8" font-size="19.6" text-anchor="end">SBS3</text>
<text x="1000.5" y="979.8" font-size="19.6" text-anchor="end">SBS40</text>
<text x="1000.5" y="999.8" font-size="19.6" text-anchor="end">SBS41</text>
<text x="1000.5" y="1019.8" font-size="19.6" text-anchor="end">SBS9</text>
<text x="1000.5" y="1039.8" font-size="19.6" text-anchor="end">SBS44</text>
<text x="1000.5" y="1059.8" font-size="19.6" text-anchor="end">SBS8</text>
<text x="1000.5" y="1079.8" font-size="19.6" text-anchor="end">SBS22</text>
<text x="1000.5" y="1099.8" font-size="19.6" text-anchor="end">SBS12</text>
<text x="1000.5" y="1119.8" font-size="19.6" text-anchor="end">SBS7c</text>
<text x="1000.5" y="1139.8" font-size="19.6" text-anchor="end">SBS17a</text>
<text x="1000.5" y="1159.8" font-size="19.6" text-anchor="end">SBS7a</text>
<text x="1000.5" y="1179.8" font-size="19.6" text-anchor="end">SBS4</text>
<text x="1000.5" y="1199.8" font-size="19.6" text-anchor="end">SBS17b</text>
<text x="1013" y="1228.5" font-size="19.6" text-anchor="middle">−40</text>
<text x="1193.2" y="1228.5" font-size="19.6" text-anchor="middle">−20</text>
<text x="1371.9" y="1228.5" font-size="19.6" text-anchor="middle">0</text>
<text x="1552.1" y="1228.5" font-size="19.6" text-anchor="middle">20</text>
<path d="M1005.1 793.1H1009.9M1005.1 813.1H1009.9M1005.1 833.1H1009.9M1005.1 853.1H1009.9M1005.1 873.1H1009.9M1005.1 893.1H1009.9M1005.1 913.1H1009.9M1005.1 933.1H1009.9M1005.1 953.1H1009.9M1005.1 973.1H1009.9M1005.1 993.1H1009.9M1005.1 1013.1H1009.9M1005.1 1033.1H1009.9M1005.1 1053.1H1009.9M1005.1 1073.1H1009.9M1005.1 1093.1H1009.9M1005.1 1113.1H1009.9M1005.1 1133.1H1009.9M1005.1 1153.1H1009.9M1005.1 1173.1H1009.9M1005.1 1193.1H1009.9M1011.5 1205.6V1210.4M1191.7 1205.6V1210.4M1371.9 1205.6V1210.4M1552.1 1205.6V1210.4" fill="none" stroke="#333" stroke-width="1.7"/>
<text transform="translate(911.3 991.2) rotate(-90)" font-size="19.7" text-anchor="middle">Mutational signature</text>
<text x="1001.6" y="1258.1" font-size="19.7">&lt; depleted</text>
<text x="1589.6" y="1258.1" font-size="19.7" text-anchor="end">enriched &gt;</text>
<text x="1295.5" y="1282.3" font-size="19.7" text-anchor="middle">Enrichment score</text>
<text x="1295.5" y="1306.4" font-size="19.7" text-anchor="middle">(–log10 FDR * sign log OR)</text>
<g stroke="#000" stroke-width="2" stroke-linejoin="miter"><rect x="1349.95" y="788" width="10.2" height="10.2" fill="#a5a8a8"/><path d="M1389.92 786.6l6.5 6.5l-6.5 6.5l-6.5 -6.5z" fill="#2d2d75"/><path d="M1392.62 786.6l6.5 6.5l-6.5 6.5l-6.5 -6.5z" fill="#005a30"/><rect x="1392.93" y="788" width="10.2" height="10.2" fill="#8c1a22"/><path d="M1394.43 786.6l6.5 6.5l-6.5 6.5l-6.5 -6.5z" fill="#8c1a22"/><path d="M1384.06 786.6l6.5 6.5l-6.5 6.5l-6.5 -6.5z" fill="#a3a748"/><rect x="1400.14" y="788" width="10.2" height="10.2" fill="#cb5c92"/><path d="M1404.34 786.6l6.5 6.5l-6.5 6.5l-6.5 -6.5z" fill="#cb5c92"/><path d="M1411.54 786.6l6.5 6.5l-6.5 6.5l-6.5 -6.5z" fill="#3d7cc0"/><rect x="1410.05" y="788" width="10.2" height="10.2" fill="#3d7cc0"/><path d="M1425.06 786.6l6.5 6.5l-6.5 6.5l-6.5 -6.5z" fill="#76bfe6"/><path d="M1426.86 786.6l6.5 6.5l-6.5 6.5l-6.5 -6.5z" fill="#3d7cc0"/><rect x="1413.65" y="788" width="10.2" height="10.2" fill="#f8f0df"/><rect x="1445.64" y="788" width="10.2" height="10.2" fill="#cb5c92"/><path d="M1442.18 786.6l6.5 6.5l-6.5 6.5l-6.5 -6.5z" fill="#3d7cc0"/><path d="M1551.2 786.6l6.5 6.5l-6.5 6.5l-6.5 -6.5z" fill="#f8f0df"/><path d="M1562.46 786.6l6.5 6.5l-6.5 6.5l-6.5 -6.5z" fill="#cb5c92"/><path d="M1401.63 806.6l6.5 6.5l-6.5 6.5l-6.5 -6.5z" fill="#eb9e5b"/><rect x="1438.88" y="808" width="10.2" height="10.2" fill="#eb9e5b"/><path d="M1534.08 806.6l6.5 6.5l-6.5 6.5l-6.5 -6.5z" fill="#eb9e5b"/><path d="M1408.84 826.6l6.5 6.5l-6.5 6.5l-6.5 -6.5z" fill="#f8f0df"/><path d="M1389.92 826.6l6.5 6.5l-6.5 6.5l-6.5 -6.5z" fill="#2d2d75"/><rect x="1387.52" y="828" width="10.2" height="10.2" fill="#cb5c92"/><path d="M1403.89 826.6l6.5 6.5l-6.5 6.5l-6.5 -6.5z" fill="#cb5c92"/><rect x="1391.13" y="828" width="10.2" height="10.2" fill="#cb5c92"/><path d="M1384.51 826.6l6.5 6.5l-6.5 6.5l-6.5 -6.5z" fill="#ef8068"/><path d="M1411.99 846.6l6.5 6.5l-6.5 6.5l-6.5 -6.5z" fill="#f8f0df"/><rect x="1389.33" y="848" width="10.2" height="10.2" fill="#3d7cc0"/><path d="M1398.93 846.6l6.5 6.5l-6.5 6.5l-6.5 -6.5z" fill="#2d2d75"/><rect x="1381.67" y="848" width="10.2" height="10.2" fill="#9f6fa5"/><rect x="1389.33" y="868" width="10.2" height="10.2" fill="#5c8a3c"/><path d="M1445.78 866.6l6.5 6.5l-6.5 6.5l-6.5 -6.5z" fill="#5c8a3c"/><path d="M1300.27 886.6l6.5 6.5l-6.5 6.5l-6.5 -6.5z" fill="#2d2d75"/><rect x="1339.32" y="888" width="10.2" height="10.2" fill="#cb5c92"/><path d="M1348.92 886.6l6.5 6.5l-6.5 6.5l-6.5 -6.5z" fill="#8c1a22"/><path d="M1351.18 886.6l6.5 6.5l-6.5 6.5l-6.5 -6.5z" fill="#ef8068"/><rect x="1353.74" y="888" width="10.2" height="10.2" fill="#76bfe6"/><rect x="1405.54" y="888" width="10.2" height="10.2" fill="#eb9e5b"/><rect x="1396.98" y="888" width="10.2" height="10.2" fill="#eb9e5b"/><path d="M1389.02 886.6l6.5 6.5l-6.5 6.5l-6.5 -6.5z" fill="#eb9e5b"/><path d="M1539.94 886.6l6.5 6.5l-6.5 6.5l-6.5 -6.5z" fill="#eb9e5b"/><rect x="1348.33" y="908" width="10.2" height="10.2" fill="#005a30"/><path d="M1357.93 906.6l6.5 6.5l-6.5 6.5l-6.5 -6.5z" fill="#eb9e5b"/><path d="M1401.63 906.6l6.5 6.5l-6.5 6.5l-6.5 -6.5z" fill="#2d2d75"/><path d="M1386.32 906.6l6.5 6.5l-6.5 6.5l-6.5 -6.5z" fill="#5c8a3c"/><path d="M1428.66 906.6l6.5 6.5l-6.5 6.5l-6.5 -6.5z" fill="#3d7cc0"/><rect x="1426.27" y="928" width="10.2" height="10.2" fill="#005a30"/><rect x="1393.83" y="948" width="10.2" height="10.2" fill="#a9d8ee"/><path d="M1391.27 946.6l6.5 6.5l-6.5 6.5l-6.5 -6.5z" fill="#a9d8ee"/><rect x="1378.96" y="948" width="10.2" height="10.2" fill="#76bfe6"/><path d="M1342.17 966.6l6.5 6.5l-6.5 6.5l-6.5 -6.5z" fill="#cb5c92"/><path d="M1354.33 966.6l6.5 6.5l-6.5 6.5l-6.5 -6.5z" fill="#8c1a22"/><path d="M1402.98 966.6l6.5 6.5l-6.5 6.5l-6.5 -6.5z" fill="#2d2d75"/><rect x="1389.33" y="968" width="10.2" height="10.2" fill="#f8f0df"/><path d="M1384.51 966.6l6.5 6.5l-6.5 6.5l-6.5 -6.5z" fill="#3d7cc0"/><path d="M1358.84 986.6l6.5 6.5l-6.5 6.5l-6.5 -6.5z" fill="#a9d8ee"/><path d="M1352.98 1006.6l6.5 6.5l-6.5 6.5l-6.5 -6.5z" fill="#5c8a3c"/><rect x="1341.57" y="1028" width="10.2" height="10.2" fill="#76bfe6"/><path d="M1348.47 1046.6l6.5 6.5l-6.5 6.5l-6.5 -6.5z" fill="#2d2d75"/><rect x="1349.23" y="1048" width="10.2" height="10.2" fill="#008585"/><path d="M1343.52 1066.6l6.5 6.5l-6.5 6.5l-6.5 -6.5z" fill="#ee5036"/><rect x="1349.68" y="1068" width="10.2" height="10.2" fill="#ee5036"/><path d="M1324.15 1086.6l6.5 6.5l-6.5 6.5l-6.5 -6.5z" fill="#005a30"/><path d="M1322.8 1106.6l6.5 6.5l-6.5 6.5l-6.5 -6.5z" fill="#eb9e5b"/><path d="M1303.42 1126.6l6.5 6.5l-6.5 6.5l-6.5 -6.5z" fill="#3d7cc0"/><path d="M1345.32 1126.6l6.5 6.5l-6.5 6.5l-6.5 -6.5z" fill="#3d7cc0"/><path d="M1358.38 1126.6l6.5 6.5l-6.5 6.5l-6.5 -6.5z" fill="#2d2d75"/><path d="M1294.41 1146.6l6.5 6.5l-6.5 6.5l-6.5 -6.5z" fill="#eb9e5b"/><rect x="1319.5" y="1148" width="10.2" height="10.2" fill="#eb9e5b"/><rect x="1354.64" y="1148" width="10.2" height="10.2" fill="#eb9e5b"/><rect x="1232.55" y="1168" width="10.2" height="10.2" fill="#f8f0df"/><path d="M1284.5 1166.6l6.5 6.5l-6.5 6.5l-6.5 -6.5z" fill="#f8f0df"/><rect x="1348.78" y="1168" width="10.2" height="10.2" fill="#cb5c92"/><rect x="1382.57" y="1168" width="10.2" height="10.2" fill="#3d7cc0"/><path d="M1035.83 1186.6l6.5 6.5l-6.5 6.5l-6.5 -6.5z" fill="#3d7cc0"/><path d="M1240.35 1186.6l6.5 6.5l-6.5 6.5l-6.5 -6.5z" fill="#2d2d75"/><path d="M1263.33 1186.6l6.5 6.5l-6.5 6.5l-6.5 -6.5z" fill="#3d7cc0"/><path d="M1287.21 1186.6l6.5 6.5l-6.5 6.5l-6.5 -6.5z" fill="#cb5c92"/><rect x="1319.05" y="1188" width="10.2" height="10.2" fill="#3d7cc0"/><path d="M1328.2 1186.6l6.5 6.5l-6.5 6.5l-6.5 -6.5z" fill="#005a30"/><path d="M1333.16 1186.6l6.5 6.5l-6.5 6.5l-6.5 -6.5z" fill="#a9d8ee"/><path d="M1348.02 1186.6l6.5 6.5l-6.5 6.5l-6.5 -6.5z" fill="#5c8a3c"/><rect x="1353.74" y="1188" width="10.2" height="10.2" fill="#2d2d75"/><rect x="1385.72" y="1188" width="10.2" height="10.2" fill="#005a30"/></g>
<text x="1754" y="762.2" font-size="19.7">Cancer type</text>
<rect x="1756.2" y="776" width="19.8" height="19.8" fill="#2ea86a" stroke="#000" stroke-width="1.8"/>
<text x="1788" y="793.6" font-size="19.7">biliary</text>
<rect x="1756.2" y="799.72" width="19.8" height="19.8" fill="#a3a748" stroke="#000" stroke-width="1.8"/>
<text x="1788" y="817.32" font-size="19.7">bone</text>
<rect x="1756.2" y="823.44" width="19.8" height="19.8" fill="#cb5c92" stroke="#000" stroke-width="1.8"/>
<text x="1788" y="841.04" font-size="19.7">breast</text>
<rect x="1756.2" y="847.16" width="19.8" height="19.8" fill="#2d2d75" stroke="#000" stroke-width="1.8"/>
<text x="1788" y="864.76" font-size="19.7">colorectal</text>
<rect x="1756.2" y="870.88" width="19.8" height="19.8" fill="#3d7cc0" stroke="#000" stroke-width="1.8"/>
<text x="1788" y="888.48" font-size="19.7">esophagus</text>
<rect x="1756.2" y="894.6" width="19.8" height="19.8" fill="#8c1a22" stroke="#000" stroke-width="1.8"/>
<text x="1788" y="912.2" font-size="19.7">head &amp; neck</text>
<rect x="1756.2" y="918.32" width="19.8" height="19.8" fill="#ee5036" stroke="#000" stroke-width="1.8"/>
<text x="1788" y="935.92" font-size="19.7">kidney</text>
<rect x="1756.2" y="942.04" width="19.8" height="19.8" fill="#005a30" stroke="#000" stroke-width="1.8"/>
<text x="1788" y="959.64" font-size="19.7">liver</text>
<rect x="1756.2" y="965.76" width="19.8" height="19.8" fill="#f8f0df" stroke="#000" stroke-width="1.8"/>
<text x="1788" y="983.36" font-size="19.7">lung</text>
<rect x="1756.2" y="989.48" width="19.8" height="19.8" fill="#5c8a3c" stroke="#000" stroke-width="1.8"/>
<text x="1788" y="1007.08" font-size="19.7">lymphoid</text>
<rect x="1756.2" y="1013.2" width="19.8" height="19.8" fill="#a5a8a8" stroke="#000" stroke-width="1.8"/>
<text x="1788" y="1030.8" font-size="19.7">nervous system</text>
<rect x="1756.2" y="1036.92" width="19.8" height="19.8" fill="#9f6fa5" stroke="#000" stroke-width="1.8"/>
<text x="1788" y="1054.52" font-size="19.7">neuroendocrine</text>
<rect x="1756.2" y="1060.64" width="19.8" height="19.8" fill="#008585" stroke="#000" stroke-width="1.8"/>
<text x="1788" y="1078.24" font-size="19.7">ovary</text>
<rect x="1756.2" y="1084.36" width="19.8" height="19.8" fill="#6b3580" stroke="#000" stroke-width="1.8"/>
<text x="1788" y="1101.96" font-size="19.7">pancreas</text>
<rect x="1756.2" y="1108.08" width="19.8" height="19.8" fill="#76bfe6" stroke="#000" stroke-width="1.8"/>
<text x="1788" y="1125.68" font-size="19.7">prostate</text>
<rect x="1756.2" y="1131.8" width="19.8" height="19.8" fill="#eb9e5b" stroke="#000" stroke-width="1.8"/>
<text x="1788" y="1149.4" font-size="19.7">skin</text>
<rect x="1756.2" y="1155.52" width="19.8" height="19.8" fill="#a9d8ee" stroke="#000" stroke-width="1.8"/>
<text x="1788" y="1173.12" font-size="19.7">stomach</text>
<rect x="1756.2" y="1179.24" width="19.8" height="19.8" fill="#ef8068" stroke="#000" stroke-width="1.8"/>
<text x="1788" y="1196.84" font-size="19.7">uterus</text>
<text x="1752.5" y="1236.6" font-size="19.7">Site type</text>
<rect x="1760.4" y="1248.9" width="10.2" height="10.2" fill="#fff" stroke="#000" stroke-width="2"/>
<path d="M1765.4 1273.9l6.6 6.6l-6.6 6.6l-6.6-6.6z" fill="#fff" stroke="#000" stroke-width="2"/>
<text x="1787" y="1261.6" font-size="19.7">TOP2B–CTCF–RAD21</text>
<text x="1787" y="1287.5" font-size="19.7">TOP2B–RAD21</text>
</g>
<g>
<text x="89.4" y="1458.3" font-size="101">f</text>
<rect x="259.03" y="1387.7" width="70.23" height="12.72" fill="#4f8a78"/>
<rect x="329.06" y="1387.7" width="140.26" height="12.72" fill="#f5a02e"/>
<rect x="259.03" y="1400.17" width="70.23" height="12.72" fill="#80906b"/>
<rect x="329.06" y="1400.17" width="140.26" height="12.72" fill="#f5a02e"/>
<rect x="259.03" y="1412.64" width="70.23" height="12.72" fill="#5f8c76"/>
<rect x="329.06" y="1412.64" width="140.26" height="12.72" fill="#f5a02e"/>
<rect x="329.06" y="1425.11" width="70.23" height="12.72" fill="#e19e37"/>
<rect x="399.09" y="1425.11" width="70.23" height="12.72" fill="#eea02e"/>
<rect x="259.03" y="1437.58" width="70.23" height="12.72" fill="#148680"/>
<rect x="329.06" y="1437.58" width="70.23" height="12.72" fill="#bd9a4b"/>
<rect x="399.09" y="1437.58" width="70.23" height="12.72" fill="#e89f31"/>
<rect x="259.03" y="1450.05" width="70.23" height="12.72" fill="#008784"/>
<rect x="329.06" y="1450.05" width="70.23" height="12.72" fill="#6a9075"/>
<rect x="399.09" y="1450.05" width="70.23" height="12.72" fill="#bd984b"/>
<rect x="259.03" y="1462.52" width="70.23" height="12.72" fill="#3a897b"/>
<rect x="329.06" y="1462.52" width="70.23" height="12.72" fill="#a99758"/>
<rect x="399.09" y="1462.52" width="70.23" height="12.72" fill="#c59a48"/>
<rect x="329.06" y="1474.99" width="70.23" height="12.72" fill="#6e9174"/>
<rect x="399.09" y="1474.99" width="70.23" height="12.72" fill="#bd984b"/>
<rect x="189" y="1487.46" width="70.23" height="12.72" fill="#008784"/>
<rect x="259.03" y="1487.46" width="70.23" height="12.72" fill="#42897b"/>
<rect x="329.06" y="1487.46" width="70.23" height="12.72" fill="#7b926f"/>
<rect x="399.09" y="1487.46" width="70.23" height="12.72" fill="#d09c42"/>
<rect x="259.03" y="1499.93" width="70.23" height="12.72" fill="#29877e"/>
<rect x="329.06" y="1499.93" width="70.23" height="12.72" fill="#929565"/>
<rect x="399.09" y="1499.93" width="70.23" height="12.72" fill="#a99758"/>
<rect x="189" y="1512.4" width="70.23" height="12.72" fill="#008784"/>
<rect x="329.06" y="1512.4" width="140.26" height="12.72" fill="#a1965d"/>
<rect x="399.09" y="1524.87" width="70.23" height="12.72" fill="#80926c"/>
<rect x="189" y="1537.34" width="70.23" height="12.72" fill="#3a897b"/>
<rect x="259.03" y="1537.34" width="70.23" height="12.72" fill="#628e76"/>
<rect x="329.06" y="1537.34" width="70.23" height="12.72" fill="#6a9075"/>
<rect x="399.09" y="1537.34" width="70.23" height="12.72" fill="#a1965d"/>
<rect x="259.03" y="1549.81" width="70.23" height="12.72" fill="#23877f"/>
<rect x="329.06" y="1549.81" width="70.23" height="12.72" fill="#1c867f"/>
<rect x="399.09" y="1549.81" width="70.23" height="12.72" fill="#76926f"/>
<rect x="329.06" y="1562.28" width="70.23" height="12.72" fill="#2f887d"/>
<rect x="399.09" y="1562.28" width="70.23" height="12.72" fill="#72916f"/>
<rect x="329.06" y="1574.75" width="70.23" height="12.72" fill="#588c78"/>
<rect x="399.09" y="1574.75" width="70.23" height="12.72" fill="#78916f"/>
<rect x="329.06" y="1587.22" width="70.23" height="12.72" fill="#0b8782"/>
<rect x="399.09" y="1587.22" width="70.23" height="12.72" fill="#5f8e77"/>
<rect x="329.06" y="1599.69" width="70.23" height="12.72" fill="#418a7c"/>
<rect x="399.09" y="1599.69" width="70.23" height="12.72" fill="#7e926d"/>
<rect x="399.09" y="1612.16" width="70.23" height="12.72" fill="#6a9075"/>
<rect x="329.06" y="1624.63" width="70.23" height="12.72" fill="#008784"/>
<rect x="399.09" y="1624.63" width="70.23" height="12.72" fill="#5a8d78"/>
<rect x="399.09" y="1637.1" width="70.23" height="12.72" fill="#588c78"/>
<rect x="329.06" y="1649.57" width="70.23" height="12.72" fill="#588c78"/>
<rect x="399.09" y="1649.57" width="70.23" height="12.72" fill="#4a8a7a"/>
<rect x="329.06" y="1662.04" width="70.23" height="12.72" fill="#058783"/>
<rect x="399.09" y="1662.04" width="70.23" height="12.72" fill="#588c78"/>
<rect x="399.09" y="1674.51" width="70.23" height="12.72" fill="#508b79"/>
<rect x="399.09" y="1686.98" width="70.23" height="12.72" fill="#1e877f"/>
<rect x="399.09" y="1699.45" width="70.23" height="12.72" fill="#2b887d"/>
<rect x="329.06" y="1711.92" width="70.23" height="12.72" fill="#008480"/>
<rect x="399.09" y="1711.92" width="70.23" height="12.72" fill="#128680"/>
<rect x="329.06" y="1724.39" width="70.23" height="12.72" fill="#0e8681"/>
<rect x="399.09" y="1724.39" width="70.23" height="12.72" fill="#2f887d"/>
<rect x="329.06" y="1736.86" width="70.23" height="12.72" fill="#008687"/>
<rect x="399.09" y="1736.86" width="70.23" height="12.72" fill="#148680"/>
<rect x="329.06" y="1749.33" width="70.23" height="12.72" fill="#3a897b"/>
<rect x="399.09" y="1749.33" width="70.23" height="12.72" fill="#088682"/>
<rect x="399.09" y="1761.8" width="70.23" height="12.72" fill="#148680"/>
<rect x="399.09" y="1774.27" width="70.23" height="12.72" fill="#148680"/>
<rect x="329.06" y="1786.74" width="70.23" height="12.72" fill="#148680"/>
<rect x="399.09" y="1799.21" width="70.23" height="12.72" fill="#008784"/>
<rect x="329.06" y="1811.68" width="70.23" height="12.72" fill="#008784"/>
<rect x="329.06" y="1824.15" width="70.23" height="12.72" fill="#148680"/>
<rect x="189" y="1836.62" width="70.23" height="12.72" fill="#008784"/>
<rect x="259.03" y="1836.62" width="70.23" height="12.72" fill="#548c79"/>
<rect x="329.06" y="1836.62" width="70.23" height="12.72" fill="#608e77"/>
<rect x="399.09" y="1836.62" width="70.23" height="12.72" fill="#1e877f"/>
<rect x="259.03" y="1849.09" width="70.23" height="12.72" fill="#148680"/>
<rect x="189" y="1861.56" width="70.23" height="12.72" fill="#668f76"/>
<rect x="259.03" y="1861.56" width="70.23" height="12.72" fill="#80926c"/>
<rect x="329.06" y="1861.56" width="70.23" height="12.72" fill="#628e76"/>
<rect x="399.09" y="1861.56" width="70.23" height="12.72" fill="#6a9075"/>
<rect x="189" y="1874.03" width="70.23" height="12.72" fill="#008784"/>
<rect x="259.03" y="1874.03" width="70.23" height="12.72" fill="#29877e"/>
<rect x="329.06" y="1874.03" width="70.23" height="12.72" fill="#008784"/>
<rect x="259.03" y="1886.5" width="70.23" height="12.72" fill="#1c877f"/>
<rect x="259.03" y="1898.97" width="70.23" height="12.72" fill="#058783"/>
<rect x="329.06" y="1911.44" width="70.23" height="12.72" fill="#0b8782"/>
<rect x="189" y="1923.91" width="70.23" height="12.72" fill="#148680"/>
<rect x="259.03" y="1923.91" width="70.23" height="12.72" fill="#008784"/>
<rect x="329.06" y="1923.91" width="70.23" height="12.72" fill="#0b8782"/>
<rect x="189" y="1936.38" width="70.23" height="12.72" fill="#78916f"/>
<rect x="259.03" y="1936.38" width="70.23" height="12.72" fill="#3f897b"/>
<rect x="329.06" y="1936.38" width="70.23" height="12.72" fill="#4a8b7b"/>
<rect x="399.09" y="1936.38" width="70.23" height="12.72" fill="#4e8b7a"/>
<rect x="189" y="1948.85" width="70.23" height="12.72" fill="#6a9075"/>
<rect x="259.03" y="1948.85" width="70.23" height="12.72" fill="#29877e"/>
<rect x="329.06" y="1948.85" width="70.23" height="12.72" fill="#0b8782"/>
<rect x="399.09" y="1948.85" width="70.23" height="12.72" fill="#23877f"/>
<rect x="189" y="1961.32" width="70.23" height="12.72" fill="#608e77"/>
<rect x="259.03" y="1961.32" width="70.23" height="12.72" fill="#29877e"/>
<rect x="329.06" y="1961.32" width="70.23" height="12.72" fill="#008784"/>
<rect x="189" y="1973.79" width="70.23" height="12.72" fill="#8a9368"/>
<rect x="259.03" y="1973.79" width="70.23" height="12.72" fill="#78916f"/>
<rect x="329.06" y="1973.79" width="70.23" height="12.72" fill="#4e8b7a"/>
<rect x="189" y="1986.26" width="70.23" height="12.72" fill="#8e9466"/>
<rect x="259.03" y="1986.26" width="70.23" height="12.72" fill="#aa9757"/>
<rect x="182" y="1386.2" width="294.7" height="613.5" fill="none" stroke="#383838" stroke-width="1.6"/>
<text x="225.21" y="2022.8" font-size="19.7" text-anchor="middle">bin1</text>
<text x="295.25" y="2022.8" font-size="19.7" text-anchor="middle">bin2</text>
<text x="365.27" y="2022.8" font-size="19.7" text-anchor="middle">bin3</text>
<text x="435.31" y="2022.8" font-size="19.7" text-anchor="middle">bin4</text>
<text x="329.2" y="2054.7" font-size="19.7" text-anchor="middle">Sites binned by expression or</text>
<text x="331.5" y="2078.6" font-size="19.7" text-anchor="middle">chromatin interactions</text>
<rect x="536.2" y="1387.7" width="41.2" height="100.01" fill="#870d1b"/>
<rect x="536.2" y="1487.46" width="41.2" height="62.6" fill="#e92435"/>
<rect x="536.2" y="1549.81" width="41.2" height="25.19" fill="#870d1b"/>
<rect x="536.2" y="1574.75" width="41.2" height="12.72" fill="#e92435"/>
<rect x="536.2" y="1587.22" width="41.2" height="12.72" fill="#870d1b"/>
<rect x="536.2" y="1599.69" width="41.2" height="12.72" fill="#6289c7"/>
<rect x="536.2" y="1612.16" width="41.2" height="12.72" fill="#e92435"/>
<rect x="536.2" y="1624.63" width="41.2" height="12.72" fill="#870d1b"/>
<rect x="536.2" y="1637.1" width="41.2" height="12.72" fill="#e92435"/>
<rect x="536.2" y="1649.57" width="41.2" height="25.19" fill="#870d1b"/>
<rect x="536.2" y="1674.51" width="41.2" height="12.72" fill="#e92435"/>
<rect x="536.2" y="1686.98" width="41.2" height="12.72" fill="#870d1b"/>
<rect x="536.2" y="1699.45" width="41.2" height="12.72" fill="#e92435"/>
<rect x="536.2" y="1711.92" width="41.2" height="50.13" fill="#870d1b"/>
<rect x="536.2" y="1761.8" width="41.2" height="12.72" fill="#e92435"/>
<rect x="536.2" y="1774.27" width="41.2" height="62.6" fill="#870d1b"/>
<rect x="536.2" y="1836.62" width="41.2" height="12.72" fill="#6289c7"/>
<rect x="536.2" y="1849.09" width="41.2" height="12.72" fill="#870d1b"/>
<rect x="536.2" y="1861.56" width="41.2" height="25.19" fill="#e92435"/>
<rect x="536.2" y="1886.5" width="41.2" height="37.66" fill="#008985"/>
<rect x="536.2" y="1923.91" width="41.2" height="25.19" fill="#e92435"/>
<rect x="536.2" y="1948.85" width="41.2" height="25.19" fill="#870d1b"/>
<rect x="536.2" y="1973.79" width="41.2" height="25.19" fill="#e92435"/>
<rect x="532.1" y="1386.2" width="49.5" height="613.5" fill="none" stroke="#383838" stroke-width="1.6"/>
<text x="556.8" y="2027.8" font-size="19.7" text-anchor="middle">Site</text>
<text x="556.8" y="2051.6" font-size="19.7" text-anchor="middle">type</text>
<rect x="642.1" y="1387.7" width="41.2" height="12.72" fill="#eb9e5b"/>
<rect x="642.1" y="1400.17" width="41.2" height="12.72" fill="#f8f0df"/>
<rect x="642.1" y="1412.64" width="41.2" height="12.72" fill="#cb5c92"/>
<rect x="642.1" y="1425.11" width="41.2" height="12.72" fill="#eb9e5b"/>
<rect x="642.1" y="1437.58" width="41.2" height="12.72" fill="#f8f0df"/>
<rect x="642.1" y="1450.05" width="41.2" height="12.72" fill="#eb9e5b"/>
<rect x="642.1" y="1462.52" width="41.2" height="12.72" fill="#cb5c92"/>
<rect x="642.1" y="1474.99" width="41.2" height="12.72" fill="#eb9e5b"/>
<rect x="642.1" y="1487.46" width="41.2" height="12.72" fill="#f8f0df"/>
<rect x="642.1" y="1499.93" width="41.2" height="12.72" fill="#cb5c92"/>
<rect x="642.1" y="1512.4" width="41.2" height="12.72" fill="#f8f0df"/>
<rect x="642.1" y="1524.87" width="41.2" height="12.72" fill="#eb9e5b"/>
<rect x="642.1" y="1537.34" width="41.2" height="12.72" fill="#cb5c92"/>
<rect x="642.1" y="1549.81" width="41.2" height="12.72" fill="#76bfe6"/>
<rect x="642.1" y="1562.28" width="41.2" height="12.72" fill="#3d7cc0"/>
<rect x="642.1" y="1574.75" width="41.2" height="12.72" fill="#eb9e5b"/>
<rect x="642.1" y="1587.22" width="41.2" height="12.72" fill="#f8f0df"/>
<rect x="642.1" y="1599.69" width="41.2" height="12.72" fill="#005a30"/>
<rect x="642.1" y="1612.16" width="41.2" height="12.72" fill="#eb9e5b"/>
<rect x="642.1" y="1624.63" width="41.2" height="12.72" fill="#76bfe6"/>
<rect x="642.1" y="1637.1" width="41.2" height="12.72" fill="#eb9e5b"/>
<rect x="642.1" y="1649.57" width="41.2" height="12.72" fill="#f8f0df"/>
<rect x="642.1" y="1662.04" width="41.2" height="12.72" fill="#2d2d75"/>
<rect x="642.1" y="1674.51" width="41.2" height="12.72" fill="#f8f0df"/>
<rect x="642.1" y="1686.98" width="41.2" height="12.72" fill="#6b3580"/>
<rect x="642.1" y="1699.45" width="41.2" height="12.72" fill="#f8f0df"/>
<rect x="642.1" y="1711.92" width="41.2" height="50.13" fill="#008585"/>
<rect x="642.1" y="1761.8" width="41.2" height="12.72" fill="#a9d8ee"/>
<rect x="642.1" y="1774.27" width="41.2" height="12.72" fill="#cb5c92"/>
<rect x="642.1" y="1786.74" width="41.2" height="25.19" fill="#3d7cc0"/>
<rect x="642.1" y="1811.68" width="41.2" height="12.72" fill="#005a30"/>
<rect x="642.1" y="1824.15" width="41.2" height="12.72" fill="#ee5036"/>
<rect x="642.1" y="1836.62" width="41.2" height="25.19" fill="#005a30"/>
<rect x="642.1" y="1861.56" width="41.2" height="25.19" fill="#3d7cc0"/>
<rect x="642.1" y="1886.5" width="41.2" height="12.72" fill="#005a30"/>
<rect x="642.1" y="1898.97" width="41.2" height="12.72" fill="#3d7cc0"/>
<rect x="642.1" y="1911.44" width="41.2" height="12.72" fill="#005a30"/>
<rect x="642.1" y="1923.91" width="41.2" height="12.72" fill="#3d7cc0"/>
<rect x="642.1" y="1936.38" width="41.2" height="37.66" fill="#005a30"/>
<rect x="642.1" y="1973.79" width="41.2" height="12.72" fill="#3d7cc0"/>
<rect x="642.1" y="1986.26" width="41.2" height="12.72" fill="#005a30"/>
<rect x="638.1" y="1386.2" width="49.5" height="613.5" fill="none" stroke="#383838" stroke-width="1.6"/>
<text x="662.9" y="2027.8" font-size="19.7" text-anchor="middle">Cancer</text>
<text x="662.9" y="2051.6" font-size="19.7" text-anchor="middle">type</text>
<rect x="750.5" y="1387.7" width="41.2" height="37.66" fill="#e66c67"/>
<rect x="750.5" y="1425.11" width="41.2" height="25.19" fill="#00adb5"/>
<rect x="750.5" y="1450.05" width="41.2" height="12.72" fill="#e66c67"/>
<rect x="750.5" y="1462.52" width="41.2" height="25.19" fill="#00adb5"/>
<rect x="750.5" y="1487.46" width="41.2" height="12.72" fill="#e66c67"/>
<rect x="750.5" y="1499.93" width="41.2" height="25.19" fill="#00adb5"/>
<rect x="750.5" y="1524.87" width="41.2" height="50.13" fill="#e66c67"/>
<rect x="750.5" y="1574.75" width="41.2" height="62.6" fill="#00adb5"/>
<rect x="750.5" y="1637.1" width="41.2" height="62.6" fill="#e66c67"/>
<rect x="750.5" y="1699.45" width="41.2" height="25.19" fill="#00adb5"/>
<rect x="750.5" y="1724.39" width="41.2" height="12.72" fill="#e66c67"/>
<rect x="750.5" y="1736.86" width="41.2" height="12.72" fill="#00adb5"/>
<rect x="750.5" y="1749.33" width="41.2" height="37.66" fill="#e66c67"/>
<rect x="750.5" y="1786.74" width="41.2" height="12.72" fill="#00adb5"/>
<rect x="750.5" y="1799.21" width="41.2" height="12.72" fill="#e66c67"/>
<rect x="750.5" y="1811.68" width="41.2" height="12.72" fill="#00adb5"/>
<rect x="750.5" y="1824.15" width="41.2" height="87.54" fill="#e66c67"/>
<rect x="750.5" y="1911.44" width="41.2" height="25.19" fill="#00adb5"/>
<rect x="750.5" y="1936.38" width="41.2" height="12.72" fill="#e66c67"/>
<rect x="750.5" y="1948.85" width="41.2" height="12.72" fill="#00adb5"/>
<rect x="750.5" y="1961.32" width="41.2" height="12.72" fill="#e66c67"/>
<rect x="750.5" y="1973.79" width="41.2" height="25.19" fill="#00adb5"/>
<rect x="746.6" y="1386.2" width="49.5" height="613.5" fill="none" stroke="#383838" stroke-width="1.6"/>
<text x="771" y="2027.8" font-size="19.7" text-anchor="middle">Sites binned</text>
<text x="771" y="2051.6" font-size="19.7" text-anchor="middle">by activity</text>
<path d="M224.01 1999.7v4.3M294.05 1999.7v4.3M364.07 1999.7v4.3M434.11 1999.7v4.3M556.8 1999.7v4.3M662.9 1999.7v4.3M771 1999.7v4.3" fill="none" stroke="#383838" stroke-width="1.4"/>
<defs><linearGradient id="gw" x1="0" y1="0" x2="1" y2="0"><stop offset="0" stop-color="#fff"/><stop offset="0.3" stop-color="#f4f4f4"/><stop offset="0.6" stop-color="#a9abac"/><stop offset="1" stop-color="#55585a"/></linearGradient></defs>
<path d="M194.2 2120L465.6 2085V2120.6H194.2Z" fill="url(#gw)"/>
<path d="M194.2 2120H465.6M194.2 2114.8V2125.4" fill="none" stroke="#8a8d8f" stroke-width="1.2"/>
<text x="863.4" y="1397.2" font-size="19.7">Cancer type</text>
<rect x="867" y="1410.5" width="20.2" height="20.2" fill="#cb5c92" stroke="#333" stroke-width="1.5"/>
<text x="895.2" y="1427.9" font-size="19.7">breast</text>
<rect x="867" y="1434.9" width="20.2" height="20.2" fill="#2d2d75" stroke="#333" stroke-width="1.5"/>
<text x="895.2" y="1452.3" font-size="19.7">colorectal</text>
<rect x="867" y="1459.3" width="20.2" height="20.2" fill="#3d7cc0" stroke="#333" stroke-width="1.5"/>
<text x="895.2" y="1476.7" font-size="19.7">esophagus</text>
<rect x="867" y="1483.7" width="20.2" height="20.2" fill="#ee5036" stroke="#333" stroke-width="1.5"/>
<text x="895.2" y="1501.1" font-size="19.7">kidney</text>
<rect x="867" y="1508.1" width="20.2" height="20.2" fill="#005a30" stroke="#333" stroke-width="1.5"/>
<text x="895.2" y="1525.5" font-size="19.7">liver</text>
<rect x="867" y="1532.5" width="20.2" height="20.2" fill="#f8f0df" stroke="#333" stroke-width="1.5"/>
<text x="895.2" y="1549.9" font-size="19.7">lung</text>
<rect x="867" y="1556.9" width="20.2" height="20.2" fill="#008585" stroke="#333" stroke-width="1.5"/>
<text x="895.2" y="1574.3" font-size="19.7">ovary</text>
<rect x="867" y="1581.3" width="20.2" height="20.2" fill="#6b3580" stroke="#333" stroke-width="1.5"/>
<text x="895.2" y="1598.7" font-size="19.7">pancreas</text>
<rect x="867" y="1605.7" width="20.2" height="20.2" fill="#76bfe6" stroke="#333" stroke-width="1.5"/>
<text x="895.2" y="1623.1" font-size="19.7">prostate</text>
<rect x="867" y="1630.1" width="20.2" height="20.2" fill="#eb9e5b" stroke="#333" stroke-width="1.5"/>
<text x="895.2" y="1647.5" font-size="19.7">skin</text>
<rect x="867" y="1654.5" width="20.2" height="20.2" fill="#a9d8ee" stroke="#333" stroke-width="1.5"/>
<text x="895.2" y="1671.9" font-size="19.7">stomach</text>
<text x="863.4" y="1761.5" font-size="19.7">Mutational enrichment</text>
<text x="863.4" y="1785.1" font-size="19.7">RM2, -log10 FDR</text>
<defs><linearGradient id="gf" x1="0" y1="0" x2="0" y2="1"><stop offset="0" stop-color="#f5a22c"/><stop offset="0.27" stop-color="#c49a49"/><stop offset="0.54" stop-color="#8f9366"/><stop offset="0.81" stop-color="#4e8b7a"/><stop offset="1" stop-color="#008885"/></linearGradient></defs>
<rect x="862.5" y="1811.5" width="25.4" height="122.4" fill="url(#gf)"/>
<text x="895.6" y="1818.9" font-size="19.7">16+</text>
<text x="895.6" y="1850.9" font-size="19.7">12</text>
<text x="895.6" y="1883.9" font-size="19.7">8</text>
<text x="895.6" y="1917.4" font-size="19.7">4</text>
<path d="M862.5 1812.3h5.1M882.8 1812.3h5.1M862.5 1844.3h5.1M882.8 1844.3h5.1M862.5 1877.3h5.1M882.8 1877.3h5.1M862.5 1910.8h5.1M882.8 1910.8h5.1" fill="none" stroke="#fff" stroke-width="0.9" stroke-opacity="0.8"/>
<text x="863.4" y="2003.8" font-size="19.7">Sites binned by</text>
<rect x="867" y="2015.2" width="20.2" height="20.2" fill="#e66c67" stroke="#333" stroke-width="1.5"/>
<text x="895.2" y="2032.7" font-size="19.7">Chromatin interactions</text>
<rect x="867" y="2039.8" width="20.2" height="20.2" fill="#00adb5" stroke="#333" stroke-width="1.5"/>
<text x="895.2" y="2057.3" font-size="19.7">Gene expression</text>
</g>
<g>
<text x="1163.1" y="1427.4" font-size="101">g</text>
<text x="1163.2" y="1791" font-size="101">h</text>
<path d="M1294.4 1540.1V1469.9h0.6V1461.9h1V1480.6h1V1472.6h1V1471h1V1471.2h1V1476h1V1466.7h1V1472.7h1V1471.1h1V1474.9h1V1481h1V1476.4h1V1466.4h1V1473.3h1V1481.7h1V1472.5h1V1477.9h1V1464h1V1468.5h1V1477.9h1V1474.2h1V1467.7h1V1471.5h1V1474.5h1V1473.4h1V1468.3h1V1468.4h1V1477.8h1V1473.7h1V1477.1h1V1473.6h1V1468.1h0.8V1540.1ZM1359.1 1540.1V1480.8h0.9V1466.5h1V1467.7h1V1457.1h1V1466.9h1V1467.6h1V1467.8h1V1469.2h1V1468.8h1V1471.8h1V1472.4h1V1483h1V1483.5h1V1480.2h1V1476.3h1V1471.5h1V1469.9h1V1463.1h1V1465.7h1V1469h1V1476.6h1V1477.5h1V1478.5h1V1469.6h1V1475.5h1V1460.7h1V1477.3h1V1476.2h1V1473.8h1V1475h1V1461.9h1V1479.8h1V1476.5h1V1540.1Z" fill="#e6e7e7"/><path d="M1294.4 1540.1V1481.5h0.6V1479.5h1V1482.3h1V1476.1h1V1488.1h1V1481.5h1V1477.3h1V1473.4h1V1486.3h1V1474h1V1476.9h1V1481.4h1V1478.4h1V1482.8h1V1477h1V1483.2h1V1480.1h1V1478.8h1V1472.1h1V1476.5h1V1478.2h1V1479.2h1V1473.6h1V1481.7h1V1479.8h1V1481.7h1V1479.6h1V1481.9h1V1479.5h1V1480.1h1V1479.9h1V1483.5h1V1483.8h0.8V1540.1ZM1359.1 1540.1V1486.7h0.9V1480.6h1V1477.4h1V1473.6h1h1V1481.7h1V1483.4h1V1479.4h1V1478.9h1V1477.3h1V1478.3h1V1485.1h1V1485.4h1V1482.3h1V1479.3h1V1478.9h1V1477.2h1V1479.3h1V1481.9h1V1476.2h1V1477h1V1480.6h1V1479.4h1V1473.2h1V1482h1V1477.4h1h1V1478.8h1V1474h1V1478.2h1V1479h1V1482h1V1483.2h1V1540.1Z" fill="#d4d6d6"/><path d="M1294.4 1540.1V1487h0.6V1486.1h1V1492.7h1V1488.3h1V1492.4h1V1485h1V1488h1V1485.5h1V1491.3h1V1485.3h1V1488.4h1h1V1487.7h1V1486.7h1V1482.9h1V1490.7h1V1487.4h1V1483.5h1V1483.8h1V1487.2h1V1488.7h1V1482.4h1h1V1487.9h1V1485.5h1V1486.7h1V1483.7h1V1485.7h1V1489.9h1V1487.4h1V1483.4h1V1486.4h1V1488.2h0.8V1540.1ZM1359.1 1540.1V1491.1h0.9V1486.8h1V1487.1h1V1482.4h1V1483.1h1V1486.8h1V1487.5h1V1484.8h1V1482.7h1V1485.9h1V1483h1V1488.2h1V1488.5h1V1489.7h1V1484.5h1V1486.8h1V1482.3h1V1484.6h1V1487.8h1V1485.1h1V1486h1V1488h1V1491.4h1V1484h1V1486h1V1485.3h1V1483h1V1483.2h1V1484.1h1V1484.8h1V1488.9h1V1485.6h1V1487.6h1V1540.1Z" fill="#bfc1c2"/><path d="M1326.8 1540.1V1467.1h0.2V1474.9h1V1470.1h1V1462.8h1V1475.9h1V1473.8h1V1458.3h1V1477.4h1V1478.7h1V1466.3h1V1473.3h1V1474.1h1V1475.9h1V1466.8h1V1459h1V1465.4h1V1461.6h1V1455.5h1V1451.7h1V1439.1h1V1460.1h1V1471.4h1V1452.1h1V1468.1h1V1478.9h1V1459h1V1466.6h1V1475.6h1V1473.3h1V1474.5h1V1470.5h1V1469.3h1V1468.3h1V1482.8h0.1V1540.1Z" fill="#c3868d"/><path d="M1326.8 1540.1V1476.5h0.2V1481h1V1475.4h1V1473.3h1V1476.8h1V1474.3h1V1473h1V1478.2h1V1480h1V1466.3h1V1474.8h1V1476.6h1V1477.9h1V1468h1V1463h1V1472.1h1V1473h1V1469.8h1V1471.5h1V1460.9h1V1467.5h1V1474.8h1V1470.3h1V1473.2h1V1479.7h1V1469.4h1V1469.3h1V1476.4h1h1V1476.1h1V1471.5h1V1476.2h1V1474.4h1V1485.3h0.1V1540.1Z" fill="#a54a54"/><path d="M1326.8 1540.1V1486.9h0.2V1485.1h1V1480.9h1V1482.7h1V1486.8h1V1480.4h1V1479.4h1V1482.8h1V1485h1V1476.7h1V1479.5h1V1482.5h1V1482.8h1V1473.4h1V1473.9h1V1479.1h1V1480.3h1V1480.2h1V1477.8h1V1478.7h1V1475.3h1V1479.5h1V1478.2h1V1481.9h1V1484.5h1V1479.3h1V1480.9h1V1483.1h1V1483.3h1V1483h1V1482.7h1V1479.7h1V1484.3h1V1488.8h0.1V1540.1Z" fill="#8d1926"/><path d="M1294.4 1540.1V1499.4h0.6V1499.8h1V1499.7h1V1499h1V1499.8h1V1499.5h1V1498h1V1497.8h1V1498.6h1V1498.4h1V1497.2h1V1498.6h1V1496.9h1V1497.2h1V1497.1h1V1497.9h1V1496.9h1V1496.5h1V1496.6h1V1497.3h1V1497h1V1496.1h1V1496.9h1V1497.2h1V1496h1V1497.3h1V1496.2h1h1V1495.9h1V1496.1h1V1496.3h1V1495.9h1V1496.1h0.8V1540.1ZM1359.1 1540.1V1497.6h0.9V1497.3h1V1497.6h1V1497.9h1V1497.8h1V1496.9h1V1496.8h1V1497.5h1h1V1497.6h1V1496.5h1V1496.4h1V1496.8h1V1497h1V1496.6h1V1497.7h1V1497h1V1497.8h1V1496.5h1V1497.1h1V1497.7h1V1497.1h1V1497.4h1V1498.1h1V1498.7h1V1498.3h1V1498.4h1V1497.7h1V1498.1h1V1498.4h1V1498.3h1V1498.7h1V1499.4h1V1540.1Z" fill="#b5b8b9"/><path d="M1326.8 1540.1V1489.4h0.2V1491.8h1V1491.4h1V1488h1V1492.3h1V1491.4h1V1489h1V1492.8h1V1488.7h1V1490.2h1V1489h1V1488h1V1489.4h1V1488.8h1V1489.4h1V1484.5h1V1483h1V1488.5h1V1490.3h1V1489.7h1V1486.4h1V1485.4h1V1490.4h1V1491h1V1490.6h1V1488.3h1V1493.7h1V1488.2h1V1495.5h1V1489.8h1V1491.1h1V1496.2h1V1496.6h1V1493.1h0.1V1540.1Z" fill="#870d1b"/><path d="M1294.4 1499.5L1297.1 1499.2L1299.8 1498.7L1302.5 1498.2L1305.2 1497.7L1308 1497.2L1310.7 1496.8L1313.4 1496.6L1316.1 1496.5L1318.8 1496.4L1321.5 1496.3L1324.2 1496.2L1326.9 1495.8L1329.6 1495.1L1332.4 1494.1L1335.1 1493.1L1337.8 1492.1L1340.5 1491.3L1343.2 1491.2L1345.9 1491.8L1348.6 1493.1L1351.3 1494.6L1354 1496L1356.8 1497L1359.5 1497.4L1362.2 1497.4L1364.9 1497.2L1367.6 1497.1L1370.3 1497L1373 1496.8L1375.7 1496.9L1378.4 1497L1381.2 1497.3L1383.9 1497.7L1386.6 1498L1389.3 1498.3L1392 1498.5" fill="none" stroke="#4469b5" stroke-width="4.5" stroke-opacity="0.3" stroke-linejoin="round"/><path d="M1294.4 1499.5L1297.1 1499.2L1299.8 1498.7L1302.5 1498.2L1305.2 1497.7L1308 1497.2L1310.7 1496.8L1313.4 1496.6L1316.1 1496.5L1318.8 1496.4L1321.5 1496.3L1324.2 1496.2L1326.9 1495.8L1329.6 1495.1L1332.4 1494.1L1335.1 1493.1L1337.8 1492.1L1340.5 1491.3L1343.2 1491.2L1345.9 1491.8L1348.6 1493.1L1351.3 1494.6L1354 1496L1356.8 1497L1359.5 1497.4L1362.2 1497.4L1364.9 1497.2L1367.6 1497.1L1370.3 1497L1373 1496.8L1375.7 1496.9L1378.4 1497L1381.2 1497.3L1383.9 1497.7L1386.6 1498L1389.3 1498.3L1392 1498.5" fill="none" stroke="#4469b5" stroke-width="2.3" stroke-linejoin="round"/>
<path d="M1289.9 1388.6V1547.2H1397.2M1287.1 1540.1h2.8M1287.1 1489.6h2.8M1287.1 1439.1h2.8M1294.4 1547.2v1.9M1326.8 1547.2v1.9M1343.1 1547.2v1.9M1359.1 1547.2v1.9M1392 1547.2v1.9" fill="none" stroke="#333" stroke-width="1.9"/>
<text x="1345.1" y="1407.4" font-size="16.45" text-anchor="middle" fill="#231f20">q = 0.19</text>
<path d="M1419.9 1540.1V1478.4h0.1V1478h1h1V1478.3h1V1485.6h1V1483.3h1V1473.6h1V1481.2h1V1477.2h1V1487.7h1V1476.1h1V1476.3h1V1471.5h1V1478.5h1V1475h1V1478.8h1V1486.3h1V1477.1h1V1481.2h1V1486.8h1V1481.4h1V1477.4h1V1471.4h1V1481.2h1V1481.4h1V1478h1V1470.1h1V1479.3h1V1473.5h1V1473h1V1479.5h1V1473.5h1V1475.9h1V1471.1h0.3V1540.1ZM1484.6 1540.1V1481.1h0.4V1477.5h1V1481.8h1V1472.5h1V1473.6h1V1478.3h1V1478.4h1V1469.4h1V1474h1V1485h1V1483.5h1V1471.1h1V1480.1h1V1474.8h1V1482.7h1V1467.7h1V1480.7h1V1475.1h1V1472h1V1484.4h1V1478.9h1V1483.3h1V1480.1h1V1473.6h1V1472.2h1V1474.5h1V1483.2h1V1475.3h1V1476.7h1V1474.5h1V1486.1h1V1477.2h1V1469.9h1V1486.6h0.5V1540.1Z" fill="#e6e7e7"/><path d="M1419.9 1540.1V1488.2h0.1V1478.2h1V1489.2h1V1483.4h1V1486.8h1V1483.9h1V1478.5h1V1485.7h1V1481.8h1V1488.8h1V1481.5h1V1488.3h1V1482.1h1V1480.6h1V1479h1h1V1488.1h1V1479h1V1481.6h1V1487.9h1V1483.8h1V1485.7h1V1479.8h1V1482.5h1V1482.8h1V1478.6h1V1482.6h1V1485.9h1V1487.1h1V1486.5h1V1483.7h1V1476.2h1V1484.2h1V1484.1h0.3V1540.1ZM1484.6 1540.1V1483.1h0.4V1482.4h1V1482h1V1479.7h1V1486.7h1V1485h1V1483.7h1V1482.8h1V1480.4h1V1485.5h1V1485.3h1V1479.6h1V1487.4h1V1482.7h1V1488.6h1V1479.5h1V1483h1V1479.8h1V1478.4h1V1488.6h1V1482.5h1V1484.8h1V1482.1h1V1482.4h1V1482.1h1V1487.9h1V1484.7h1V1484.4h1V1482.7h1V1481.2h1V1489.2h1V1482.6h1V1484.6h1V1491h0.5V1540.1Z" fill="#d4d6d6"/><path d="M1419.9 1540.1V1493.8h0.1V1487.9h1V1494.5h1V1493.1h1V1494.4h1V1490.1h1V1487.2h1V1490.5h1V1488.4h1V1492.2h1V1487h1V1492.5h1V1489h1V1489.3h1V1487.5h1V1489.2h1V1490.8h1V1488.8h1V1487.8h1V1490.7h1V1487.5h1V1492.4h1V1486.3h1V1487.2h1V1488.5h1V1487.4h1V1491.4h1V1490.3h1V1491.3h1V1489.2h1V1491.6h1V1485.7h1V1486.6h1V1490.7h0.3V1540.1ZM1484.6 1540.1V1485.8h0.4V1489.2h1V1489.4h1V1486.8h1V1490.6h1V1492.5h1V1491.1h1V1488.4h1V1487.4h1V1490h1V1487.8h1V1486.8h1V1490.1h1V1487.1h1V1492.4h1V1489.8h1V1492.2h1V1486.9h1V1487.6h1V1491.3h1V1491h1V1491.3h1V1491.9h1V1488.3h1V1488.1h1V1493.5h1V1493h1V1490.9h1V1490.3h1h1V1493.5h1V1490.8h1V1487.7h1V1494.1h0.5V1540.1Z" fill="#bfc1c2"/><path d="M1452.3 1540.1V1473.6h0.7V1471.9h1V1475.6h1V1468.8h1V1468.7h1V1475.3h1V1476.5h1V1473.2h1V1468h1V1474.3h1V1478.3h1V1467.8h1V1461h1V1469.1h1V1467h1V1453.2h1V1453.1h1V1448.4h1V1471.3h1V1452.8h1V1467h1V1468.8h1V1454.7h1V1473h1V1466.5h1V1467.3h1V1462.7h1V1472h1V1460.3h1V1467.2h1V1470.9h1V1474.1h1V1479h0.6V1540.1Z" fill="#c3868d"/><path d="M1452.3 1540.1V1473.7h0.7V1477.1h1V1479.5h1V1474.5h1V1473h1V1478.5h1V1483.2h1V1478.4h1V1469.8h1V1475.2h1V1479.3h1V1470.5h1V1466.2h1V1469.8h1V1473.3h1V1458.6h1V1461.8h1V1463.6h1V1471.3h1V1469.4h1V1467.4h1V1475h1V1469.7h1V1476.1h1V1475.1h1V1473.4h1V1477.1h1V1478.9h1V1474.9h1V1476.9h1V1478.8h1V1477h1V1481.8h0.6V1540.1Z" fill="#a54a54"/><path d="M1452.3 1540.1V1482.4h0.7V1486.1h1V1482.9h1V1484.6h1V1483h1V1484.3h1V1486.5h1V1482h1V1479.9h1V1484.1h1V1482.8h1V1475.5h1V1475.8h1V1480.6h1V1479.6h1V1471.1h1V1470h1V1473.8h1V1477.5h1V1476.5h1V1476.6h1V1478.2h1V1477.2h1V1481.3h1V1480.5h1V1478.1h1V1485.1h1V1485.7h1V1480.6h1V1486.3h1V1484.6h1V1485.2h1V1488.1h0.6V1540.1Z" fill="#8d1926"/><path d="M1419.9 1540.1V1500.8h0.1V1501.3h1V1500.9h1V1500.3h1V1501.3h1V1499.8h1V1500.8h1V1499.5h1V1500.6h1V1500.9h1V1500.8h1V1500.6h1V1500.2h1V1500h1V1499.3h1V1499.7h1V1499.1h1V1498.9h1h1h1V1499.1h1V1499.6h1V1498.2h1V1498.6h1V1498.5h1V1499.2h1V1497.9h1V1498.1h1h1V1498.2h1V1498.4h1V1497.8h1V1497.9h1V1496.6h0.3V1540.1ZM1484.6 1540.1V1496.2h0.4V1497.2h1h1V1497.3h1V1497.4h1h1V1497.6h1V1497.9h1V1498.9h1V1498.7h1V1498h1V1498.7h1V1498.4h1V1499.6h1V1498.8h1V1499.3h1V1499.1h1h1V1500.3h1V1499.4h1V1499.2h1V1499.5h1V1500.3h1V1499.4h1V1499.7h1V1500.5h1V1499.8h1V1499.6h1V1500.1h1V1501h1V1500.3h1V1499.8h1V1500.2h1V1501.1h0.5V1540.1Z" fill="#b5b8b9"/><path d="M1452.3 1540.1V1495.9h0.7V1495.1h1V1492.6h1V1491h1V1489.2h1V1491.7h1V1490.9h1V1487.6h1V1487.5h1V1489.8h1V1488.4h1V1487.2h1V1486.7h1V1485.1h1V1483h1V1481.2h1V1487.6h1V1481.9h1V1485.9h1V1482.6h1V1484.8h1V1487.4h1V1488.4h1V1486.1h1V1486.6h1V1491h1V1492h1V1490.7h1V1492.5h1V1488.5h1V1491.5h1V1493.7h1V1489.4h0.6V1540.1Z" fill="#870d1b"/><path d="M1419.9 1500.6L1422.6 1500.4L1425.3 1500.2L1428 1500L1430.7 1499.7L1433.5 1499.4L1436.2 1499.2L1438.9 1498.9L1441.6 1498.7L1444.3 1498.4L1447 1498.2L1449.7 1497.7L1452.4 1497L1455.1 1495.8L1457.9 1494.3L1460.6 1492.6L1463.3 1490.9L1466 1489.7L1468.7 1489.2L1471.4 1489.5L1474.1 1490.6L1476.8 1492.1L1479.5 1493.6L1482.3 1495L1485 1496.2L1487.7 1497L1490.4 1497.7L1493.1 1498.2L1495.8 1498.7L1498.5 1499.1L1501.2 1499.5L1503.9 1499.7L1506.7 1499.9L1509.4 1500L1512.1 1500L1514.8 1500.1L1517.5 1500.2" fill="none" stroke="#4469b5" stroke-width="4.5" stroke-opacity="0.3" stroke-linejoin="round"/><path d="M1419.9 1500.6L1422.6 1500.4L1425.3 1500.2L1428 1500L1430.7 1499.7L1433.5 1499.4L1436.2 1499.2L1438.9 1498.9L1441.6 1498.7L1444.3 1498.4L1447 1498.2L1449.7 1497.7L1452.4 1497L1455.1 1495.8L1457.9 1494.3L1460.6 1492.6L1463.3 1490.9L1466 1489.7L1468.7 1489.2L1471.4 1489.5L1474.1 1490.6L1476.8 1492.1L1479.5 1493.6L1482.3 1495L1485 1496.2L1487.7 1497L1490.4 1497.7L1493.1 1498.2L1495.8 1498.7L1498.5 1499.1L1501.2 1499.5L1503.9 1499.7L1506.7 1499.9L1509.4 1500L1512.1 1500L1514.8 1500.1L1517.5 1500.2" fill="none" stroke="#4469b5" stroke-width="2.3" stroke-linejoin="round"/>
<path d="M1415.4 1388.6V1547.2H1522.7M1412.6 1540.1h2.8M1412.6 1489.6h2.8M1412.6 1439.1h2.8M1419.9 1547.2v1.9M1452.3 1547.2v1.9M1468.6 1547.2v1.9M1484.6 1547.2v1.9M1517.5 1547.2v1.9" fill="none" stroke="#333" stroke-width="1.9"/>
<text x="1473.8" y="1407.4" font-size="16.45" text-anchor="middle" fill="#231f20">q = 0.0027</text>
<path d="M1549 1540.1V1488.7h1V1479.3h1V1475.5h1V1480.7h1V1479.3h1V1480.7h1V1477.4h1V1484.1h1V1487.1h1V1473.7h1V1482h1V1484.4h1V1487h1V1483.6h1V1479.9h1V1483.9h1V1481.1h1V1482.4h1V1476.9h1V1481.7h1V1481h1V1486h1h1V1482.7h1V1486.1h1V1482.4h1V1486.6h1V1484.4h1V1481.6h1V1479.7h1V1481.6h1V1480.4h1V1482h0.4V1540.1ZM1613.7 1540.1V1482.4h0.3V1478.1h1V1480.5h1V1482h1V1481.2h1V1473.7h1V1484.7h1V1482.5h1V1476.8h1V1482.8h1V1483.6h1V1485.6h1V1479.6h1V1482.4h1V1483.5h1V1481.2h1V1487.2h1V1481.9h1V1473.1h1V1477.2h1V1478.7h1V1478.5h1V1475.2h1V1475.1h1V1488.8h1V1490h1V1492.1h1V1481.6h1V1479.9h1V1481.8h1V1480.5h1V1473.8h1V1479.7h1V1483.5h0.6V1540.1Z" fill="#e6e7e7"/><path d="M1549 1540.1V1490.9h1V1483.3h1V1485.9h1V1486h1V1486.4h1V1481.1h1V1484.2h1V1488.4h1V1489.4h1V1481.8h1V1485.6h1V1485.7h1V1488h1V1485.5h1V1481.4h1V1488.7h1V1488.8h1V1488.1h1V1482.6h1V1486.1h1V1487.6h1V1487.1h1V1492h1V1485.3h1V1486.2h1V1485.6h1V1487.4h1V1489.3h1V1483.5h1V1481.5h1V1485h1V1484.5h1V1482.9h0.4V1540.1ZM1613.7 1540.1V1484.7h0.3V1481h1V1483.2h1V1482.1h1V1483.6h1V1484.9h1V1488.2h1V1484.2h1V1483.1h1V1484.7h1V1488.8h1V1485.8h1V1482.7h1V1486h1V1484.5h1V1486.2h1V1487.5h1V1485.8h1V1485.9h1V1481.3h1V1481.2h1V1487.1h1V1481.8h1V1484.2h1V1489.2h1V1491h1V1492.1h1V1485.4h1V1488.6h1V1489h1V1487.6h1V1484.6h1V1489.1h1V1487.4h0.6V1540.1Z" fill="#d4d6d6"/><path d="M1549 1540.1V1495.1h1V1491.5h1V1494.4h1V1494.6h1V1494.1h1V1490.8h1V1493.7h1V1493.1h1V1492.9h1V1489.8h1V1494.9h1V1491.8h1V1491.6h1V1490.9h1V1490.5h1V1491.4h1V1494.9h1V1494.3h1V1491.6h1V1494.4h1V1492.8h1V1491.8h1V1494.3h1V1488.5h1V1490.4h1V1492.3h1V1492h1V1492.8h1V1489h1V1489.1h1V1487.3h1V1486.8h1V1486.7h0.4V1540.1ZM1613.7 1540.1V1487.4h0.3V1485.9h1V1488.8h1V1489.9h1V1488.6h1V1488.4h1V1492h1V1491.7h1V1488.9h1V1489.5h1V1492.5h1V1489.4h1V1491.1h1V1491.6h1V1489.2h1V1491.5h1V1491.2h1V1489.5h1V1494.6h1V1488.3h1V1490.1h1V1492.2h1V1488.9h1V1489.5h1V1493.1h1V1495h1V1494.6h1V1492.7h1V1493.5h1V1493.9h1V1493.2h1V1492h1V1492.4h1V1494.2h0.6V1540.1Z" fill="#bfc1c2"/><path d="M1581.4 1540.1V1480.3h0.6V1467.8h1V1477.1h1V1477.6h1V1455.9h1V1468.5h1V1464.2h1V1463.7h1V1455.9h1V1460.7h1V1471.5h1V1456.9h1V1458.9h1V1464.8h1V1447.1h1V1432h1V1453.6h1V1448.7h1V1448.2h1V1452.2h1V1455.9h1V1459.3h1V1465h1V1458.2h1V1466.3h1V1463.1h1V1473.3h1V1465.4h1V1462.6h1V1466.8h1V1476.1h1V1475.7h1V1462.5h0.7V1540.1Z" fill="#c3868d"/><path d="M1581.4 1540.1V1480.8h0.6V1476.7h1V1481.2h1V1477.6h1V1468.8h1V1480.9h1V1478.5h1V1470.1h1V1470.6h1V1464.9h1V1472.3h1V1467.5h1V1466.9h1V1465h1V1456.4h1V1448.7h1V1456.8h1V1458.4h1V1459.2h1V1465.6h1V1463.3h1V1460.4h1V1465.7h1V1467.9h1V1468.9h1V1472.4h1V1477.6h1V1475.6h1V1471.3h1V1479.6h1V1478.1h1V1477.9h1V1471.8h0.7V1540.1Z" fill="#a54a54"/><path d="M1581.4 1540.1V1485.6h0.6V1483.1h1V1485.8h1V1483.6h1V1478.4h1V1484.1h1V1482.2h1V1475.6h1V1477.9h1V1473.3h1V1479.4h1V1475h1V1476h1V1470.5h1V1470.3h1V1462.3h1V1463.5h1V1464.9h1V1472.1h1V1474.3h1h1V1470.3h1V1472.8h1h1V1475.4h1V1476.2h1V1480.5h1V1483.7h1V1481h1V1485.2h1V1483.5h1V1483.9h1V1481.1h0.7V1540.1Z" fill="#8d1926"/><path d="M1549 1540.1V1504h1V1504.1h1V1502.6h1V1502.8h1V1502.3h1V1503.1h1V1502.3h1V1501.8h1V1501.5h1V1501.2h1h1V1500.9h1V1501.5h1V1499.9h1V1500.1h1V1500.5h1V1500.6h1h1V1499.5h1V1499.7h1V1500.5h1V1499.6h1V1500.8h1V1500.6h1V1498.9h1V1499.1h1h1V1498h1V1498.8h1V1496.9h1V1497.1h1V1496.2h1V1495.3h0.4V1540.1ZM1613.7 1540.1V1494.8h0.3V1494.7h1V1496.5h1V1496.4h1V1496h1V1497.5h1V1497.6h1V1497.3h1V1497h1V1497.7h1V1497.4h1V1498.4h1V1498.7h1V1499.7h1V1498.8h1V1499.1h1V1499.3h1V1499.7h1V1500.2h1V1499.9h1V1500h1V1501.2h1V1500.9h1V1500.1h1V1500.5h1V1500.2h1V1500.4h1V1501.6h1h1V1500.8h1V1501.1h1V1501.7h1V1501.8h1V1501.1h0.6V1540.1Z" fill="#b5b8b9"/><path d="M1581.4 1540.1V1490.7h0.6V1489.8h1V1493.2h1V1491.9h1V1490.1h1V1489.7h1V1485.9h1V1485h1V1483.9h1V1485.9h1V1482.3h1V1484.3h1V1480.5h1V1483.9h1V1476h1V1476.5h1V1478.3h1V1474.8h1V1481.5h1V1481.6h1V1480.7h1V1483.5h1V1484.5h1V1485.1h1V1483.7h1V1487.7h1V1484h1V1484.8h1V1486.4h1V1488.8h1V1490.3h1V1493.3h1V1493.8h0.7V1540.1Z" fill="#870d1b"/><path d="M1549 1503.4L1551.7 1503L1554.4 1502.4L1557.1 1501.7L1559.8 1501L1562.6 1500.4L1565.3 1500.1L1568 1499.9L1570.7 1499.9L1573.4 1499.5L1576.1 1498.5L1578.8 1497.1L1581.5 1495.3L1584.2 1493.2L1587 1490.9L1589.7 1488.6L1592.4 1486.2L1595.1 1484.3L1597.8 1483.6L1600.5 1484.3L1603.2 1486.2L1605.9 1488.6L1608.6 1490.9L1611.4 1493.2L1614.1 1494.9L1616.8 1496.2L1619.5 1497L1622.2 1497.7L1624.9 1498.4L1627.6 1499L1630.3 1499.6L1633 1500L1635.8 1500.4L1638.5 1500.7L1641.2 1501L1643.9 1501.4L1646.6 1501.6" fill="none" stroke="#4469b5" stroke-width="4.5" stroke-opacity="0.3" stroke-linejoin="round"/><path d="M1549 1503.4L1551.7 1503L1554.4 1502.4L1557.1 1501.7L1559.8 1501L1562.6 1500.4L1565.3 1500.1L1568 1499.9L1570.7 1499.9L1573.4 1499.5L1576.1 1498.5L1578.8 1497.1L1581.5 1495.3L1584.2 1493.2L1587 1490.9L1589.7 1488.6L1592.4 1486.2L1595.1 1484.3L1597.8 1483.6L1600.5 1484.3L1603.2 1486.2L1605.9 1488.6L1608.6 1490.9L1611.4 1493.2L1614.1 1494.9L1616.8 1496.2L1619.5 1497L1622.2 1497.7L1624.9 1498.4L1627.6 1499L1630.3 1499.6L1633 1500L1635.8 1500.4L1638.5 1500.7L1641.2 1501L1643.9 1501.4L1646.6 1501.6" fill="none" stroke="#4469b5" stroke-width="2.3" stroke-linejoin="round"/>
<path d="M1544.5 1388.6V1547.2H1651.8M1532.2 1540.1h12.3M1532.2 1489.6h12.3M1532.2 1439.1h12.3M1549 1547.2v1.9M1581.4 1547.2v1.9M1597.7 1547.2v1.9M1613.7 1547.2v1.9M1646.6 1547.2v1.9" fill="none" stroke="#333" stroke-width="1.9"/>
<text x="1603.1" y="1407.4" font-size="16.45" text-anchor="middle" fill="#231f20">q = 7.3x10<tspan font-size="9.87" dy="-6.2">-10</tspan></text>
<path d="M1681.4 1540.1V1470.9h0.6V1473.1h1V1485.3h1V1470.1h1V1478h1V1477.6h1V1482.8h1V1479.9h1V1476h1V1464.2h1V1476.8h1V1481.5h1V1463.9h1V1471.6h1V1476.8h1V1478h1V1487.4h1V1473.7h1V1474.3h1V1473.6h1V1473.2h1V1469.5h1V1478h1V1474.8h1V1479.9h1V1478.6h1V1468.7h1V1474.5h1V1478.8h1V1479.9h1V1481.6h1V1479h1V1470.2h0.8V1540.1ZM1746.1 1540.1V1467.2h0.9V1480.5h1V1482.2h1V1484.6h1V1475.6h1V1476h1V1472.3h1V1475.6h1V1481.2h1V1477.8h1V1478.2h1V1478.7h1V1472h1V1482.2h1V1477.1h1V1480.7h1V1477.2h1V1480.5h1V1473.2h1V1474.3h1V1473.8h1V1475.9h1V1478.6h1V1472.7h1V1477.2h1V1469h1V1485.3h1V1482.3h1V1475.4h1V1480.5h1V1472.7h1V1478.7h1V1474.9h1V1540.1Z" fill="#e6e7e7"/><path d="M1681.4 1540.1V1479.3h0.6V1478.9h1V1485.5h1V1485.4h1V1478.5h1V1481.5h1V1483.5h1V1481.9h1h1V1478.7h1V1483.5h1V1486.2h1V1479.7h1V1487.4h1V1481.9h1V1479.4h1V1489.1h1V1481.1h1V1487.1h1V1484.1h1V1488h1V1478.9h1V1479.9h1V1480.1h1V1483h1V1485.5h1V1482.1h1V1477.8h1V1480.2h1V1480.8h1V1482.1h1V1479.6h1V1479.7h0.8V1540.1ZM1746.1 1540.1V1480.5h0.9V1482.7h1V1485.3h1V1488.2h1V1478.5h1V1479.1h1V1476.5h1V1484.6h1V1482.8h1V1479.3h1V1482.8h1V1487.3h1V1482.5h1V1485.7h1V1481.6h1V1483.3h1V1483.5h1V1482.7h1V1477.7h1V1482.9h1V1477h1V1481.6h1V1483.2h1V1478.5h1V1480.8h1V1478h1V1490.8h1V1485.9h1V1479.3h1V1482.9h1V1475.1h1V1482.6h1V1486.3h1V1540.1Z" fill="#d4d6d6"/><path d="M1681.4 1540.1V1488.7h0.6V1487.3h1V1491h1V1489.3h1V1487.6h1V1492.1h1V1492.5h1V1490.3h1V1490.4h1V1487.5h1V1490.9h1V1489.8h1V1490.4h1V1492.6h1V1492.9h1V1488h1V1493.6h1V1491.4h1V1491.7h1V1490.8h1V1491h1V1487.8h1V1486.3h1V1490h1V1490.9h1V1489.5h1V1490.2h1V1487.3h1V1486.7h1V1486.1h1V1486.7h1V1483h1h0.8V1540.1ZM1746.1 1540.1V1484.3h0.9V1491.2h1V1488.2h1V1491.5h1V1487.9h1V1486.4h1V1486.3h1V1488.8h1V1489.1h1V1486.6h1V1491.5h1V1493.3h1V1487.8h1V1489.4h1V1490.1h1V1487.6h1V1490.8h1V1489.2h1V1486.4h1V1493.3h1V1488.2h1h1V1490.7h1V1487.4h1V1488.5h1V1488.1h1V1493.6h1h1V1486.2h1V1488.1h1V1485.7h1V1486h1V1489.9h1V1540.1Z" fill="#bfc1c2"/><path d="M1713.8 1540.1V1476.5h0.2V1468.9h1V1476.9h1V1475.4h1V1470.5h1V1467.5h1V1463.5h1V1475.8h1V1466h1V1466.8h1V1462.5h1V1458.8h1V1467.2h1V1449.5h1V1457.4h1V1458.6h1V1443.1h1V1453.9h1V1408.8h1V1456.6h1V1459.6h1V1456.5h1V1462.1h1V1456.4h1V1471.2h1V1463.8h1V1470.8h1V1472.4h1V1475.5h1V1469.7h1V1471.6h1V1467.2h1V1469.5h1V1475.1h0.1V1540.1Z" fill="#c3868d"/><path d="M1713.8 1540.1V1479.9h0.2V1471.3h1V1478.1h1V1479.3h1V1473.4h1V1475.1h1V1468.7h1V1476.4h1V1466.5h1V1468.5h1V1468.6h1V1460.3h1V1469.2h1V1466.6h1V1464.6h1V1459.1h1V1450.4h1V1458.5h1V1440.9h1V1461.4h1V1468.6h1V1469h1V1468.5h1V1471.1h1V1473.4h1V1474.6h1V1477.8h1V1476.5h1V1477.4h1V1471.4h1V1481.4h1V1478.1h1V1470.7h1V1477.3h0.1V1540.1Z" fill="#a54a54"/><path d="M1713.8 1540.1V1484.2h0.2V1480h1V1481.4h1V1482h1V1478.8h1V1480.3h1V1476.8h1V1480.8h1V1475.1h1V1473.3h1V1476.7h1V1470h1V1473.2h1V1472.3h1V1472.5h1V1469.1h1V1460.9h1V1466h1V1467.2h1V1472h1V1474.4h1V1475.8h1V1475.2h1V1473.9h1V1476.4h1V1480.7h1V1480.8h1V1480.3h1V1481.9h1V1479.6h1V1485.4h1V1483.1h1V1480.9h1h0.1V1540.1Z" fill="#8d1926"/><path d="M1681.4 1540.1V1499.2h0.6V1499.7h1V1499.2h1V1499.5h1V1500.2h1h1V1500h1V1499.7h1V1499.8h1V1499.5h1V1499.6h1V1500.7h1V1500.4h1V1499.8h1V1500.4h1V1500.3h1V1499.3h1V1500h1V1498.8h1V1498.4h1V1498.8h1V1497.9h1V1497.6h1V1496.9h1V1497.1h1V1496.8h1V1496.3h1V1495.6h1V1495.5h1V1495h1V1494.1h1V1494.5h1V1493.7h0.8V1540.1ZM1746.1 1540.1V1495.5h0.9V1497.1h1V1497.4h1V1497.1h1V1497.9h1V1497.6h1V1498.4h1V1497.8h1V1498.8h1V1498h1V1498.4h1V1500h1V1499.6h1V1498.9h1V1500.1h1h1V1500.7h1V1500h1h1V1499.6h1V1500.1h1V1500.3h1V1499.6h1V1499h1V1499.1h1V1500.4h1V1500.2h1V1499h1V1499.2h1V1498.6h1V1498.7h1V1499.5h1V1498.5h1V1540.1Z" fill="#b5b8b9"/><path d="M1713.8 1540.1V1489.6h0.2V1486.9h1V1491.1h1V1487.5h1V1488.6h1V1487.5h1V1485.9h1V1485.3h1V1482.6h1V1483.7h1V1482.2h1V1479.6h1V1478.8h1V1480.2h1V1478.4h1V1479.9h1V1479.3h1V1480.4h1V1481.1h1V1479.2h1V1480.2h1V1479.5h1V1481.5h1V1484.1h1V1484.6h1V1487.2h1V1485.7h1V1488.9h1V1487.9h1V1489h1V1492.7h1V1491.1h1V1488.9h1V1491.2h0.1V1540.1Z" fill="#870d1b"/><path d="M1681.4 1498.9L1684.1 1499.1L1686.8 1499.5L1689.5 1499.9L1692.2 1500.2L1695 1500.1L1697.7 1499.6L1700.4 1498.7L1703.1 1497.7L1705.8 1496.7L1708.5 1495.7L1711.2 1494.5L1713.9 1493L1716.6 1491.2L1719.4 1488.9L1722.1 1486.6L1724.8 1484.2L1727.5 1482.3L1730.2 1481.8L1732.9 1482.8L1735.6 1485.2L1738.3 1488.1L1741 1490.9L1743.8 1493.6L1746.5 1495.7L1749.2 1497.1L1751.9 1497.8L1754.6 1498.4L1757.3 1499L1760 1499.5L1762.7 1499.8L1765.4 1499.9L1768.2 1499.7L1770.9 1499.4L1773.6 1499.2L1776.3 1499L1779 1498.8" fill="none" stroke="#4469b5" stroke-width="4.5" stroke-opacity="0.3" stroke-linejoin="round"/><path d="M1681.4 1498.9L1684.1 1499.1L1686.8 1499.5L1689.5 1499.9L1692.2 1500.2L1695 1500.1L1697.7 1499.6L1700.4 1498.7L1703.1 1497.7L1705.8 1496.7L1708.5 1495.7L1711.2 1494.5L1713.9 1493L1716.6 1491.2L1719.4 1488.9L1722.1 1486.6L1724.8 1484.2L1727.5 1482.3L1730.2 1481.8L1732.9 1482.8L1735.6 1485.2L1738.3 1488.1L1741 1490.9L1743.8 1493.6L1746.5 1495.7L1749.2 1497.1L1751.9 1497.8L1754.6 1498.4L1757.3 1499L1760 1499.5L1762.7 1499.8L1765.4 1499.9L1768.2 1499.7L1770.9 1499.4L1773.6 1499.2L1776.3 1499L1779 1498.8" fill="none" stroke="#4469b5" stroke-width="2.3" stroke-linejoin="round"/>
<path d="M1676.9 1388.6V1547.2H1784.2M1674.1 1540.1h2.8M1674.1 1489.6h2.8M1674.1 1439.1h2.8M1681.4 1547.2v1.9M1713.8 1547.2v1.9M1730.1 1547.2v1.9M1746.1 1547.2v1.9M1779 1547.2v1.9" fill="none" stroke="#333" stroke-width="1.9"/>
<text x="1735.8" y="1407.4" font-size="16.45" text-anchor="middle" fill="#231f20">q = 3.8x10<tspan font-size="9.87" dy="-6.2">-12</tspan></text>
<text x="1282" y="1547" font-size="19.7" text-anchor="end">0</text>
<text x="1282" y="1496.5" font-size="19.7" text-anchor="end">5</text>
<text x="1282" y="1446" font-size="19.7" text-anchor="end">10</text>
<path d="M1296.1 1711.7V1633.4h0.9V1628.7h1V1631.1h1V1640.7h1V1621.2h1V1632.8h1V1632.7h1V1623.2h1V1642.6h1V1632.6h1V1642.1h1V1646.3h1V1628.9h1V1641.8h1V1635.5h1V1646.3h1V1633.9h1V1636.1h1V1623.1h1V1638.1h1V1633.9h1V1641.2h1V1646.9h1V1643.4h1V1627.7h1V1635.4h1V1634.3h1V1638.9h1V1638.8h1V1638.5h1V1641.1h1V1640.2h1V1638.8h0.5V1711.7ZM1360.8 1711.7V1642.8h0.2V1631h1V1639.5h1V1636.5h1V1640.7h1V1639.4h1V1643.1h1V1628.2h1V1646h1V1639.7h1V1623h1V1634.4h1V1638.8h1V1630.6h1V1633.6h1V1639.1h1V1637h1V1630.1h1V1630.3h1V1638.3h1V1631h1V1648.3h1V1640.9h1V1632.3h1V1640.2h1V1637.7h1V1648.9h1V1631.1h1V1641.4h1V1645h1V1634.5h1V1629h1V1634.6h1V1624.6h0.7V1711.7Z" fill="#e6e7e7"/><path d="M1296.1 1711.7V1641.3h0.9V1645h1V1640.1h1V1640.8h1V1637.7h1V1635.9h1V1646.6h1V1639.2h1V1650.2h1V1643.9h1V1645.5h1V1646.9h1V1634.4h1V1643.9h1V1648h1V1647.2h1V1642.8h1V1648h1V1640.4h1V1642.1h1V1647.8h1V1644.7h1V1648.2h1V1647h1V1644.9h1V1642h1V1643.7h1V1640.8h1V1644.4h1V1643.9h1V1642.2h1V1642.1h1V1641.4h0.5V1711.7ZM1360.8 1711.7V1644.6h0.2V1649.6h1V1644.3h1V1642.6h1V1640.9h1V1645.5h1V1645.7h1V1644.6h1V1646.7h1V1644.4h1V1636.7h1V1639.1h1V1643h1V1647h1V1646.5h1V1643.6h1V1637.9h1V1639.1h1V1647h1V1649.5h1V1639h1V1651.5h1V1646.6h1V1644.3h1V1642.9h1V1642.3h1V1650.3h1V1635.8h1V1642.9h1V1648.9h1V1635.7h1V1645h1V1644.1h1V1642.7h0.7V1711.7Z" fill="#d4d6d6"/><path d="M1296.1 1711.7V1646.7h0.9V1648.5h1V1649.6h1V1646.1h1V1647.7h1V1645.7h1V1651.9h1V1647.5h1V1654.8h1V1654.9h1V1649.2h1V1654.1h1V1646.2h1V1648.1h1V1653.8h1V1654.9h1V1654.6h1V1651.2h1V1651.6h1V1652.3h1V1654.6h1V1649.6h1V1651.4h1V1652.8h1V1654.6h1V1648.3h1V1647.1h1V1653h1V1648.5h1V1652.4h1V1649.6h1V1647.9h1V1646.6h0.5V1711.7ZM1360.8 1711.7V1650.6h0.2V1652.9h1V1653.1h1V1646.3h1V1647.8h1V1648.5h1V1651.1h1V1653.5h1V1654.2h1V1653.4h1V1645.7h1V1649.9h1V1651.6h1V1653.4h1V1654h1V1648.3h1V1648.2h1V1651h1V1652.3h1V1653.1h1V1646.4h1V1655h1V1651.5h1V1655.6h1V1646.4h1V1648.2h1V1655.3h1V1648.5h1V1648.4h1V1655.5h1V1647.7h1V1654.7h1V1656.7h1V1648.4h0.7V1711.7Z" fill="#bfc1c2"/><path d="M1328.5 1711.7V1629.8h0.5V1615.9h1V1627.4h1V1635h1V1580.1h1V1627.2h1V1627.8h1V1630.1h1V1624h1V1634.9h1V1635.5h1V1630.1h1V1621.7h1V1625.6h1V1631.2h1V1629.9h1V1618.2h1V1624.4h1V1630.1h1V1626.9h1V1633.5h1V1612.2h1V1632.5h1V1630h1V1624.9h1V1633.3h1V1636.5h1V1631.2h1V1637.4h1V1632.6h1V1639.7h1V1625.8h1V1635.8h0.8V1711.7Z" fill="#c3d2ea"/><path d="M1328.5 1711.7V1634.2h0.5V1634.9h1V1630.9h1V1636.2h1V1617.9h1V1634.7h1V1634.3h1V1635.9h1V1639.4h1V1636.2h1V1636.5h1V1640.1h1V1632.6h1V1628h1V1632.3h1V1638h1V1633.5h1V1628.2h1V1635.6h1V1637.4h1V1634.1h1V1630.6h1V1634.1h1V1632.3h1V1642.4h1V1637.5h1V1642.6h1V1637.2h1V1639.3h1V1637.6h1V1641.4h1V1636.7h1V1638.6h0.8V1711.7Z" fill="#a1b8dd"/><path d="M1328.5 1711.7V1642.5h0.5V1648h1V1642.4h1V1644.4h1V1648.8h1V1645.4h1V1646.4h1V1645.2h1V1645.5h1V1649.3h1V1642h1V1648.1h1V1641.7h1V1640h1V1642.8h1V1646.4h1V1646.1h1V1639.2h1V1641.7h1V1648.2h1V1639.3h1V1640.5h1V1642.8h1V1643.1h1V1650.6h1V1643.2h1V1649.6h1V1649.2h1V1648.2h1V1642.4h1V1646.2h1V1643.5h1V1645.7h0.8V1711.7Z" fill="#7597ce"/><path d="M1296.1 1711.7V1661.2h0.9V1659.9h1V1660.8h1V1659.7h1V1661.4h1V1660.3h1V1660.4h1V1660.1h1V1661.5h1V1660.4h1V1661.2h1V1661.6h1V1662h1V1661.8h1V1661.3h1V1661.6h1V1662.8h1V1663.1h1h1V1662.2h1h1V1662.3h1V1663.3h1V1662.2h1V1661.1h1V1661.4h1V1660.7h1V1662.1h1V1660.4h1V1661h1V1660.3h1V1660.6h1V1661.3h0.5V1711.7ZM1360.8 1711.7V1661.8h0.2V1660.8h1V1660.3h1V1660.9h1V1660.2h1V1661.4h1V1661.7h1V1661.2h1V1659.7h1V1660h1V1660.9h1V1660.7h1V1660.5h1V1660h1V1659.9h1V1660.9h1V1661.4h1V1661h1V1660.6h1V1660.7h1V1661.8h1V1662.4h1V1662h1V1661.4h1V1663.1h1V1663.2h1V1662.8h1V1662.2h1V1662.8h1V1664.2h1V1662.7h1V1664.3h1V1663h1V1663.3h0.7V1711.7Z" fill="#b5b8b9"/><path d="M1328.5 1711.7V1653.1h0.5V1657.2h1V1653.8h1V1656.9h1V1652.3h1V1651.6h1V1655.6h1V1657.1h1V1654.7h1V1653.2h1V1652h1V1649.5h1V1654.4h1V1651.1h1V1652.5h1V1648.1h1V1648.9h1V1651.3h1V1656.3h1V1654.1h1V1649.6h1V1655.4h1V1650.6h1V1653.5h1V1651.9h1V1655.8h1V1654.9h1V1659.3h1V1657.8h1V1657.5h1V1654.5h1V1660.1h1V1658h0.8V1711.7Z" fill="#6289c7"/><path d="M1296.1 1660.1L1298.8 1660.4L1301.5 1660.7L1304.2 1661L1306.9 1661.3L1309.7 1661.6L1312.4 1661.9L1315.1 1662.2L1317.8 1662.2L1320.5 1661.9L1323.2 1661.3L1325.9 1660.7L1328.6 1660L1331.3 1659.4L1334.1 1658.8L1336.8 1658.2L1339.5 1657.6L1342.2 1657L1344.9 1657L1347.6 1657.6L1350.3 1658.8L1353 1660L1355.7 1660.8L1358.5 1661L1361.2 1660.9L1363.9 1660.7L1366.6 1660.5L1369.3 1660.3L1372 1660.3L1374.7 1660.5L1377.4 1661L1380.1 1661.4L1382.9 1661.9L1385.6 1662.3L1388.3 1662.8L1391 1663.3L1393.7 1663.6" fill="none" stroke="#4469b5" stroke-width="4.5" stroke-opacity="0.3" stroke-linejoin="round"/><path d="M1296.1 1660.1L1298.8 1660.4L1301.5 1660.7L1304.2 1661L1306.9 1661.3L1309.7 1661.6L1312.4 1661.9L1315.1 1662.2L1317.8 1662.2L1320.5 1661.9L1323.2 1661.3L1325.9 1660.7L1328.6 1660L1331.3 1659.4L1334.1 1658.8L1336.8 1658.2L1339.5 1657.6L1342.2 1657L1344.9 1657L1347.6 1657.6L1350.3 1658.8L1353 1660L1355.7 1660.8L1358.5 1661L1361.2 1660.9L1363.9 1660.7L1366.6 1660.5L1369.3 1660.3L1372 1660.3L1374.7 1660.5L1377.4 1661L1380.1 1661.4L1382.9 1661.9L1385.6 1662.3L1388.3 1662.8L1391 1663.3L1393.7 1663.6" fill="none" stroke="#4469b5" stroke-width="2.3" stroke-linejoin="round"/>
<path d="M1291.6 1559.8V1719H1398.9M1288.8 1711.7h2.8M1288.8 1674.8h2.8M1288.8 1637.9h2.8M1288.8 1601h2.8M1288.8 1564.1h2.8M1296.1 1719v1.9M1328.5 1719v1.9M1344.8 1719v1.9M1360.8 1719v1.9M1393.7 1719v1.9" fill="none" stroke="#333" stroke-width="1.9"/>
<text x="1345" y="1580.2" font-size="16.45" text-anchor="middle" fill="#231f20">q = 0.64</text>
<path d="M1421.5 1711.7V1633.7h0.5V1620h1V1621h1V1615.5h1V1621.1h1V1622.8h1V1633.2h1V1615.8h1V1631h1V1628.2h1V1628.1h1V1646.8h1V1635.9h1V1635.3h1V1632.8h1V1622.3h1V1624.1h1V1630.3h1V1631.8h1V1622.5h1V1613.8h1V1631.2h1V1620.7h1V1630.1h1V1614.3h1V1621h1V1635.1h1V1636.1h1V1627.8h1V1616.7h1V1633.8h1V1610.2h1V1630.3h0.9V1711.7ZM1486.2 1711.7V1631.8h0.8V1626.9h1V1625.5h1V1627h1V1626h1V1635.9h1V1631.2h1V1630.8h1V1621.1h1V1644.7h1V1627.9h1V1642.8h1V1612.4h1V1641h1V1642.6h1V1634.6h1V1637.2h1V1632.8h1V1639.4h1V1623.3h1V1629.9h1V1611.8h1V1639.2h1V1626.7h1V1635.1h1V1611.8h1V1630.5h1V1625.4h1V1624.8h1V1620.7h1V1639.9h1V1636h1V1625.3h1V1640.3h0.1V1711.7Z" fill="#e6e7e7"/><path d="M1421.5 1711.7V1638.4h0.5V1634.1h1V1635.2h1V1632.7h1V1640.5h1V1636.7h1V1633.5h1V1635.9h1V1637.1h1V1636h1V1633.1h1V1647.1h1V1637.3h1V1637h1V1635.3h1V1633.3h1V1642.4h1V1631.3h1V1633.8h1V1633.5h1V1635.6h1V1632.8h1V1642.4h1V1632.4h1V1635.9h1V1627.4h1V1637.4h1V1641.8h1V1632h1V1636.7h1V1642h1V1628.4h1V1641h0.9V1711.7ZM1486.2 1711.7V1643.7h0.8V1630.5h1V1626.7h1V1634.3h1V1644.9h1V1637h1V1635.2h1V1643.5h1V1636.4h1V1647.2h1V1640.1h1V1645.5h1V1626.1h1V1643.4h1V1647.2h1V1636.6h1V1641.4h1V1642.5h1V1646.4h1V1626.6h1V1638.1h1V1634.3h1V1645.1h1V1645.2h1V1638.9h1V1634.1h1V1643.5h1V1643.1h1V1628.7h1V1630.7h1V1641.8h1V1641.3h1V1637.4h1V1640.6h0.1V1711.7Z" fill="#d4d6d6"/><path d="M1421.5 1711.7V1647.1h0.5V1646.7h1V1651.3h1V1645.5h1V1645.9h1V1641.9h1V1646.6h1V1647.6h1V1644.2h1V1645.6h1V1644.8h1V1651.3h1V1652.3h1V1648.3h1V1645.8h1V1646.2h1V1646.9h1V1641.4h1V1648.9h1V1649.2h1V1642.4h1V1641.1h1V1648.1h1V1648h1V1644.2h1V1641.7h1V1642.9h1V1649.1h1V1641.9h1V1644.5h1V1649.3h1V1642.5h1V1648.3h0.9V1711.7ZM1486.2 1711.7V1651.5h0.8V1645.2h1V1641.6h1V1644h1V1651.3h1V1652.5h1V1646.4h1V1651.8h1V1652.3h1V1651.8h1V1644.2h1V1653.1h1V1641.1h1V1651.1h1V1653.1h1V1651.3h1V1646.7h1V1646.8h1V1651.9h1V1641.3h1V1644.2h1V1644.6h1V1650.6h1V1651.9h1V1651.6h1V1644.4h1V1649.3h1V1648.7h1V1643.6h1V1645.8h1V1648.2h1V1648.1h1V1649.9h1V1649.3h0.1V1711.7Z" fill="#bfc1c2"/><path d="M1453.9 1711.7V1631.2h0.1V1625.3h1V1616.9h1V1624.8h1V1629.7h1V1632h1V1632.9h1V1628.2h1V1628h1V1630.9h1V1636.4h1V1625.1h1V1632.9h1V1622h1V1627.5h1V1619.2h1V1636.6h1V1618.2h1V1637.1h1V1632.8h1V1626.7h1V1611h1V1629.7h1V1632.2h1V1630.3h1V1624.2h1V1616.6h1V1631.8h1V1623.1h1V1643.8h1V1629.3h1V1630.7h1V1628.6h1V1620.7h0.2V1711.7Z" fill="#c3d2ea"/><path d="M1453.9 1711.7V1632h0.1V1631.9h1V1637.1h1V1635.7h1V1635.8h1V1634.6h1V1634.9h1V1634.8h1V1629.8h1V1632.8h1V1642.7h1V1638h1V1634.5h1V1638.1h1V1640.7h1V1631.1h1V1638.7h1V1632.3h1V1637.9h1V1634.5h1V1634.1h1V1632.2h1V1634h1V1632.7h1V1638.9h1V1634h1V1625.4h1V1633.2h1V1632.1h1V1644h1V1642.3h1V1638.6h1V1629.3h1V1641.4h0.2V1711.7Z" fill="#a1b8dd"/><path d="M1453.9 1711.7V1644.3h0.1V1641.6h1V1646h1V1641.6h1V1641.3h1V1640.1h1V1647.9h1V1643.1h1V1643.4h1V1645.7h1V1648.2h1V1643.9h1V1638.7h1V1647.4h1V1649h1V1646h1V1643.5h1V1643.8h1V1646.6h1V1646.3h1V1645h1V1644.3h1V1645.5h1V1642.9h1V1642.7h1V1642.6h1V1639.5h1V1641.7h1V1639.5h1V1650.6h1V1646.3h1V1647.3h1V1640.8h1V1649.3h0.2V1711.7Z" fill="#7597ce"/><path d="M1421.5 1711.7V1661h0.5V1662h1V1660.5h1V1662.1h1V1662.3h1V1661.3h1V1660.5h1V1662h1V1661.1h1V1661.3h1V1660.3h1V1660.5h1V1661.2h1V1660.1h1V1660.6h1V1661h1V1660.3h1V1660.6h1V1660.4h1V1661h1V1660.7h1V1661.1h1V1660.7h1V1661.2h1V1660h1V1659.8h1V1659.3h1V1659.7h1V1660.5h1V1660.8h1V1659.8h1V1660.6h1V1660.3h0.9V1711.7ZM1486.2 1711.7V1660.8h0.8V1660.4h1V1661.5h1V1661.7h1V1661.4h1V1662.1h1V1661.8h1V1662.2h1h1V1662.1h1V1661.8h1V1661.1h1V1662h1V1661.4h1V1661.8h1V1662h1V1661.1h1V1662.6h1V1661.5h1V1661.7h1V1662.3h1V1661.5h1V1661.4h1V1662.2h1V1661.2h1V1661.7h1V1661.5h1V1662.1h1V1661.6h1V1660.5h1V1660.7h1V1659.8h1V1660.9h1V1661.2h0.1V1711.7Z" fill="#b5b8b9"/><path d="M1453.9 1711.7V1653.6h0.1V1655.6h1V1653h1V1657.9h1V1652h1V1652.4h1V1657.4h1V1658.2h1V1657.6h1V1656.9h1V1651.4h1V1652.9h1V1657.8h1V1656.2h1V1655.4h1V1651.3h1V1654.1h1V1649.4h1V1655.4h1V1651.3h1V1657.5h1V1657.6h1V1653.1h1V1654.7h1V1650.6h1V1651.2h1V1651.7h1V1654.5h1V1652.2h1V1652.6h1V1653.5h1V1655h1V1658.4h1V1654.7h0.2V1711.7Z" fill="#6289c7"/><path d="M1421.5 1661.2L1424.2 1661.1L1426.9 1661L1429.6 1660.9L1432.3 1660.7L1435.1 1660.6L1437.8 1660.5L1440.5 1660.3L1443.2 1660.2L1445.9 1660L1448.6 1659.9L1451.3 1659.8L1454 1659.6L1456.7 1659.5L1459.5 1659.4L1462.2 1659.2L1464.9 1659.1L1467.6 1659L1470.3 1659L1473 1659.1L1475.7 1659.4L1478.4 1659.7L1481.1 1660L1483.9 1660.3L1486.6 1660.6L1489.3 1660.8L1492 1661L1494.7 1661.1L1497.4 1661.3L1500.1 1661.4L1502.8 1661.6L1505.5 1661.7L1508.3 1661.7L1511 1661.4L1513.7 1661L1516.4 1660.5L1519.1 1660.2" fill="none" stroke="#4469b5" stroke-width="4.5" stroke-opacity="0.3" stroke-linejoin="round"/><path d="M1421.5 1661.2L1424.2 1661.1L1426.9 1661L1429.6 1660.9L1432.3 1660.7L1435.1 1660.6L1437.8 1660.5L1440.5 1660.3L1443.2 1660.2L1445.9 1660L1448.6 1659.9L1451.3 1659.8L1454 1659.6L1456.7 1659.5L1459.5 1659.4L1462.2 1659.2L1464.9 1659.1L1467.6 1659L1470.3 1659L1473 1659.1L1475.7 1659.4L1478.4 1659.7L1481.1 1660L1483.9 1660.3L1486.6 1660.6L1489.3 1660.8L1492 1661L1494.7 1661.1L1497.4 1661.3L1500.1 1661.4L1502.8 1661.6L1505.5 1661.7L1508.3 1661.7L1511 1661.4L1513.7 1661L1516.4 1660.5L1519.1 1660.2" fill="none" stroke="#4469b5" stroke-width="2.3" stroke-linejoin="round"/>
<path d="M1417 1559.8V1719H1524.3M1414.2 1711.7h2.8M1414.2 1674.8h2.8M1414.2 1637.9h2.8M1414.2 1601h2.8M1414.2 1564.1h2.8M1421.5 1719v1.9M1453.9 1719v1.9M1470.2 1719v1.9M1486.2 1719v1.9M1519.1 1719v1.9" fill="none" stroke="#333" stroke-width="1.9"/>
<text x="1473.8" y="1580.2" font-size="16.45" text-anchor="middle" fill="#231f20">q = 0.64</text>
<path d="M1549.9 1711.7V1633.6h0.1V1621.2h1V1631.2h1V1632.6h1V1641.7h1V1638.3h1V1638.6h1V1646.9h1V1640.3h1V1651.7h1V1644.5h1V1643.8h1V1647.6h1V1652.2h1V1640.6h1V1638.6h1V1639.6h1V1638.4h1V1653.4h1V1639.7h1V1629.8h1V1638.4h1V1651.9h1V1639.6h1V1645h1V1640.6h1V1621.6h1V1646.1h1V1631.5h1V1643.1h1V1623.5h1V1628h1V1643.8h1V1634.8h0.3V1711.7ZM1614.6 1711.7V1645.9h0.4V1635.6h1V1635.3h1V1639.9h1V1644.7h1V1630.4h1V1640.7h1V1641.1h1V1635.5h1V1633.8h1V1640.7h1V1637.4h1V1627.8h1V1637.7h1V1631.7h1V1632.3h1V1624.8h1V1643.9h1V1634.6h1V1637.6h1V1626.3h1V1633.4h1V1635.4h1V1632.5h1V1636.9h1V1633.1h1V1628.1h1V1634.2h1V1649.5h1V1620.9h1V1625.9h1V1636.2h1V1635.2h1V1643.6h0.5V1711.7Z" fill="#e6e7e7"/><path d="M1549.9 1711.7V1638.8h0.1V1638.6h1V1644.4h1V1652.3h1V1645.3h1V1639.5h1V1644h1V1648.2h1V1644.1h1V1654.3h1V1644.8h1V1648.3h1V1654.3h1V1652.8h1V1643.7h1V1639.8h1V1651.1h1V1638.5h1V1653.6h1V1649.8h1V1645.9h1V1649.4h1V1652.1h1V1651.6h1V1645.5h1V1640.8h1V1641.4h1V1646.8h1V1645.7h1V1647.6h1V1642.8h1V1647.2h1V1645.5h1V1649.3h0.3V1711.7ZM1614.6 1711.7V1649.3h0.4V1644.4h1V1648.2h1V1645h1V1647.2h1V1635.3h1V1643.9h1V1646.4h1V1654.8h1V1645.9h1V1646.6h1V1647.4h1V1648h1V1642.9h1V1642.7h1V1646.6h1V1637.5h1V1648.3h1V1640.5h1V1647.1h1V1644.2h1V1651.4h1V1639.9h1V1646.7h1V1650.2h1V1637.2h1V1638.9h1V1641h1V1650.7h1V1641.8h1V1644.4h1V1648h1V1643.5h1V1644.9h0.5V1711.7Z" fill="#d4d6d6"/><path d="M1549.9 1711.7V1652.6h0.1V1649.2h1V1649.4h1V1658.1h1V1652.5h1V1650.7h1V1655.2h1V1652.1h1V1654.4h1V1659.9h1V1650.6h1V1657.4h1V1658.1h1V1660.3h1V1653.1h1V1649.9h1V1658.9h1V1652h1V1657.7h1V1657.8h1V1659.5h1V1659.6h1V1656.8h1V1656.4h1V1655.1h1V1652.1h1V1650h1V1657h1V1649.9h1V1654.6h1V1654.8h1V1652.2h1V1649.1h1V1653.6h0.3V1711.7ZM1614.6 1711.7V1657.1h0.4V1655.5h1V1654.9h1V1653h1V1654.4h1V1648.8h1V1653.1h1V1656.8h1V1659.1h1V1650.4h1V1659.3h1V1653h1V1659.5h1V1654.9h1V1651h1V1655.3h1V1651.9h1V1653.9h1V1650.8h1V1660h1V1651h1V1655.9h1V1653h1V1657.9h1V1660.5h1V1650.3h1V1652.1h1V1653.1h1V1660.3h1V1649.7h1V1657.6h1V1653.5h1V1655.2h1V1655.6h0.5V1711.7Z" fill="#bfc1c2"/><path d="M1582.3 1711.7V1633.4h0.7V1637.4h1V1629.3h1V1619.7h1V1624.6h1V1639.6h1V1629.9h1V1631.6h1V1635.7h1V1626.9h1V1637.2h1V1626.3h1V1637h1V1623.4h1V1611h1V1621.4h1V1609.6h1V1596.6h1V1630.9h1V1633.4h1V1622.7h1V1619.6h1V1629.1h1V1636.5h1V1623.5h1V1634.3h1V1623.6h1V1610.7h1V1613.8h1V1632.7h1V1631.8h1V1645.2h1V1630.6h0.6V1711.7Z" fill="#c3d2ea"/><path d="M1582.3 1711.7V1636.4h0.7V1644.6h1V1636.8h1V1641.1h1V1643.1h1V1643.8h1V1636.2h1V1634.5h1V1639.5h1V1637.7h1V1638h1V1644.8h1V1641.8h1V1632.9h1V1628.3h1V1624.7h1V1631.2h1V1621.5h1V1638.1h1h1V1634.3h1V1632h1V1631.5h1V1639.7h1V1627.3h1V1639.6h1V1633.4h1V1633h1V1628.5h1V1633.8h1V1638.3h1V1645.5h1h0.6V1711.7Z" fill="#a1b8dd"/><path d="M1582.3 1711.7V1647.7h0.7V1649.3h1V1650.3h1V1646.4h1V1649.6h1V1651.1h1V1647.7h1V1643.5h1V1649.2h1V1650h1V1643.5h1V1650.2h1V1646.6h1V1646.2h1V1636.1h1h1V1649h1V1637.6h1V1646.4h1V1644.9h1V1641h1V1648.3h1V1643.3h1V1647.6h1V1642.4h1V1647.9h1V1648.4h1V1642.7h1V1643.8h1V1644.6h1V1647.2h1V1652.3h1V1654.8h0.6V1711.7Z" fill="#7597ce"/><path d="M1549.9 1711.7V1666.7h0.1V1667h1V1666.5h1V1666.2h1V1667.6h1V1668h1V1668.5h1V1667.7h1V1668.3h1V1668.4h1V1669.1h1V1669.3h1V1668.6h1V1669.3h1V1669.2h1V1668.5h1V1668.2h1V1669.4h1V1668.9h1V1669h1V1668.4h1V1668.1h1V1667.1h1V1667h1V1667.6h1V1666.2h1h1V1665.9h1V1665.8h1V1665.3h1V1666.2h1V1665.6h1V1664.8h1V1666.2h0.3V1711.7ZM1614.6 1711.7V1664.7h0.4V1666.1h1V1665h1V1665.9h1V1665.6h1V1666.5h1V1665.6h1V1666.9h1h1V1667h1V1666.3h1V1666.7h1V1666.6h1V1667h1V1667.2h1V1667.7h1V1667.6h1V1667.8h1V1669.1h1V1667.6h1V1668h1V1668.6h1V1668.7h1h1V1669.1h1V1667.9h1V1668.2h1V1668.4h1V1668.5h1h1V1668.4h1h1V1668.2h1V1669.7h0.5V1711.7Z" fill="#b5b8b9"/><path d="M1582.3 1711.7V1658.9h0.7V1662.3h1V1657.3h1V1659.9h1V1663.2h1V1657.3h1V1658.6h1V1657.9h1V1659.9h1V1658.6h1V1654.2h1V1652.6h1V1657h1V1661.9h1V1654.1h1V1658.6h1V1655.3h1V1657.4h1V1658.1h1V1660.6h1V1652.2h1V1661.9h1V1656h1V1656.1h1V1656.8h1V1658h1V1655.8h1V1661.8h1V1662.3h1V1660h1V1659.1h1V1657.3h1V1658.8h0.6V1711.7Z" fill="#6289c7"/><path d="M1549.9 1666.4L1552.6 1666.8L1555.3 1667.4L1558 1668L1560.7 1668.6L1563.5 1668.8L1566.2 1668.6L1568.9 1668L1571.6 1667.4L1574.3 1666.8L1577 1666.2L1579.7 1665.6L1582.4 1665L1585.1 1664.6L1587.9 1664.1L1590.6 1663.7L1593.3 1663.3L1596 1663L1598.7 1662.8L1601.4 1663L1604.1 1663.3L1606.8 1663.7L1609.5 1664.1L1612.3 1664.6L1615 1665L1617.7 1665.5L1620.4 1666L1623.1 1666.5L1625.8 1667L1628.5 1667.5L1631.2 1667.9L1633.9 1668.1L1636.7 1668.2L1639.4 1668.3L1642.1 1668.4L1644.8 1668.5L1647.5 1668.6" fill="none" stroke="#4469b5" stroke-width="4.5" stroke-opacity="0.3" stroke-linejoin="round"/><path d="M1549.9 1666.4L1552.6 1666.8L1555.3 1667.4L1558 1668L1560.7 1668.6L1563.5 1668.8L1566.2 1668.6L1568.9 1668L1571.6 1667.4L1574.3 1666.8L1577 1666.2L1579.7 1665.6L1582.4 1665L1585.1 1664.6L1587.9 1664.1L1590.6 1663.7L1593.3 1663.3L1596 1663L1598.7 1662.8L1601.4 1663L1604.1 1663.3L1606.8 1663.7L1609.5 1664.1L1612.3 1664.6L1615 1665L1617.7 1665.5L1620.4 1666L1623.1 1666.5L1625.8 1667L1628.5 1667.5L1631.2 1667.9L1633.9 1668.1L1636.7 1668.2L1639.4 1668.3L1642.1 1668.4L1644.8 1668.5L1647.5 1668.6" fill="none" stroke="#4469b5" stroke-width="2.3" stroke-linejoin="round"/>
<path d="M1545.4 1559.8V1719H1652.7M1542.6 1711.7h2.8M1542.6 1674.8h2.8M1542.6 1637.9h2.8M1542.6 1601h2.8M1542.6 1564.1h2.8M1549.9 1719v1.9M1582.3 1719v1.9M1598.6 1719v1.9M1614.6 1719v1.9M1647.5 1719v1.9" fill="none" stroke="#333" stroke-width="1.9"/>
<text x="1603" y="1580.2" font-size="16.45" text-anchor="middle" fill="#231f20">q = 0.40</text>
<path d="M1682.3 1711.7V1638.1h0.7V1616.4h1V1621.3h1V1624.8h1V1633.7h1V1636.5h1V1643h1V1625.1h1V1618.3h1V1638.9h1V1635.4h1V1634.1h1V1646.2h1V1634.3h1V1638.1h1V1624.2h1V1643.1h1V1622.9h1V1629.2h1V1626.6h1V1639.7h1V1635.7h1V1638.9h1V1637.8h1V1627.9h1V1640.4h1V1631.3h1V1640.5h1V1615.7h1V1618.9h1V1611.4h1V1642.1h1V1625.7h0.7V1711.7ZM1747 1711.7V1634.5h1V1638.1h1V1625.4h1V1626.8h1V1622.8h1V1643.1h1V1636.2h1V1633.5h1V1632.2h1V1629.8h1V1633.7h1V1628.3h1V1633.4h1V1631.2h1V1639.9h1V1633h1V1627.9h1V1622.8h1V1627.7h1V1628.2h1V1632.2h1V1639.3h1V1618.8h1V1639.4h1V1633.3h1V1645.9h1V1614.4h1V1649.2h1V1633.4h1V1643.9h1V1632.3h1V1607h1V1643.1h0.9V1711.7Z" fill="#e6e7e7"/><path d="M1682.3 1711.7V1639.2h0.7V1641.3h1V1642.5h1V1637.5h1V1644.3h1V1640.1h1V1650.1h1V1649h1V1643.3h1V1639.9h1V1640.2h1V1642.2h1V1646.9h1V1642.3h1V1647.8h1V1633.3h1V1644.9h1V1647.6h1V1642.7h1V1648.5h1V1640.5h1V1650.1h1V1647.8h1V1639.7h1V1632.3h1V1641.3h1V1632.7h1V1647.6h1V1638.7h1V1638.5h1V1634.1h1V1642.3h1V1644h0.7V1711.7ZM1747 1711.7V1641.1h1h1V1634.6h1V1638.6h1V1631.4h1V1648h1V1641.5h1h1V1641.4h1V1637.1h1V1640.7h1V1636.3h1V1643.4h1V1631.7h1V1649.6h1V1640.2h1V1631.2h1V1640.8h1V1638h1V1645.5h1V1653.1h1V1642.1h1V1636.1h1V1644h1V1641.4h1V1646.3h1V1637.9h1V1649.3h1V1640.5h1V1650.7h1V1647.2h1V1631.3h1V1644h0.9V1711.7Z" fill="#d4d6d6"/><path d="M1682.3 1711.7V1650.5h0.7V1650.9h1V1654.8h1V1646.5h1V1649.1h1V1652h1V1658.9h1V1658.3h1V1651.8h1V1647.5h1V1647.3h1V1659.1h1V1658.2h1V1654.6h1V1656.3h1V1647.7h1V1650.2h1V1653.2h1V1655.2h1V1658.7h1V1657.9h1V1657.2h1V1654.8h1V1653.5h1V1645.2h1V1656.4h1V1647.5h1V1652.7h1V1646.5h1V1649.4h1V1644.8h1V1652h1V1650.3h0.7V1711.7ZM1747 1711.7V1653h1V1645.5h1V1649.6h1V1650.3h1V1646.7h1V1652.5h1V1655.3h1V1656h1V1654.4h1V1647.3h1V1653.9h1V1645.1h1V1653.4h1V1647.5h1V1657.5h1V1652.6h1V1647.8h1V1656.1h1V1648.7h1V1656.1h1V1658.2h1V1655.6h1V1651.8h1V1648.6h1V1652.6h1V1655.6h1V1653h1V1656.5h1V1645.2h1V1657.8h1V1655.7h1V1646.7h1V1656.2h0.9V1711.7Z" fill="#bfc1c2"/><path d="M1714.7 1711.7V1632.2h0.3V1624.5h1V1641.3h1V1626.6h1V1627.4h1V1621.5h1V1626.7h1V1628.1h1V1634.7h1V1623.6h1V1624h1V1620.1h1V1609.2h1V1624.8h1V1618.4h1V1607.1h1V1607.2h1V1621.5h1V1620.1h1V1615h1V1628.5h1V1625h1V1621.7h1V1632.6h1V1626.5h1V1628.2h1V1636.8h1V1632.7h1V1633.8h1V1632.1h1V1626.3h1V1633.1h1V1635.6h1V1711.7Z" fill="#c3d2ea"/><path d="M1714.7 1711.7V1639.8h0.3V1634.8h1V1642.6h1V1637h1V1628.5h1V1628.9h1V1630.5h1V1637.2h1V1635.6h1V1638.3h1V1639.6h1V1631.1h1V1629.3h1V1631.9h1V1622.2h1V1634.6h1V1617.7h1V1624.4h1V1632.5h1V1630h1V1634.8h1V1625.1h1V1629.7h1V1641h1V1632.1h1V1629.7h1V1642h1V1633.4h1V1637.2h1V1642.8h1V1637h1V1633.2h1V1637.4h1V1711.7Z" fill="#a1b8dd"/><path d="M1714.7 1711.7V1652.2h0.3V1647.4h1V1646.6h1V1643.4h1V1642.7h1V1642.1h1V1645.4h1V1644.4h1V1650h1V1647h1V1647.6h1V1646.6h1V1637h1V1642.7h1V1636.4h1V1646.1h1V1634.5h1V1634.6h1V1643.9h1V1638.3h1V1643.6h1V1640h1V1644.7h1V1648.9h1V1643.2h1V1643.6h1V1649.1h1V1643.4h1V1650.8h1V1647.6h1V1644.5h1V1642.6h1V1645.6h1V1711.7Z" fill="#7597ce"/><path d="M1682.3 1711.7V1668.8h0.7V1669.6h1V1668.5h1V1668.2h1V1668.1h1V1668.4h1V1668.6h1V1669.6h1V1668.2h1V1669.5h1V1668.5h1V1669.2h1V1668.5h1V1668h1V1669h1V1669.2h1V1668.1h1V1669.2h1V1668.6h1V1668h1V1668.3h1V1668.2h1V1667.4h1V1666.9h1V1667.3h1V1665.6h1V1666.4h1V1664.8h1V1666h1V1664.9h1V1663.9h1V1664.7h1V1665h0.7V1711.7ZM1747 1711.7V1665.2h1V1665.6h1V1665.8h1V1665.9h1V1664.8h1V1665h1h1V1666.4h1V1666.7h1V1666.4h1V1666.3h1V1666.4h1V1665.9h1V1667.1h1V1667.3h1V1666.7h1h1V1666.8h1V1666.9h1V1667.9h1V1667h1V1666.5h1V1666.9h1V1667.8h1V1667.3h1V1667.5h1V1666.9h1V1667.4h1V1666.7h1V1666.8h1V1667h1V1667.8h1V1667.2h0.9V1711.7Z" fill="#b5b8b9"/><path d="M1714.7 1711.7V1656.2h0.3V1658.4h1V1660.2h1V1655.7h1V1656h1V1655.8h1V1659.3h1V1657.9h1V1657.7h1V1652.2h1V1656.7h1V1656.6h1V1652.9h1V1656.1h1V1656.7h1V1652.6h1V1653.3h1V1652.2h1V1655.6h1V1654.4h1V1650h1V1655h1V1659.3h1V1654.5h1V1654.3h1V1654.1h1V1657.5h1V1654.1h1V1656.3h1V1659.1h1V1658.5h1V1662.9h1V1660.5h1V1711.7Z" fill="#6289c7"/><path d="M1682.3 1668.7L1685 1668.7L1687.7 1668.7L1690.4 1668.7L1693.1 1668.7L1695.9 1668.6L1698.6 1668.3L1701.3 1667.8L1704 1667L1706.7 1666.2L1709.4 1665.4L1712.1 1664.6L1714.8 1663.8L1717.5 1663L1720.3 1662.3L1723 1661.6L1725.7 1660.9L1728.4 1660.3L1731.1 1660.1L1733.8 1660.5L1736.5 1661.3L1739.2 1662.2L1741.9 1663.1L1744.7 1664L1747.4 1664.7L1750.1 1665.2L1752.8 1665.6L1755.5 1665.9L1758.2 1666.2L1760.9 1666.5L1763.6 1666.7L1766.3 1666.9L1769.1 1667L1771.8 1667.1L1774.5 1667.2L1777.2 1667.3L1779.9 1667.4" fill="none" stroke="#4469b5" stroke-width="4.5" stroke-opacity="0.3" stroke-linejoin="round"/><path d="M1682.3 1668.7L1685 1668.7L1687.7 1668.7L1690.4 1668.7L1693.1 1668.7L1695.9 1668.6L1698.6 1668.3L1701.3 1667.8L1704 1667L1706.7 1666.2L1709.4 1665.4L1712.1 1664.6L1714.8 1663.8L1717.5 1663L1720.3 1662.3L1723 1661.6L1725.7 1660.9L1728.4 1660.3L1731.1 1660.1L1733.8 1660.5L1736.5 1661.3L1739.2 1662.2L1741.9 1663.1L1744.7 1664L1747.4 1664.7L1750.1 1665.2L1752.8 1665.6L1755.5 1665.9L1758.2 1666.2L1760.9 1666.5L1763.6 1666.7L1766.3 1666.9L1769.1 1667L1771.8 1667.1L1774.5 1667.2L1777.2 1667.3L1779.9 1667.4" fill="none" stroke="#4469b5" stroke-width="2.3" stroke-linejoin="round"/>
<path d="M1677.8 1559.8V1719H1785.1M1675 1711.7h2.8M1675 1674.8h2.8M1675 1637.9h2.8M1675 1601h2.8M1675 1564.1h2.8M1682.3 1719v1.9M1714.7 1719v1.9M1731 1719v1.9M1747 1719v1.9M1779.9 1719v1.9" fill="none" stroke="#333" stroke-width="1.9"/>
<text x="1734.9" y="1580.2" font-size="16.45" text-anchor="middle" fill="#231f20">q = 0.24</text>
<text x="1282" y="1718.6" font-size="19.7" text-anchor="end">0</text>
<text x="1282" y="1681.7" font-size="19.7" text-anchor="end">3</text>
<text x="1282" y="1644.8" font-size="19.7" text-anchor="end">6</text>
<text x="1282" y="1607.9" font-size="19.7" text-anchor="end">9</text>
<text x="1282" y="1571" font-size="19.7" text-anchor="end">12</text>
<path d="M1296.1 1938.4V1874.5h0.9V1869.3h1V1872.9h1V1878.2h1V1873.3h1V1871h1V1873.9h1V1874.7h1V1865.4h1V1871.4h1V1869.2h1V1872.4h1V1866.5h1V1876.1h1V1866.6h1V1882.1h1V1873.8h1V1870h1V1867.8h1V1877.6h1V1866.7h1V1867.3h1V1868.7h1V1880.1h1V1881.6h1V1864.6h1V1874.3h1V1875.3h1V1876.6h1V1873.9h1V1870.7h1V1871.1h1V1877.9h0.5V1938.4ZM1360.8 1938.4V1867.5h0.2V1863.6h1V1870.9h1V1872.8h1V1869.5h1V1873.2h1V1871.1h1V1876.4h1V1874.7h1V1868.8h1V1865.6h1V1871.6h1V1872.5h1V1875h1V1875.5h1V1879.5h1V1867.8h1V1872.7h1V1872h1V1873.2h1V1876.6h1V1870.8h1V1862.1h1V1866.3h1V1872.3h1V1873.3h1V1872.3h1V1864.7h1V1864.2h1V1879.6h1V1875h1V1874.6h1V1868.8h1V1874.9h0.7V1938.4Z" fill="#e6e7e7"/><path d="M1296.1 1938.4V1875.4h0.9V1874.6h1V1873h1V1878.3h1V1876.7h1V1875h1V1879.9h1V1876h1V1877.9h1V1874.4h1V1874.8h1V1876.3h1V1872.7h1V1876.9h1V1874.7h1V1882.2h1V1877.9h1V1879.4h1V1880.5h1V1877.6h1V1870.7h1V1879.9h1V1875.2h1V1880.2h1V1882.3h1V1877.1h1h1V1875.3h1V1878.7h1V1875.5h1V1871.7h1V1871.8h1V1878.4h0.5V1938.4ZM1360.8 1938.4V1876.1h0.2V1875.4h1V1875.7h1V1875.1h1V1873.5h1V1876.1h1V1879.5h1V1881.3h1V1876.7h1V1877.4h1V1877.6h1V1872.8h1V1879.4h1V1875.6h1V1877.9h1V1880h1V1872h1V1874.4h1V1876.1h1V1874.1h1V1878.2h1V1873.4h1V1874.8h1V1876.9h1V1876.5h1V1876.4h1V1874.3h1V1875.3h1V1877.2h1V1880.7h1V1880.8h1V1877h1V1875.3h1V1876.6h0.7V1938.4Z" fill="#d4d6d6"/><path d="M1296.1 1938.4V1879h0.9V1881.4h1V1879.2h1V1882.4h1V1882h1V1878.6h1V1884.3h1V1880.7h1V1884.1h1V1879.6h1V1882.7h1V1879.8h1V1879.7h1V1882.2h1V1883.4h1V1885.8h1V1880.6h1V1882h1V1885h1V1881.2h1V1879.3h1V1884.3h1V1879.2h1V1883.7h1V1884.8h1V1883.5h1V1881.8h1V1879.4h1V1883.6h1V1883h1V1878.5h1V1879.6h1V1883.4h0.5V1938.4ZM1360.8 1938.4V1884h0.2V1880.6h1V1881.8h1V1878.9h1V1880.3h1V1884.8h1V1884.5h1V1884h1V1882.5h1V1884.5h1V1881.1h1V1878.9h1V1883.5h1V1881.9h1V1882.5h1V1882.7h1V1881.1h1V1883.4h1V1880.7h1V1881h1V1882.2h1V1882.3h1V1879.4h1V1879.9h1V1882.3h1V1880.9h1V1882.7h1V1880.6h1V1881h1V1884.9h1V1884.7h1V1885.9h1V1881.9h1V1882.2h0.7V1938.4Z" fill="#bfc1c2"/><path d="M1328.5 1938.4V1868.6h0.5V1875h1V1873.3h1V1865.9h1V1866.1h1V1856.6h1V1856.1h1V1857.1h1V1870.4h1V1862.5h1V1861.7h1V1861.6h1V1869.6h1V1867.1h1V1856.7h1V1862.2h1V1862h1V1868.2h1V1867.7h1V1814.2h1V1867.5h1V1866h1V1863.8h1V1854.7h1V1871h1V1868h1V1871.2h1V1866.1h1V1874h1V1867.9h1V1873.7h1V1867.6h1V1859.3h0.8V1938.4Z" fill="#c3868d"/><path d="M1328.5 1938.4V1872.2h0.5V1876h1V1873.7h1V1875.4h1V1869.4h1V1867h1V1868.1h1V1868.9h1V1873.8h1V1874.2h1V1868.6h1V1870.8h1V1871.2h1V1868.5h1V1863.2h1V1862.9h1V1869.1h1V1869.9h1V1869h1V1846.5h1V1869.8h1V1867.3h1V1865h1V1866.2h1V1871.7h1V1871h1V1871.2h1V1874.7h1V1874.1h1V1872.1h1V1874.4h1V1875.4h1V1870.7h0.8V1938.4Z" fill="#a54a54"/><path d="M1328.5 1938.4V1878.2h0.5V1879.8h1V1879.6h1V1881.1h1V1876.7h1V1874.2h1V1875.6h1V1873.7h1V1878.9h1V1876.4h1V1872.8h1V1873.5h1V1876.4h1V1875.8h1V1869.6h1V1870.6h1V1872.5h1V1873.7h1V1873.2h1V1873h1V1876.4h1V1874.7h1V1872.8h1V1872.2h1V1876.2h1V1875.6h1V1878.3h1V1879.3h1V1877.3h1V1875.6h1V1881.3h1V1881h1V1878.3h0.8V1938.4Z" fill="#8d1926"/><path d="M1296.1 1938.4V1889.4h0.9V1889.7h1V1890.3h1V1890.5h1V1890h1V1889.6h1V1891.1h1V1890.5h1V1889.6h1V1890.1h1V1890.2h1V1890.6h1V1891h1V1890h1V1890.2h1V1891.4h1V1890.2h1V1891.1h1V1891.4h1V1890.8h1V1890h1V1890.9h1V1890.8h1V1891.3h1V1890.7h1V1890.4h1V1890.8h1V1890h1h1V1889.9h1V1889.7h1V1890.4h1V1889.3h0.5V1938.4ZM1360.8 1938.4V1889.2h0.2V1889.8h1V1889.3h1V1890.3h1V1890.4h1V1888.9h1h1V1890.7h1V1890.5h1V1890.6h1V1889.5h1V1889.1h1V1890.1h1V1890.2h1V1890.9h1V1889.4h1V1890.9h1V1890.1h1V1889.5h1V1891.4h1V1890.1h1V1890.5h1V1891.6h1V1890.6h1V1891.5h1V1891.1h1V1891.7h1V1892.2h1V1891.9h1V1891.3h1V1890.7h1V1891.1h1V1891.7h1V1890.9h0.7V1938.4Z" fill="#b5b8b9"/><path d="M1328.5 1938.4V1887.7h0.5V1884.1h1V1883.5h1V1882.3h1V1884.5h1V1881.1h1V1882.3h1V1883h1V1882.6h1V1878.9h1V1881.6h1V1878.3h1V1881.2h1V1880.4h1V1876.8h1V1876.6h1V1879.6h1V1879.2h1V1880.5h1V1878.8h1V1879.3h1V1877.7h1V1878.2h1V1879.6h1V1880.1h1V1882.1h1V1880.3h1V1884.4h1V1885.5h1V1885.8h1V1884.6h1V1882.6h1V1883.8h0.8V1938.4Z" fill="#870d1b"/><path d="M1296.1 1889.5L1298.8 1889.7L1301.5 1889.9L1304.2 1890.1L1306.9 1890.4L1309.7 1890.6L1312.4 1890.6L1315.1 1890.6L1317.8 1890.4L1320.5 1890.1L1323.2 1889.9L1325.9 1889.5L1328.6 1888.8L1331.3 1887.7L1334.1 1886.1L1336.8 1884.4L1339.5 1882.8L1342.2 1881.4L1344.9 1880.9L1347.6 1881.4L1350.3 1882.8L1353 1884.4L1355.7 1886.1L1358.5 1887.6L1361.2 1888.8L1363.9 1889.4L1366.6 1889.6L1369.3 1889.8L1372 1889.9L1374.7 1890L1377.4 1890.2L1380.1 1890.4L1382.9 1890.6L1385.6 1890.8L1388.3 1891.1L1391 1891.3L1393.7 1891.4" fill="none" stroke="#4469b5" stroke-width="4.5" stroke-opacity="0.3" stroke-linejoin="round"/><path d="M1296.1 1889.5L1298.8 1889.7L1301.5 1889.9L1304.2 1890.1L1306.9 1890.4L1309.7 1890.6L1312.4 1890.6L1315.1 1890.6L1317.8 1890.4L1320.5 1890.1L1323.2 1889.9L1325.9 1889.5L1328.6 1888.8L1331.3 1887.7L1334.1 1886.1L1336.8 1884.4L1339.5 1882.8L1342.2 1881.4L1344.9 1880.9L1347.6 1881.4L1350.3 1882.8L1353 1884.4L1355.7 1886.1L1358.5 1887.6L1361.2 1888.8L1363.9 1889.4L1366.6 1889.6L1369.3 1889.8L1372 1889.9L1374.7 1890L1377.4 1890.2L1380.1 1890.4L1382.9 1890.6L1385.6 1890.8L1388.3 1891.1L1391 1891.3L1393.7 1891.4" fill="none" stroke="#4469b5" stroke-width="2.3" stroke-linejoin="round"/>
<path d="M1291.6 1786.9V1945.7H1398.9M1288.8 1938.4h2.8M1288.8 1902.9h2.8M1288.8 1867.4h2.8M1288.8 1831.9h2.8M1288.8 1796.4h2.8M1296.1 1945.7v1.9M1328.5 1945.7v1.9M1344.8 1945.7v1.9M1360.8 1945.7v1.9M1393.7 1945.7v1.9" fill="none" stroke="#333" stroke-width="1.9"/>
<text x="1345" y="1808.6" font-size="16.45" text-anchor="middle" fill="#231f20">q = 0.17</text>
<path d="M1421.5 1938.4V1874.5h0.5V1872h1V1876.6h1V1874.6h1V1863.8h1V1885.2h1V1874.5h1V1885.2h1V1882.2h1V1881.8h1V1861.9h1V1874.5h1h1h1V1876.3h1V1874.5h1V1866.7h1V1877.1h1V1884.4h1V1877.9h1V1881.6h1V1863.9h1V1874.5h1h1V1873.4h1V1875.7h1V1874.5h1h1V1863.9h1V1874.5h1V1876.1h1V1873.7h1V1895.8h0.9V1938.4ZM1486.2 1938.4V1863.9h0.8V1874h1V1873.7h1V1885.2h1V1867.3h1V1874.5h1V1871.3h1V1879.9h1V1874.5h1V1866h1V1863.9h1V1865.2h1V1863.9h1V1872.1h1V1880.3h1V1874.4h1V1874.5h1V1878.2h1V1881h1V1885.2h1V1874.5h1h1V1863.9h1V1885.2h1V1874.5h1V1885.2h1V1880.5h1V1873.4h1V1873.3h1V1874.5h1V1866.5h1V1873.7h1V1877.2h1V1883.4h0.1V1938.4Z" fill="#e6e7e7"/><path d="M1421.5 1938.4V1874.5h0.5V1885.2h1h1h1V1874.5h1V1885.2h1V1874.5h1V1885.2h1h1h1h1V1874.5h1h1h1V1895.8h1V1874.5h1h1V1885.2h1h1h1h1V1863.9h1V1874.5h1h1h1V1895.8h1V1874.5h1h1V1863.9h1V1874.5h1V1895.8h1h1h0.9V1938.4ZM1486.2 1938.4V1863.9h0.8V1885.2h1V1895.8h1V1885.2h1h1V1874.5h1V1895.8h1V1885.2h1V1874.5h1V1895.8h1V1863.9h1V1874.5h1V1863.9h1V1885.2h1h1V1874.5h1h1V1885.2h1h1h1V1874.5h1h1V1863.9h1V1885.2h1V1874.5h1V1885.2h1h1V1874.5h1h1h1V1895.8h1V1874.5h1V1885.2h1h0.1V1938.4Z" fill="#d4d6d6"/><path d="M1421.5 1938.4V1895.8h0.5h1h1h1h1h1V1885.2h1V1895.8h1h1h1h1h1V1885.2h1h1V1895.8h1V1885.2h1V1895.8h1V1885.2h1V1895.8h1h1h1V1885.2h1h1h1V1895.8h1h1h1h1V1885.2h1h1V1895.8h1h1h0.9V1938.4ZM1486.2 1938.4V1874.5h0.8V1895.8h1h1h1h1V1885.2h1V1895.8h1h1V1885.2h1V1895.8h1V1885.2h1V1895.8h1V1885.2h1V1895.8h1h1V1885.2h1V1895.8h1h1V1885.2h1V1895.8h1V1885.2h1h1h1V1895.8h1h1h1h1V1885.2h1V1895.8h1V1885.2h1V1895.8h1h1h1h0.1V1938.4Z" fill="#bfc1c2"/><path d="M1453.9 1938.4V1870.9h0.1V1849.8h1V1870.1h1V1864.6h1V1861.5h1V1860.7h1V1872.9h1V1859.2h1V1851.7h1V1856.1h1V1852.1h1V1859.5h1V1860.9h1V1834.6h1V1839.8h1V1845.2h1V1823.6h1V1833.3h1V1855.9h1V1867.3h1V1864.9h1V1864.5h1V1858.1h1V1862.4h1V1855.7h1V1869.1h1V1864.7h1V1874.4h1V1874.5h1V1862.5h1V1859.4h1V1875.6h1V1853.4h1V1862.1h0.2V1938.4Z" fill="#c3868d"/><path d="M1453.9 1938.4V1870.9h0.1V1866.7h1V1870.1h1V1868.2h1V1875.2h1V1864.9h1V1873h1h1V1872h1V1864.9h1V1861.6h1V1870.4h1V1863.6h1V1855.5h1V1855.1h1V1851.1h1V1846.9h1V1854.1h1V1856.1h1V1867.3h1V1868h1V1864.5h1V1858.1h1V1868.3h1V1871.1h1V1869.1h1V1868.6h1V1876.3h1V1877.1h1V1863.7h1V1863.5h1V1877.7h1V1872.4h1V1869.4h0.2V1938.4Z" fill="#a54a54"/><path d="M1453.9 1938.4V1880.6h0.1V1880.4h1V1884.1h1V1877h1V1881.9h1V1877.9h1V1877.6h1V1880h1V1880.3h1V1869.7h1V1874.2h1V1876.5h1V1873h1V1869h1V1863.1h1V1863.8h1V1862.7h1V1871.2h1V1861.6h1V1871.8h1V1872.4h1V1869.9h1V1870.5h1V1875.3h1V1877h1h1V1876.8h1V1879.7h1V1880.5h1V1875.3h1V1876.3h1V1881.6h1V1883.5h1V1877h0.2V1938.4Z" fill="#8d1926"/><path d="M1421.5 1938.4V1899.3h0.5V1899h1h1V1899.6h1V1899.5h1h1V1900h1V1899.2h1V1898.9h1V1900.1h1V1899.5h1V1899.1h1V1900.3h1V1899.5h1V1899.2h1V1899.7h1V1900.3h1V1899h1V1900.2h1V1899.6h1V1900.1h1V1899.1h1V1899.6h1V1900.4h1V1900.2h1V1900.4h1V1900h1V1900.6h1V1901.4h1V1900.7h1V1901.5h1V1899.9h1V1900.6h0.9V1938.4ZM1486.2 1938.4V1895.6h0.8V1897.1h1V1897.6h1V1897.2h1V1897.9h1V1898.2h1V1898.9h1V1898.7h1V1898h1V1899.5h1V1899.7h1V1899.2h1V1899.9h1V1899.5h1V1899.8h1V1899.5h1V1899.2h1V1899.6h1V1900.1h1V1899.5h1V1899.9h1V1899.7h1V1899.5h1V1899.9h1h1V1900.2h1V1901h1V1900.4h1V1900.1h1V1899.9h1V1901.4h1V1900.7h1V1900.4h1V1901.3h0.1V1938.4Z" fill="#b5b8b9"/><path d="M1453.9 1938.4V1893.3h0.1V1895.5h1V1897.4h1V1888.2h1V1892.2h1V1887.7h1V1890.4h1V1890.6h1V1882.3h1V1883.7h1V1883.9h1V1879.3h1V1880.6h1V1879.5h1V1876h1V1876.5h1V1878.1h1V1872.7h1V1875.9h1V1879h1V1875.4h1V1879.1h1V1880.4h1V1882.8h1V1880.5h1V1885.7h1V1882.8h1V1882.3h1V1884.2h1V1891.3h1V1892.4h1V1888.1h1V1892.1h1V1891.1h0.2V1938.4Z" fill="#870d1b"/><path d="M1421.5 1899.4L1424.2 1899.4L1426.9 1899.4L1429.6 1899.4L1432.3 1899.4L1435.1 1899.4L1437.8 1899.4L1440.5 1899.4L1443.2 1899.6L1445.9 1900.1L1448.6 1900.7L1451.3 1900.7L1454 1899.4L1456.7 1896.9L1459.5 1893.4L1462.2 1890L1464.9 1886.5L1467.6 1883.4L1470.3 1882.1L1473 1882.8L1475.7 1885.2L1478.4 1888.1L1481.1 1891L1483.9 1893.9L1486.6 1896.1L1489.3 1897.6L1492 1898.3L1494.7 1898.6L1497.4 1898.8L1500.1 1899.1L1502.8 1899.3L1505.5 1899.6L1508.3 1899.8L1511 1900.1L1513.7 1900.3L1516.4 1900.5L1519.1 1900.7" fill="none" stroke="#4469b5" stroke-width="4.5" stroke-opacity="0.3" stroke-linejoin="round"/><path d="M1421.5 1899.4L1424.2 1899.4L1426.9 1899.4L1429.6 1899.4L1432.3 1899.4L1435.1 1899.4L1437.8 1899.4L1440.5 1899.4L1443.2 1899.6L1445.9 1900.1L1448.6 1900.7L1451.3 1900.7L1454 1899.4L1456.7 1896.9L1459.5 1893.4L1462.2 1890L1464.9 1886.5L1467.6 1883.4L1470.3 1882.1L1473 1882.8L1475.7 1885.2L1478.4 1888.1L1481.1 1891L1483.9 1893.9L1486.6 1896.1L1489.3 1897.6L1492 1898.3L1494.7 1898.6L1497.4 1898.8L1500.1 1899.1L1502.8 1899.3L1505.5 1899.6L1508.3 1899.8L1511 1900.1L1513.7 1900.3L1516.4 1900.5L1519.1 1900.7" fill="none" stroke="#4469b5" stroke-width="2.3" stroke-linejoin="round"/>
<path d="M1417 1786.9V1945.7H1524.3M1414.2 1938.4h2.8M1414.2 1902.9h2.8M1414.2 1867.4h2.8M1414.2 1831.9h2.8M1414.2 1796.4h2.8M1421.5 1945.7v1.9M1453.9 1945.7v1.9M1470.2 1945.7v1.9M1486.2 1945.7v1.9M1519.1 1945.7v1.9" fill="none" stroke="#333" stroke-width="1.9"/>
<text x="1474" y="1808.6" font-size="16.45" text-anchor="middle" fill="#231f20">q = 5.0x10<tspan font-size="9.87" dy="-6.2">-7</tspan></text>
<path d="M1549.9 1938.4V1866h0.1h1V1864.8h1V1866h1h1V1870.1h1V1853.9h1V1871.4h1V1861.1h1V1866h1V1860.4h1V1878.1h1V1871.1h1V1867.7h1V1866h1h1V1869h1V1878.1h1V1870.1h1V1862.6h1V1866h1h1V1875.8h1V1871.8h1V1872.4h1V1878.1h1V1866h1h1V1875.8h1V1858.1h1V1875.6h1V1859.6h1V1874.5h1V1878.1h0.3V1938.4ZM1614.6 1938.4V1864.4h0.4V1869h1V1866h1V1864.7h1V1870h1V1871.5h1V1866.3h1V1873.9h1V1877h1V1868.2h1V1865.1h1V1869.8h1V1866h1V1864.8h1V1875.9h1V1865.2h1V1871.9h1h1V1863h1V1864.1h1V1853.9h1V1873.1h1V1878.1h1V1868.8h1V1878.1h1V1848.5h1V1857.4h1V1866h1V1890.1h1V1878.1h1V1874.4h1V1868.6h1V1866h1V1865.6h0.5V1938.4Z" fill="#e6e7e7"/><path d="M1549.9 1938.4V1866h0.1h1V1878.1h1V1866h1h1V1890.1h1V1853.9h1V1878.1h1h1V1866h1V1890.1h1V1878.1h1h1V1890.1h1V1866h1h1V1878.1h1h1V1890.1h1V1878.1h1V1866h1V1890.1h1V1878.1h1h1h1h1V1866h1h1V1878.1h1h1h1h1h1h0.3V1938.4ZM1614.6 1938.4V1866h0.4V1890.1h1V1866h1V1878.1h1h1h1V1890.1h1V1878.1h1h1h1V1866h1V1878.1h1V1866h1V1878.1h1h1h1h1h1h1h1V1853.9h1V1878.1h1h1h1h1V1890.1h1V1878.1h1V1866h1V1890.1h1V1878.1h1h1h1V1866h1V1878.1h0.5V1938.4Z" fill="#d4d6d6"/><path d="M1549.9 1938.4V1878.1h0.1h1V1890.1h1h1V1878.1h1V1890.1h1V1878.1h1h1V1890.1h1V1878.1h1V1890.1h1V1878.1h1V1890.1h1h1V1878.1h1h1V1890.1h1h1h1h1V1878.1h1V1890.1h1h1h1h1h1V1878.1h1V1890.1h1V1878.1h1V1890.1h1h1h1h1V1878.1h0.3V1938.4ZM1614.6 1938.4V1890.1h0.4h1V1878.1h1V1890.1h1h1h1h1h1h1h1V1878.1h1V1890.1h1V1878.1h1V1890.1h1h1h1h1h1h1h1V1878.1h1V1890.1h1h1h1h1h1h1h1h1h1h1h1h1h0.5V1938.4Z" fill="#bfc1c2"/><path d="M1582.3 1938.4V1861h0.7V1861.1h1V1853.1h1V1859.2h1V1831h1V1851.5h1V1848.2h1V1855.3h1V1850.9h1V1848.7h1V1841.5h1V1840h1V1835h1V1844.5h1V1812.7h1V1844.4h1V1809.2h1V1836.7h1V1844.4h1V1847h1V1820.4h1V1835.5h1V1843.9h1V1830.8h1V1836.9h1V1855h1V1857.6h1V1854.9h1V1860.2h1V1861.1h1V1862h1V1866.7h1V1846.2h0.6V1938.4Z" fill="#c3868d"/><path d="M1582.3 1938.4V1868.9h0.7V1864.8h1V1855.1h1V1859.2h1V1852.1h1V1853.4h1V1858.8h1V1855.3h1V1856.2h1V1850.9h1V1846.8h1V1849.8h1V1847.3h1V1844.5h1V1828.6h1V1847.3h1V1832.7h1V1842.7h1V1849.5h1V1847h1V1847.1h1V1839.3h1V1847.2h1V1844.8h1V1850.3h1V1855.7h1V1857.6h1V1862.2h1V1863.5h1V1864.6h1V1869.8h1V1866.7h1V1859.5h0.6V1938.4Z" fill="#a54a54"/><path d="M1582.3 1938.4V1880.8h0.7V1874.2h1V1867.9h1V1874.6h1V1865.5h1V1869.7h1V1867.1h1V1867.5h1V1863.4h1V1861.6h1V1862.7h1V1855.6h1V1857h1V1856h1V1844.6h1V1856.9h1V1852h1V1849.1h1V1856.6h1V1855.9h1V1853.2h1V1851.7h1V1856.1h1V1857.2h1V1857.8h1V1870h1V1863.3h1V1867.9h1V1872.9h1V1877.9h1V1877.5h1V1877.7h1V1871.9h0.6V1938.4Z" fill="#8d1926"/><path d="M1549.9 1938.4V1903h0.1V1901.9h1V1903.1h1V1901.8h1V1903.1h1V1902.5h1V1903.2h1V1902.4h1V1903.4h1V1902.2h1V1902.1h1V1902.9h1V1903.1h1V1903.6h1V1902.6h1V1903.4h1V1902.7h1V1903h1V1902h1V1902.7h1V1901.4h1V1902h1V1900.8h1V1901.1h1V1901h1V1899.5h1V1899.3h1V1899.1h1V1899.4h1V1898.5h1V1897.9h1V1897.6h1V1896h1V1896.8h0.3V1938.4ZM1614.6 1938.4V1897.3h0.4V1897.1h1V1898.1h1V1899.1h1V1899h1V1899.6h1V1900.1h1V1900.6h1V1900.3h1V1901.1h1V1901.4h1V1901.3h1V1901.2h1V1901.7h1V1902.7h1V1901.8h1V1903h1V1902.8h1V1902.2h1V1902.9h1V1903.1h1V1902.2h1V1902.7h1V1902.5h1V1902.2h1h1h1V1902.3h1V1901.6h1V1900.8h1V1902h1V1901.5h1V1900.5h1V1901.2h0.5V1938.4Z" fill="#b5b8b9"/><path d="M1582.3 1938.4V1884.2h0.7V1883.5h1V1887.5h1V1887.6h1V1879.2h1V1886h1V1875.7h1V1880.1h1V1873.8h1V1877.3h1V1878.2h1V1873h1V1865.5h1V1865.2h1V1867.5h1V1869.8h1V1861.2h1V1866.7h1V1862.6h1V1863.8h1V1868.4h1V1871.5h1V1876.8h1h1V1879.1h1V1874.5h1V1877.7h1V1880.2h1V1879.7h1V1890.5h1V1887.2h1V1887.5h1V1889.9h0.6V1938.4Z" fill="#870d1b"/><path d="M1549.9 1902.2L1552.6 1902.3L1555.3 1902.4L1558 1902.5L1560.7 1902.7L1563.5 1902.7L1566.2 1902.5L1568.9 1901.9L1571.6 1901L1574.3 1900.1L1577 1899.1L1579.7 1897.9L1582.4 1895.6L1585.1 1892.1L1587.9 1887.5L1590.6 1882.7L1593.3 1877.8L1596 1873.7L1598.7 1872.3L1601.4 1873.9L1604.1 1878.3L1606.8 1883.4L1609.5 1888.5L1612.3 1893.2L1615 1896.8L1617.7 1899L1620.4 1900.1L1623.1 1900.8L1625.8 1901.5L1628.5 1902.1L1631.2 1902.5L1633.9 1902.5L1636.7 1902.2L1639.4 1901.8L1642.1 1901.5L1644.8 1901.1L1647.5 1900.9" fill="none" stroke="#4469b5" stroke-width="4.5" stroke-opacity="0.3" stroke-linejoin="round"/><path d="M1549.9 1902.2L1552.6 1902.3L1555.3 1902.4L1558 1902.5L1560.7 1902.7L1563.5 1902.7L1566.2 1902.5L1568.9 1901.9L1571.6 1901L1574.3 1900.1L1577 1899.1L1579.7 1897.9L1582.4 1895.6L1585.1 1892.1L1587.9 1887.5L1590.6 1882.7L1593.3 1877.8L1596 1873.7L1598.7 1872.3L1601.4 1873.9L1604.1 1878.3L1606.8 1883.4L1609.5 1888.5L1612.3 1893.2L1615 1896.8L1617.7 1899L1620.4 1900.1L1623.1 1900.8L1625.8 1901.5L1628.5 1902.1L1631.2 1902.5L1633.9 1902.5L1636.7 1902.2L1639.4 1901.8L1642.1 1901.5L1644.8 1901.1L1647.5 1900.9" fill="none" stroke="#4469b5" stroke-width="2.3" stroke-linejoin="round"/>
<path d="M1545.4 1786.9V1945.7H1652.7M1542.6 1938.4h2.8M1542.6 1902.9h2.8M1542.6 1867.4h2.8M1542.6 1831.9h2.8M1542.6 1796.4h2.8M1549.9 1945.7v1.9M1582.3 1945.7v1.9M1598.6 1945.7v1.9M1614.6 1945.7v1.9M1647.5 1945.7v1.9" fill="none" stroke="#333" stroke-width="1.9"/>
<text x="1602.8" y="1808.6" font-size="16.45" text-anchor="middle" word-spacing="-0.3" fill="#231f20">q &lt; 2.2x10<tspan font-size="9.87" dy="-6.2">-16</tspan></text>
<path d="M1682.3 1938.4V1879.3h0.7V1877.9h1V1902.2h1V1884.6h1V1879.7h1V1871.4h1V1868.7h1V1857.4h1V1860.7h1V1870.5h1V1850.4h1V1890.1h1V1878.1h1V1868.1h1V1866h1V1872.7h1V1857.9h1V1864.1h1V1880.1h1V1878.1h1V1869.2h1V1854h1V1866h1V1874.2h1V1868.5h1V1866h1V1862.8h1V1890.1h1V1866h1V1866.2h1V1877.4h1V1866h1V1873.6h0.7V1938.4ZM1747 1938.4V1878.1h1h1V1861.5h1V1866h1V1862.4h1V1866h1V1874.6h1V1866h1V1871.4h1V1851.9h1V1866h1h1V1878.1h1h1V1865.4h1V1866.5h1V1873.6h1V1878.1h1V1871h1V1854.8h1V1878.4h1V1869.3h1V1871.2h1V1848.7h1V1856.7h1V1878.7h1V1874.3h1V1872.4h1V1902.2h1V1878.9h1V1878.1h1V1873.9h1V1877.1h0.9V1938.4Z" fill="#e6e7e7"/><path d="M1682.3 1938.4V1890.1h0.7V1878.1h1V1902.2h1V1890.1h1h1V1878.1h1h1V1866h1V1890.1h1h1V1902.2h1V1890.1h1V1878.1h1V1902.2h1V1866h1V1890.1h1V1866h1V1878.1h1V1890.1h1V1878.1h1V1902.2h1h1V1866h1V1878.1h1V1890.1h1V1866h1V1878.1h1V1890.1h1V1866h1V1878.1h1h1V1866h1V1878.1h0.7V1938.4ZM1747 1938.4V1878.1h1h1h1V1866h1V1878.1h1V1866h1V1878.1h1V1866h1V1878.1h1V1866h1h1h1V1878.1h1h1h1V1890.1h1h1V1878.1h1h1V1890.1h1h1h1h1V1878.1h1V1890.1h1h1h1V1878.1h1V1902.2h1V1890.1h1V1878.1h1V1890.1h1h0.9V1938.4Z" fill="#d4d6d6"/><path d="M1682.3 1938.4V1902.2h0.7V1890.1h1V1902.2h1h1h1h1V1890.1h1h1V1902.2h1h1h1h1V1890.1h1V1902.2h1V1890.1h1h1h1V1902.2h1h1V1890.1h1V1902.2h1h1V1878.1h1V1890.1h1h1V1878.1h1V1890.1h1h1V1878.1h1V1890.1h1h1h1h0.7V1938.4ZM1747 1938.4V1890.1h1h1h1V1878.1h1V1890.1h1V1878.1h1V1890.1h1V1878.1h1V1890.1h1h1V1878.1h1h1V1890.1h1h1h1V1902.2h1h1h1V1890.1h1V1902.2h1h1h1h1h1h1h1h1h1h1h1V1890.1h1V1902.2h1h0.9V1938.4Z" fill="#bfc1c2"/><path d="M1714.7 1938.4V1850.3h0.3V1862.7h1V1855.7h1V1857.5h1V1829.7h1V1854.2h1V1858.7h1V1854.6h1V1850h1V1843.2h1V1849.1h1V1850.3h1V1836.7h1V1821h1V1833.3h1V1822h1V1823.1h1V1821.2h1V1845.2h1V1820.5h1V1833.7h1V1850.8h1V1854.9h1V1847.2h1V1843.5h1V1845.9h1V1849.7h1V1853.5h1V1852.3h1V1869.1h1V1863.4h1V1845.9h1V1827.5h1V1938.4Z" fill="#c3868d"/><path d="M1714.7 1938.4V1855.2h0.3V1867.5h1V1861.2h1V1857.5h1V1855.4h1V1857.1h1V1859.4h1V1864.7h1V1852.5h1V1853.1h1V1852.8h1V1850.3h1V1845.6h1V1845.7h1V1845.5h1V1841.8h1V1836.8h1V1836h1V1847h1V1838.3h1V1841.5h1V1855.7h1V1856h1V1858.9h1V1851.6h1V1848h1V1860.1h1V1859.4h1V1861.9h1V1872.3h1V1863.4h1V1860.7h1V1854h1V1938.4Z" fill="#a54a54"/><path d="M1714.7 1938.4V1870.9h0.3V1873.5h1V1870.4h1V1874.3h1V1871.2h1V1874.5h1V1876.4h1V1870.8h1V1868h1V1868.7h1V1865h1V1858.9h1V1853.9h1V1862.3h1V1858.6h1V1857.6h1V1853.4h1V1848.1h1V1860.2h1V1848.4h1V1851.3h1V1865.2h1V1860.5h1V1863.3h1V1861.4h1V1860.4h1V1873.7h1V1866.3h1V1874.5h1V1877.2h1V1878.9h1V1868.9h1V1871.3h1V1938.4Z" fill="#8d1926"/><path d="M1682.3 1938.4V1908.3h0.7V1908h1V1907.5h1V1906.9h1V1907.2h1V1906.5h1V1907h1V1906.3h1V1906.6h1V1905.6h1V1906.1h1V1905.3h1V1905.7h1V1905h1V1904.9h1V1904.1h1V1904.5h1V1903.8h1V1903.2h1V1903.5h1V1903.1h1V1902.9h1V1902.3h1V1901.8h1V1901.6h1h1V1901.7h1V1900.6h1h1V1900.4h1h1V1898.9h1V1898.6h0.7V1938.4ZM1747 1938.4V1898.1h1V1899.5h1V1900.3h1V1900.8h1V1901.3h1V1901.5h1V1901.7h1h1V1902.2h1V1901.6h1V1902.7h1V1902.5h1V1902.1h1V1903.5h1V1903h1V1903.4h1V1903.1h1V1903.9h1V1903.4h1V1903.7h1V1903.5h1V1903.6h1V1904.7h1V1903.7h1V1904.3h1V1904.2h1h1V1905.2h1V1904.7h1h1V1904.6h1V1905h1V1904.9h0.9V1938.4Z" fill="#b5b8b9"/><path d="M1714.7 1938.4V1886.3h0.3V1894.7h1V1885.4h1V1887h1V1884.5h1V1879.7h1V1878h1V1879.7h1V1874.7h1V1880.1h1V1878.3h1V1872.6h1h1V1866.8h1V1865.7h1V1864.2h1V1866.4h1V1867.1h1V1865.7h1V1869.2h1V1873.1h1V1867.9h1V1868.5h1V1878.4h1V1877.3h1V1880.2h1V1883.2h1V1877.5h1V1888.5h1V1886.5h1V1891h1V1889.1h1V1890.4h1V1938.4Z" fill="#870d1b"/><path d="M1682.3 1907.6L1685 1907.2L1687.7 1906.7L1690.4 1906.1L1693.1 1905.5L1695.9 1904.9L1698.6 1904.2L1701.3 1903.5L1704 1902.7L1706.7 1901.8L1709.4 1901L1712.1 1899.9L1714.8 1897.5L1717.5 1893.7L1720.3 1888.7L1723 1883.4L1725.7 1878.1L1728.4 1873.5L1731.1 1871.8L1733.8 1873.5L1736.5 1878.1L1739.2 1883.4L1741.9 1888.7L1744.7 1893.7L1747.4 1897.4L1750.1 1899.7L1752.8 1900.8L1755.5 1901.5L1758.2 1902.2L1760.9 1902.9L1763.6 1903.4L1766.3 1903.8L1769.1 1904.1L1771.8 1904.3L1774.5 1904.6L1777.2 1904.8L1779.9 1904.9" fill="none" stroke="#4469b5" stroke-width="4.5" stroke-opacity="0.3" stroke-linejoin="round"/><path d="M1682.3 1907.6L1685 1907.2L1687.7 1906.7L1690.4 1906.1L1693.1 1905.5L1695.9 1904.9L1698.6 1904.2L1701.3 1903.5L1704 1902.7L1706.7 1901.8L1709.4 1901L1712.1 1899.9L1714.8 1897.5L1717.5 1893.7L1720.3 1888.7L1723 1883.4L1725.7 1878.1L1728.4 1873.5L1731.1 1871.8L1733.8 1873.5L1736.5 1878.1L1739.2 1883.4L1741.9 1888.7L1744.7 1893.7L1747.4 1897.4L1750.1 1899.7L1752.8 1900.8L1755.5 1901.5L1758.2 1902.2L1760.9 1902.9L1763.6 1903.4L1766.3 1903.8L1769.1 1904.1L1771.8 1904.3L1774.5 1904.6L1777.2 1904.8L1779.9 1904.9" fill="none" stroke="#4469b5" stroke-width="2.3" stroke-linejoin="round"/>
<path d="M1677.8 1786.9V1945.7H1785.1M1675 1938.4h2.8M1675 1902.9h2.8M1675 1867.4h2.8M1675 1831.9h2.8M1675 1796.4h2.8M1682.3 1945.7v1.9M1714.7 1945.7v1.9M1731 1945.7v1.9M1747 1945.7v1.9M1779.9 1945.7v1.9" fill="none" stroke="#333" stroke-width="1.9"/>
<text x="1731.8" y="1808.6" font-size="16.45" text-anchor="middle" word-spacing="-0.3" fill="#231f20">q &lt; 2.2x10<tspan font-size="9.87" dy="-6.2">-16</tspan></text>
<text x="1282" y="1945.3" font-size="19.7" text-anchor="end">0</text>
<text x="1282" y="1909.8" font-size="19.7" text-anchor="end">5</text>
<text x="1282" y="1874.3" font-size="19.7" text-anchor="end">10</text>
<text x="1282" y="1838.8" font-size="19.7" text-anchor="end">15</text>
<text x="1282" y="1803.3" font-size="19.7" text-anchor="end">20</text>
<path d="M1296.1 2111.9V2049.8h0.9V2048.1h1V2047.3h1V2050h1V2053.1h1V2050.9h1V2049.5h1V2045.5h1V2042.8h1V2050.2h1V2049.5h1V2049.1h1V2049.6h1V2047.6h1V2047.3h1V2047.9h1V2046.8h1V2054.4h1V2047h1h1V2051.8h1V2049.2h1V2045.5h1V2052.4h1V2053.8h1V2052.1h1V2045.8h1V2049h1V2041.9h1V2053.5h1V2052.9h1V2050.8h1V2051.9h0.5V2111.9ZM1360.8 2111.9V2049.3h0.2V2046.2h1V2050.6h1V2049.8h1V2051.8h1V2046.2h1V2048.5h1V2047.3h1V2039h1V2048.9h1V2049.5h1V2049.3h1V2052.2h1V2048.9h1V2050.6h1V2046.8h1V2047.6h1V2047.9h1V2045.9h1V2051.6h1V2051h1V2044.6h1V2047.6h1V2048h1V2041.5h1V2048.5h1V2050.7h1V2051.6h1V2045.3h1V2047.7h1V2044.5h1V2044.4h1V2047.2h1V2049.6h0.7V2111.9Z" fill="#e6e7e7"/><path d="M1296.1 2111.9V2054.2h0.9V2053.1h1V2050.1h1V2050h1V2056.8h1V2053h1V2051.1h1V2052.4h1V2050h1V2054.3h1V2052.2h1V2050.9h1V2053.6h1V2049.6h1V2049.8h1V2054.2h1V2051.8h1V2054.7h1h1V2050h1V2056.5h1V2051.6h1V2051.8h1V2052.5h1V2055h1V2053.3h1V2048.7h1V2049h1V2051.6h1V2053.8h1V2053.1h1V2057.5h1V2052.2h0.5V2111.9ZM1360.8 2111.9V2052.4h0.2V2052.6h1V2053.6h1V2054.7h1V2054.6h1V2052.4h1V2052.7h1V2053.8h1V2049.3h1V2053h1V2053.5h1V2050.6h1V2054.4h1V2050.1h1V2051.1h1V2052.8h1V2053h1V2049.1h1V2053.4h1V2052.9h1V2052.4h1V2054.5h1V2049.6h1V2052.3h1V2051.5h1V2050.7h1V2052.9h1V2055.1h1V2050.5h1V2049.1h1V2050.6h1V2053.1h1V2052.7h1V2052.6h0.7V2111.9Z" fill="#d4d6d6"/><path d="M1296.1 2111.9V2059.5h0.9V2054.9h1V2055h1V2055.6h1V2060h1V2059.6h1V2055.1h1V2054.8h1V2055.3h1V2056.7h1V2058h1V2057.5h1h1V2055.2h1h1V2060.4h1V2055.8h1V2057.8h1V2059.7h1V2055.5h1V2059.3h1V2056.9h1V2057.7h1V2059.5h1V2058h1V2057.3h1V2055.4h1V2056h1V2056.3h1V2055.6h1V2055h1V2059.4h1V2056.9h0.5V2111.9ZM1360.8 2111.9V2056h0.2V2058.2h1V2056.6h1V2056.8h1V2059.9h1V2057.4h1V2055.9h1V2056.8h1V2055.5h1V2060h1V2058.9h1V2055.9h1V2058.5h1V2057.2h1V2055.4h1V2056.3h1V2056.7h1V2054.7h1V2056.8h1V2054.8h1V2056.7h1V2057.6h1V2055.4h1V2059.4h1V2058.5h1V2057.7h1V2057.8h1V2058.2h1V2055.8h1V2055h1V2055.8h1V2056.1h1V2055.6h1V2058.6h0.7V2111.9Z" fill="#bfc1c2"/><path d="M1328.5 2111.9V2047.6h0.5V2045.4h1V2050.2h1V2049h1V2047.8h1h1V2050h1V2045.7h1V2051.6h1V2050h1V2047.9h1V2043.9h1V2042.3h1V2044.8h1V2043.1h1V2046.4h1V2037.2h1V2040.7h1V2037.7h1V2043.3h1V2045.2h1V2038.1h1V2046.5h1V2045h1V2039.4h1V2034.4h1V2048.3h1V2042h1V2048.3h1V2044.4h1V2045.6h1V2050.1h1V2050h0.8V2111.9Z" fill="#c3d2ea"/><path d="M1328.5 2111.9V2051.9h0.5V2048.2h1V2050.7h1V2051.5h1V2048.7h1V2054.6h1V2051.4h1V2047.5h1V2052.2h1V2051.5h1V2052.9h1V2046.3h1V2049.1h1V2050.9h1V2048.2h1V2050.5h1V2047h1V2046.5h1V2045.5h1V2047h1V2052.6h1V2048.9h1V2047.8h1V2048.7h1V2048.8h1V2045.5h1V2051.2h1V2051.7h1V2049.9h1V2049.5h1V2048.4h1V2050.8h1V2051.2h0.8V2111.9Z" fill="#a1b8dd"/><path d="M1328.5 2111.9V2057h0.5V2053.8h1V2054.6h1V2055h1V2054h1V2056.8h1V2053.6h1V2054.7h1V2056.4h1V2056.2h1V2055.5h1V2052h1V2054.3h1V2053.2h1V2055.9h1V2052.8h1V2051.4h1V2051.3h1V2052.5h1V2052.9h1V2055.9h1V2053h1V2053.1h1V2052h1V2056h1V2052.9h1V2055.7h1V2054.1h1V2057.4h1V2056.5h1V2053.8h1V2055.8h1V2055.6h0.8V2111.9Z" fill="#7597ce"/><path d="M1296.1 2111.9V2065.1h0.9V2064.6h1V2063.8h1V2064.5h1V2064.8h1V2063.9h1V2064.8h1V2065.1h1V2064.8h1V2064.1h1V2064.6h1V2063.7h1V2064.5h1V2063.9h1V2063.7h1V2065h1V2064.3h1V2064.6h1V2064.2h1V2063.8h1V2065.2h1V2065.1h1V2063.6h1V2064.5h1V2063.8h1V2062.8h1V2063.5h1V2063.1h1V2064.3h1V2063.8h1V2062.6h1V2062.2h1V2062.6h0.5V2111.9ZM1360.8 2111.9V2063.7h0.2V2064.5h1V2064h1V2065.2h1V2064h1V2065.3h1V2064.1h1h1V2064.9h1V2063.6h1V2064.5h1V2065h1V2064.1h1V2063.6h1V2063.3h1V2063.5h1V2064.1h1h1V2063.8h1V2064.5h1V2063.7h1V2063.9h1V2063.5h1V2063.2h1V2064.3h1V2064.2h1V2063.8h1V2063.7h1V2063.2h1V2062.7h1V2062.8h1V2064h1V2064.4h1V2063.8h0.7V2111.9Z" fill="#b5b8b9"/><path d="M1328.5 2111.9V2060.7h0.5V2059.9h1V2060.5h1V2058.9h1V2060.7h1V2062.4h1V2061.7h1V2060.4h1V2061.8h1V2061h1V2060.1h1V2061h1V2060.4h1V2059.9h1V2057.2h1V2058.4h1V2059.3h1V2060.3h1V2061h1V2059.9h1V2060.6h1V2058.2h1V2057.8h1V2058h1V2061h1V2059.1h1V2060.8h1h1V2059.5h1V2059.9h1V2060h1V2063.2h1V2060.7h0.8V2111.9Z" fill="#6289c7"/><path d="M1296.1 2063.9L1298.8 2064L1301.5 2064.1L1304.2 2064.2L1306.9 2064.3L1309.7 2064.4L1312.4 2064.3L1315.1 2064.2L1317.8 2063.9L1320.5 2063.6L1323.2 2063.3L1325.9 2063L1328.6 2063L1331.3 2063.3L1334.1 2063.4L1336.8 2063.1L1339.5 2062.4L1342.2 2061.7L1344.9 2061.4L1347.6 2061.6L1350.3 2062.3L1353 2063L1355.7 2063.7L1358.5 2064.2L1361.2 2064.4L1363.9 2064.3L1366.6 2064.2L1369.3 2064.1L1372 2064L1374.7 2063.9L1377.4 2063.8L1380.1 2063.7L1382.9 2063.6L1385.6 2063.5L1388.3 2063.5L1391 2063.4L1393.7 2063.3" fill="none" stroke="#4469b5" stroke-width="4.5" stroke-opacity="0.3" stroke-linejoin="round"/><path d="M1296.1 2063.9L1298.8 2064L1301.5 2064.1L1304.2 2064.2L1306.9 2064.3L1309.7 2064.4L1312.4 2064.3L1315.1 2064.2L1317.8 2063.9L1320.5 2063.6L1323.2 2063.3L1325.9 2063L1328.6 2063L1331.3 2063.3L1334.1 2063.4L1336.8 2063.1L1339.5 2062.4L1342.2 2061.7L1344.9 2061.4L1347.6 2061.6L1350.3 2062.3L1353 2063L1355.7 2063.7L1358.5 2064.2L1361.2 2064.4L1363.9 2064.3L1366.6 2064.2L1369.3 2064.1L1372 2064L1374.7 2063.9L1377.4 2063.8L1380.1 2063.7L1382.9 2063.6L1385.6 2063.5L1388.3 2063.5L1391 2063.4L1393.7 2063.3" fill="none" stroke="#4469b5" stroke-width="2.3" stroke-linejoin="round"/>
<path d="M1291.6 1959.8V2119H1398.9M1288.8 2111.9h2.8M1288.8 2082.25h2.8M1288.8 2052.6h2.8M1288.8 2022.95h2.8M1288.8 1993.3h2.8M1288.8 1963.65h2.8M1296.1 2119v1.9M1328.5 2119v1.9M1344.8 2119v1.9M1360.8 2119v1.9M1393.7 2119v1.9" fill="none" stroke="#333" stroke-width="1.9"/>
<text x="1345" y="1980.5" font-size="16.45" text-anchor="middle" fill="#231f20">q = 0.64</text>
<path d="M1421.5 2111.9V2052.1h0.5V2062.1h1V2055.3h1V2041.9h1V2048.3h1V2032.8h1V2062.1h1V2052.3h1V2040.8h1V2044.1h1V2062.1h1V2045.7h1V2047.1h1V2031h1V2035.5h1V2045.5h1V2053.8h1V2037.1h1V2028.6h1V2045.5h1V2047.2h1V2049.5h1V2048.2h1V2050.7h1V2049.6h1V2042.8h1V2041.4h1V2047.8h1V2053.8h1V2045.5h1V2045.2h1V2053.8h1h0.9V2111.9ZM1486.2 2111.9V2053.8h0.8V2048.2h1V2048.7h1V2052.9h1V2053.8h1V2054.9h1V2051.7h1V2047.7h1V2049.2h1V2045.5h1V2036.9h1V2045.8h1V2053.8h1V2052h1V2046.9h1V2044.5h1V2017h1V2036.2h1V2053.8h1V2062.1h1V2047h1V2053.8h1V2040.6h1V2044.8h1V2048.4h1V2043.3h1V2045.4h1V2050.9h1V2040.2h1V2048.7h1V2062.1h1V2053.8h1V2040.2h1V2050.5h0.1V2111.9Z" fill="#e6e7e7"/><path d="M1421.5 2111.9V2062.1h0.5h1h1V2053.8h1V2070.4h1V2062.1h1h1h1V2045.5h1V2062.1h1h1h1V2070.4h1h1h1V2045.5h1V2053.8h1h1h1V2045.5h1V2062.1h1h1V2070.4h1V2062.1h1h1h1V2053.8h1V2062.1h1V2053.8h1V2045.5h1V2070.4h1V2053.8h1h0.9V2111.9ZM1486.2 2111.9V2053.8h0.8V2062.1h1h1V2053.8h1h1V2062.1h1h1h1h1V2045.5h1V2062.1h1V2053.8h1h1V2062.1h1h1V2053.8h1V2062.1h1h1V2053.8h1V2062.1h1h1V2053.8h1V2062.1h1h1V2053.8h1h1V2062.1h1h1V2070.4h1V2053.8h1V2062.1h1V2053.8h1V2070.4h1V2053.8h0.1V2111.9Z" fill="#d4d6d6"/><path d="M1421.5 2111.9V2070.4h0.5h1h1h1h1h1h1h1V2062.1h1V2070.4h1h1h1h1h1h1V2062.1h1h1V2070.4h1h1V2062.1h1V2070.4h1h1h1h1h1h1h1h1V2062.1h1h1V2070.4h1V2062.1h1h0.9V2111.9ZM1486.2 2111.9V2062.1h0.8V2070.4h1h1V2062.1h1h1V2070.4h1h1h1h1V2062.1h1V2070.4h1V2062.1h1h1V2070.4h1h1V2062.1h1V2070.4h1h1V2062.1h1V2070.4h1h1V2062.1h1V2070.4h1h1h1V2062.1h1V2070.4h1h1h1h1h1V2062.1h1V2070.4h1h0.1V2111.9Z" fill="#bfc1c2"/><path d="M1453.9 2111.9V2040.8h0.1V2038h1V2055.2h1V2049.2h1V2051.9h1V2052.4h1V2048.9h1V2052.6h1V2047.9h1V2057h1h1V2028.9h1V2054.9h1V2048.9h1V2036.2h1V2045.6h1V2034.8h1V2046.7h1V2053.1h1V2040.9h1V2045.2h1V2050h1V2054.6h1V2044.3h1V2036.1h1V2046.8h1V2056.1h1V2056.6h1V2047.1h1V2048.6h1V2054.1h1V2052.7h1V2032.3h1V2050.1h0.2V2111.9Z" fill="#c3d2ea"/><path d="M1453.9 2111.9V2054.4h0.1V2049.6h1V2057.9h1V2051h1V2058.7h1h1V2051.2h1V2061.5h1V2053.2h1V2061.3h1V2057h1V2047.5h1V2054.9h1V2048.9h1V2046.8h1V2045.6h1V2048.4h1V2046.7h1V2054.9h1V2044.7h1V2046.7h1V2053.8h1V2056.5h1V2051.2h1V2054.1h1V2055h1V2058.9h1V2060.2h1V2052.2h1V2048.6h1V2054.1h1V2054.8h1V2048.2h1V2060.8h0.2V2111.9Z" fill="#a1b8dd"/><path d="M1453.9 2111.9V2060.3h0.1V2061.6h1V2064.1h1V2058.4h1V2064.5h1V2064.8h1V2062.7h1V2065.8h1V2065.1h1V2065h1V2063.1h1V2056.5h1V2059.2h1V2056.4h1V2054.4h1V2056h1V2059.5h1V2058.7h1V2060h1V2055h1V2055.7h1V2062.7h1V2064h1V2055.8h1V2058.2h1V2062.7h1V2065.8h1V2063.7h1V2061.4h1V2058.5h1V2058.1h1V2060.7h1V2058.6h1V2064.4h0.2V2111.9Z" fill="#7597ce"/><path d="M1421.5 2111.9V2075.4h0.5V2075.1h1V2074.6h1V2074.4h1V2075.3h1V2075h1V2074.4h1V2075.2h1V2074.1h1V2074.9h1V2073.7h1V2074.7h1V2074.4h1V2074.2h1V2074.3h1V2073.8h1h1V2073.7h1V2073.5h1V2074.1h1V2075.2h1V2075.3h1V2075.5h1V2075.1h1V2076.2h1V2076.5h1h1V2076.7h1V2076.9h1V2076.5h1V2076.9h1V2077.2h1h0.9V2111.9ZM1486.2 2111.9V2075.6h0.8V2076.2h1V2075.7h1V2076.4h1V2076.7h1V2076.8h1V2075.9h1V2076.2h1V2075.6h1V2076.4h1V2075.2h1V2075.7h1V2075.8h1V2075h1V2075.4h1V2074.7h1V2074.8h1V2075.4h1h1V2075.7h1V2076.1h1V2075.7h1V2075.5h1V2076.5h1V2076.4h1V2075.3h1V2075.8h1V2076.7h1V2075.6h1V2076.9h1V2075.6h1V2076.8h1V2076.7h1V2076.3h0.1V2111.9Z" fill="#b5b8b9"/><path d="M1453.9 2111.9V2069.5h0.1V2072h1V2070.9h1V2069.2h1V2072.4h1V2073.1h1V2069.2h1V2073h1V2072.6h1V2069.8h1V2071.8h1V2072.9h1V2069.8h1V2071.9h1V2065.9h1V2072.1h1V2063.9h1V2069h1V2067.8h1V2066.7h1V2067.3h1V2071h1V2068.3h1V2072.7h1V2066.9h1V2073.4h1V2072.8h1V2068.2h1V2070.3h1V2070.5h1V2073.6h1V2074.1h1V2073h1V2072.8h0.2V2111.9Z" fill="#6289c7"/><path d="M1421.5 2075L1424.2 2074.8L1426.9 2074.5L1429.6 2074.2L1432.3 2073.9L1435.1 2073.7L1437.8 2073.7L1440.5 2074.1L1443.2 2074.7L1445.9 2075.4L1448.6 2076.1L1451.3 2076.8L1454 2077L1456.7 2076.6L1459.5 2075.7L1462.2 2074.8L1464.9 2073.9L1467.6 2073.1L1470.3 2072.7L1473 2072.9L1475.7 2073.6L1478.4 2074.2L1481.1 2074.9L1483.9 2075.6L1486.6 2076L1489.3 2076.1L1492 2075.9L1494.7 2075.7L1497.4 2075.5L1500.1 2075.3L1502.8 2075.3L1505.5 2075.3L1508.3 2075.5L1511 2075.7L1513.7 2075.9L1516.4 2076.1L1519.1 2076.3" fill="none" stroke="#4469b5" stroke-width="4.5" stroke-opacity="0.3" stroke-linejoin="round"/><path d="M1421.5 2075L1424.2 2074.8L1426.9 2074.5L1429.6 2074.2L1432.3 2073.9L1435.1 2073.7L1437.8 2073.7L1440.5 2074.1L1443.2 2074.7L1445.9 2075.4L1448.6 2076.1L1451.3 2076.8L1454 2077L1456.7 2076.6L1459.5 2075.7L1462.2 2074.8L1464.9 2073.9L1467.6 2073.1L1470.3 2072.7L1473 2072.9L1475.7 2073.6L1478.4 2074.2L1481.1 2074.9L1483.9 2075.6L1486.6 2076L1489.3 2076.1L1492 2075.9L1494.7 2075.7L1497.4 2075.5L1500.1 2075.3L1502.8 2075.3L1505.5 2075.3L1508.3 2075.5L1511 2075.7L1513.7 2075.9L1516.4 2076.1L1519.1 2076.3" fill="none" stroke="#4469b5" stroke-width="2.3" stroke-linejoin="round"/>
<path d="M1417 1959.8V2119H1524.3M1414.2 2111.9h2.8M1414.2 2082.25h2.8M1414.2 2052.6h2.8M1414.2 2022.95h2.8M1414.2 1993.3h2.8M1414.2 1963.65h2.8M1421.5 2119v1.9M1453.9 2119v1.9M1470.2 2119v1.9M1486.2 2119v1.9M1519.1 2119v1.9" fill="none" stroke="#333" stroke-width="1.9"/>
<text x="1473.8" y="1980.5" font-size="16.45" text-anchor="middle" fill="#231f20">q = 0.30</text>
<path d="M1549.9 2111.9V2037.5h0.1V2041.6h1V2038.4h1V2032.1h1V2008.1h1V2025.9h1V2027.3h1V2040.8h1V2043.1h1V2022.3h1V2043.1h1V2077.5h1V2033.2h1V2060.3h1V2032.1h1V2039.3h1V2031.3h1V2031.5h1V2033.1h1V2020.7h1V2047h1V2033.7h1V2060.3h1V2048.4h1V2077.5h1V2043.1h1V2025.9h1V2029.6h1V2043.1h1V2035.7h1V2048.3h1V2048.6h1V2040.2h1V2043.1h0.3V2111.9ZM1614.6 2111.9V1981.4h0.4V2053.6h1V2035.2h1V2060.3h1h1V2046.6h1V2047.5h1V2025.9h1V2043.1h1V2020.1h1V2025.9h1h1V2027.2h1V2032.6h1V2036.6h1V2049.6h1V2053.8h1V2043.1h1h1V2060.3h1V2032.6h1V2043.1h1V2040h1V2028h1V2043.1h1V2050.6h1V2035.5h1V2043.1h1V2044.4h1V2045h1V2039.1h1V2043.1h1V2025.9h1V2060.3h0.5V2111.9Z" fill="#e6e7e7"/><path d="M1549.9 2111.9V2077.5h0.1V2043.1h1h1V2077.5h1V2060.3h1V2025.9h1V2043.1h1V2060.3h1V2043.1h1V2060.3h1V2043.1h1V2077.5h1V2060.3h1h1h1V2043.1h1V2060.3h1V2077.5h1V2060.3h1V2077.5h1V2060.3h1V2043.1h1V2060.3h1h1V2077.5h1V2043.1h1V2025.9h1V2060.3h1V2043.1h1h1V2060.3h1h1h1V2043.1h0.3V2111.9ZM1614.6 2111.9V2043.1h0.4V2060.3h1V2043.1h1V2060.3h1h1h1h1V2025.9h1V2043.1h1V2060.3h1V2025.9h1h1V2043.1h1V2060.3h1h1h1h1V2043.1h1h1V2060.3h1V2043.1h1h1V2060.3h1h1V2043.1h1V2060.3h1V2043.1h1h1V2060.3h1h1h1V2043.1h1V2025.9h1V2060.3h0.5V2111.9Z" fill="#d4d6d6"/><path d="M1549.9 2111.9V2077.5h0.1h1h1h1h1V2060.3h1V2077.5h1h1h1h1h1h1h1h1h1h1h1h1h1h1h1h1V2060.3h1V2077.5h1h1h1V2060.3h1V2077.5h1V2060.3h1V2077.5h1h1h1h1V2060.3h0.3V2111.9ZM1614.6 2111.9V2060.3h0.4V2077.5h1V2060.3h1V2077.5h1h1h1h1V2060.3h1h1V2077.5h1V2060.3h1h1V2077.5h1h1h1h1h1V2060.3h1h1V2077.5h1V2060.3h1h1V2077.5h1h1V2060.3h1V2077.5h1h1V2060.3h1V2077.5h1h1V2060.3h1V2077.5h1V2060.3h1h0.5V2111.9Z" fill="#bfc1c2"/><path d="M1582.3 2111.9V2050h0.7V2053h1V2031.4h1V2041.1h1V2049.6h1V2048.5h1V2035.7h1V2036.7h1V2054.3h1V2008.1h1V2055.3h1V2031.2h1V2044.2h1V2037.9h1V2029.6h1V2040.2h1V2028.6h1V2017h1V2029.8h1V2026.9h1V2043.5h1V2029.1h1V2045.4h1V2048.1h1V2057.7h1V2037.5h1V2043.7h1V2039.8h1V2051.1h1V2044.5h1V2057.3h1V2054.2h1V2044.3h0.6V2111.9Z" fill="#c3d2ea"/><path d="M1582.3 2111.9V2050h0.7V2055.8h1V2052.8h1V2052.2h1V2053.6h1V2048.6h1V2047.4h1V2050.5h1V2057.3h1V2039.1h1V2055.3h1V2055.9h1V2047h1V2039.4h1V2043.8h1V2046.3h1V2039.4h1V2029.1h1V2044.7h1V2044.1h1V2051.6h1V2053.6h1V2045.7h1V2049.2h1V2058.8h1V2056.4h1V2047.8h1V2061.4h1V2056.6h1V2046.2h1V2058h1V2054.2h1h0.6V2111.9Z" fill="#a1b8dd"/><path d="M1582.3 2111.9V2061.5h0.7V2062.7h1V2063.7h1V2061.1h1V2067.5h1V2056.6h1V2058.4h1V2058.5h1V2065.6h1V2064.4h1V2062.5h1V2063.3h1V2062h1V2053.4h1V2054h1V2054.2h1V2051.2h1V2048.3h1V2056.9h1V2052.8h1V2056.3h1V2059.4h1V2054.4h1V2061.1h1V2063.8h1V2064.6h1V2058.7h1V2066.7h1V2061.4h1V2057.4h1V2068.1h1V2064.9h1V2064.1h0.6V2111.9Z" fill="#7597ce"/><path d="M1549.9 2111.9V2081.6h0.1V2081.4h1V2081.3h1V2081.4h1V2081.2h1V2081.5h1V2080.3h1V2080.2h1V2080.5h1V2081h1V2080.9h1V2080.2h1V2080h1V2080.2h1V2080.6h1V2079.7h1V2080.5h1V2079.8h1V2080.5h1V2079.3h1V2079.6h1V2080.1h1V2079.3h1V2079.4h1V2080.1h1V2079.4h1V2079.7h1V2079.8h1V2079h1V2079.3h1V2078.9h1V2079.6h1V2079.2h1V2078.7h0.3V2111.9ZM1614.6 2111.9V2078.9h0.4h1V2078.4h1V2078.6h1V2079.6h1V2078.9h1V2079.4h1V2079.8h1V2079.9h1V2079.7h1V2080.3h1V2079.4h1V2079.9h1V2080.4h1V2080.3h1V2080.7h1V2079.9h1V2080.2h1V2080.6h1V2080.3h1V2080.1h1V2079.7h1V2079.6h1V2079.2h1V2079.8h1h1V2079h1V2079.5h1V2080.1h1V2080.4h1V2080h1V2080.1h1V2080.5h1V2080.3h0.5V2111.9Z" fill="#b5b8b9"/><path d="M1582.3 2111.9V2069.9h0.7V2070.9h1V2072.5h1V2070.9h1V2072.3h1V2075.6h1V2074h1V2068.7h1V2068.8h1V2070.8h1h1h1V2069.1h1V2071.8h1V2069h1V2064.9h1V2063.8h1V2067.7h1V2067.9h1V2066.8h1V2066h1V2070.1h1V2066.9h1V2070.5h1V2069.4h1V2073.2h1V2072h1V2072.5h1V2073.9h1V2071.4h1V2070.3h1V2072.8h1V2074.5h0.6V2111.9Z" fill="#6289c7"/><path d="M1549.9 2081L1552.6 2080.9L1555.3 2080.7L1558 2080.5L1560.7 2080.3L1563.5 2080.1L1566.2 2079.9L1568.9 2079.7L1571.6 2079.5L1574.3 2079.3L1577 2079.1L1579.7 2078.9L1582.4 2078.5L1585.1 2077.8L1587.9 2076.9L1590.6 2076L1593.3 2075.1L1596 2074.3L1598.7 2073.9L1601.4 2074.3L1604.1 2075.1L1606.8 2076L1609.5 2076.9L1612.3 2077.8L1615 2078.5L1617.7 2079L1620.4 2079.3L1623.1 2079.6L1625.8 2079.9L1628.5 2080.2L1631.2 2080.2L1633.9 2079.9L1636.7 2079.3L1639.4 2079.1L1642.1 2079.3L1644.8 2079.9L1647.5 2080.3" fill="none" stroke="#4469b5" stroke-width="4.5" stroke-opacity="0.3" stroke-linejoin="round"/><path d="M1549.9 2081L1552.6 2080.9L1555.3 2080.7L1558 2080.5L1560.7 2080.3L1563.5 2080.1L1566.2 2079.9L1568.9 2079.7L1571.6 2079.5L1574.3 2079.3L1577 2079.1L1579.7 2078.9L1582.4 2078.5L1585.1 2077.8L1587.9 2076.9L1590.6 2076L1593.3 2075.1L1596 2074.3L1598.7 2073.9L1601.4 2074.3L1604.1 2075.1L1606.8 2076L1609.5 2076.9L1612.3 2077.8L1615 2078.5L1617.7 2079L1620.4 2079.3L1623.1 2079.6L1625.8 2079.9L1628.5 2080.2L1631.2 2080.2L1633.9 2079.9L1636.7 2079.3L1639.4 2079.1L1642.1 2079.3L1644.8 2079.9L1647.5 2080.3" fill="none" stroke="#4469b5" stroke-width="2.3" stroke-linejoin="round"/>
<path d="M1545.4 1959.8V2119H1652.7M1542.6 2111.9h2.8M1542.6 2082.25h2.8M1542.6 2052.6h2.8M1542.6 2022.95h2.8M1542.6 1993.3h2.8M1542.6 1963.65h2.8M1549.9 2119v1.9M1582.3 2119v1.9M1598.6 2119v1.9M1614.6 2119v1.9M1647.5 2119v1.9" fill="none" stroke="#333" stroke-width="1.9"/>
<text x="1602.8" y="1980.5" font-size="16.45" text-anchor="middle" fill="#231f20">q = 0.17</text>
<path d="M1682.3 2111.9V2042.3h0.7V2046.4h1V2044.3h1V2078.1h1V2047.4h1V2060.4h1V2044.3h1V2048.1h1V2048.6h1V2055.6h1V2044.3h1V2045.3h1V2047.3h1V2049.5h1V2047.7h1V2047.2h1V2048.9h1V2055.6h1V2060.6h1V2055.6h1V2053h1V2048.4h1V2044.3h1V2049.4h1V2066.8h1V2048.3h1V2056.4h1V2054.6h1V2052.5h1V2053.9h1V2055h1V2034.9h1V2055.6h0.7V2111.9ZM1747 2111.9V2060h1V2054.7h1V2048.7h1V2066.8h1V2048.4h1V2047.4h1V2035.2h1V2055.6h1V2053.5h1V2056.9h1V2052.6h1V2066.8h1V2044.3h1V2038.1h1V2049.7h1V2056.1h1V2055.6h1V2052.6h1V2044.3h1V2048.1h1V2048.4h1V2066.8h1V2045h1V2055.6h1h1V2046.2h1V2038.8h1V2045.3h1V2041.1h1V2040.9h1V2055.6h1V2044.3h1V2037.5h0.9V2111.9Z" fill="#e6e7e7"/><path d="M1682.3 2111.9V2066.8h0.7h1V2044.3h1V2078.1h1h1V2066.8h1V2044.3h1V2055.6h1V2066.8h1V2055.6h1V2044.3h1V2066.8h1V2055.6h1V2078.1h1V2055.6h1V2066.8h1V2078.1h1V2055.6h1V2066.8h1V2055.6h1V2066.8h1h1V2044.3h1V2066.8h1h1h1h1V2055.6h1V2066.8h1h1V2055.6h1V2066.8h1V2055.6h0.7V2111.9ZM1747 2111.9V2066.8h1h1V2055.6h1V2066.8h1V2055.6h1h1V2066.8h1V2055.6h1V2066.8h1h1V2055.6h1V2066.8h1V2044.3h1V2066.8h1V2055.6h1V2066.8h1V2055.6h1V2078.1h1V2044.3h1V2055.6h1V2066.8h1h1V2078.1h1V2055.6h1h1V2078.1h1V2066.8h1V2055.6h1h1V2066.8h1V2055.6h1V2044.3h1V2066.8h0.9V2111.9Z" fill="#d4d6d6"/><path d="M1682.3 2111.9V2078.1h0.7h1V2066.8h1V2078.1h1h1h1V2066.8h1h1V2078.1h1V2066.8h1h1V2078.1h1V2066.8h1V2078.1h1h1h1h1h1h1V2066.8h1V2078.1h1V2066.8h1h1V2078.1h1h1h1h1h1h1h1V2066.8h1V2078.1h1V2066.8h0.7V2111.9ZM1747 2111.9V2078.1h1h1V2066.8h1V2078.1h1h1V2066.8h1V2078.1h1V2066.8h1V2078.1h1V2066.8h1h1V2078.1h1V2066.8h1V2078.1h1h1h1h1h1V2066.8h1h1V2078.1h1h1h1V2066.8h1h1V2078.1h1h1V2066.8h1V2078.1h1h1V2066.8h1h1V2078.1h0.9V2111.9Z" fill="#bfc1c2"/><path d="M1714.7 2111.9V2064.9h0.3V2049.4h1V2047.2h1V2063.5h1V2048.7h1V2033.1h1V2045h1V2055.3h1V2047.2h1V2039.1h1V2043.2h1V2039.5h1V2045.2h1V2047.7h1V2042.1h1V2053.5h1V2028.9h1V2045.4h1V2051.9h1V2053.9h1V2044.2h1V2058.1h1V2054.5h1V2041.5h1V2057.5h1V2037.6h1V2043.2h1V2049.1h1V2046.4h1V2047.3h1V2038.9h1V2050.5h1V2054.7h1V2111.9Z" fill="#c3d2ea"/><path d="M1714.7 2111.9V2064.9h0.3V2056.3h1V2059.5h1V2063.5h1V2049h1V2053.5h1V2045h1V2057.4h1V2053.9h1V2045.4h1V2050.9h1V2045.1h1V2046.9h1V2052.4h1V2047.2h1V2056.5h1V2046.3h1V2047.2h1V2053.2h1V2058.9h1V2049.6h1V2058.1h1V2055.6h1V2054.3h1V2057.5h1V2050.7h1V2062.2h1V2055.4h1V2062.1h1V2056.2h1V2050.6h1V2059.8h1V2056h1V2111.9Z" fill="#a1b8dd"/><path d="M1714.7 2111.9V2069.2h0.3V2060.5h1V2066.2h1V2069.1h1V2062h1V2067.1h1V2058.3h1V2062.1h1V2065.4h1V2059.1h1V2059.4h1V2059.7h1V2055.8h1V2061.8h1V2053.3h1V2062.5h1V2060.6h1V2063.4h1V2062.1h1V2063.8h1V2057.9h1V2063.5h1V2065.1h1V2066h1V2065.9h1V2059.6h1V2069h1V2061.2h1V2069.4h1V2062.5h1V2061.5h1V2070.1h1V2062.3h1V2111.9Z" fill="#7597ce"/><path d="M1682.3 2111.9V2080.3h0.7V2081.3h1V2080.6h1V2080.2h1V2080.7h1V2080.2h1V2080.3h1V2080.4h1V2081.1h1V2080.9h1V2080.2h1V2081.1h1V2080.8h1V2080.9h1V2080.4h1h1V2081.2h1V2080.8h1V2081.2h1V2080.6h1V2081.1h1V2081.4h1V2081h1h1V2081.5h1V2081.2h1h1V2081.7h1V2081.2h1V2081.1h1V2080.9h1V2081.3h1V2081.4h0.7V2111.9ZM1747 2111.9V2081.8h1V2081.9h1V2082h1V2081.3h1V2081.7h1V2081.1h1V2080.3h1V2080.2h1V2080.3h1V2080.6h1V2080.4h1V2080.1h1V2079.3h1V2079.1h1V2079.7h1V2080.3h1h1V2080.1h1V2080.5h1V2080.7h1V2080.9h1V2080.3h1V2081.3h1V2081h1V2081.1h1V2080.8h1V2080.6h1V2081.2h1V2080.9h1V2082h1V2081.2h1V2081h1V2081.5h0.9V2111.9Z" fill="#b5b8b9"/><path d="M1714.7 2111.9V2076.3h0.3V2072.2h1V2079.5h1V2076.7h1V2076h1V2071.2h1V2077.2h1V2073.9h1V2076.2h1V2076.4h1V2069.2h1V2067.3h1V2069.6h1V2066.9h1V2067h1V2066.8h1V2068.4h1V2068.3h1V2069.8h1V2068.4h1V2067.1h1V2068h1V2069h1V2072.4h1V2069h1V2071.3h1V2074.5h1V2072.3h1V2071.9h1V2077.3h1V2073h1V2074.9h1V2076.5h1V2111.9Z" fill="#6289c7"/><path d="M1682.3 2080.5L1685 2080.5L1687.7 2080.6L1690.4 2080.6L1693.1 2080.7L1695.9 2080.7L1698.6 2080.8L1701.3 2080.8L1704 2080.9L1706.7 2080.9L1709.4 2081L1712.1 2081L1714.8 2080.7L1717.5 2079.9L1720.3 2078.7L1723 2077.5L1725.7 2076.3L1728.4 2075.2L1731.1 2074.8L1733.8 2075.4L1736.5 2076.7L1739.2 2078.1L1741.9 2079.5L1744.7 2080.8L1747.4 2081.5L1750.1 2081.5L1752.8 2080.8L1755.5 2080L1758.2 2079.6L1760.9 2079.6L1763.6 2079.9L1766.3 2080.2L1769.1 2080.5L1771.8 2080.8L1774.5 2081.1L1777.2 2081.4L1779.9 2081.6" fill="none" stroke="#4469b5" stroke-width="4.5" stroke-opacity="0.3" stroke-linejoin="round"/><path d="M1682.3 2080.5L1685 2080.5L1687.7 2080.6L1690.4 2080.6L1693.1 2080.7L1695.9 2080.7L1698.6 2080.8L1701.3 2080.8L1704 2080.9L1706.7 2080.9L1709.4 2081L1712.1 2081L1714.8 2080.7L1717.5 2079.9L1720.3 2078.7L1723 2077.5L1725.7 2076.3L1728.4 2075.2L1731.1 2074.8L1733.8 2075.4L1736.5 2076.7L1739.2 2078.1L1741.9 2079.5L1744.7 2080.8L1747.4 2081.5L1750.1 2081.5L1752.8 2080.8L1755.5 2080L1758.2 2079.6L1760.9 2079.6L1763.6 2079.9L1766.3 2080.2L1769.1 2080.5L1771.8 2080.8L1774.5 2081.1L1777.2 2081.4L1779.9 2081.6" fill="none" stroke="#4469b5" stroke-width="2.3" stroke-linejoin="round"/>
<path d="M1677.8 1959.8V2119H1785.1M1675 2111.9h2.8M1675 2082.25h2.8M1675 2052.6h2.8M1675 2022.95h2.8M1675 1993.3h2.8M1675 1963.65h2.8M1682.3 2119v1.9M1714.7 2119v1.9M1731 2119v1.9M1747 2119v1.9M1779.9 2119v1.9" fill="none" stroke="#333" stroke-width="1.9"/>
<text x="1735" y="1980.5" font-size="16.45" text-anchor="middle" fill="#231f20">q = 0.033</text>
<text x="1282" y="2118.8" font-size="19.7" text-anchor="end">0</text>
<text x="1282" y="2089.15" font-size="19.7" text-anchor="end">5</text>
<text x="1282" y="2059.5" font-size="19.7" text-anchor="end">10</text>
<text x="1282" y="2029.85" font-size="19.7" text-anchor="end">15</text>
<text x="1282" y="2000.2" font-size="19.7" text-anchor="end">20</text>
<text x="1282" y="1970.55" font-size="19.7" text-anchor="end">25</text>
<text x="1290.6" y="1379.8" font-size="19.7" fill="#231f20">Sites by transcription, breast cancer (HMF)</text>
<text x="1291.6" y="1776.1" font-size="19.7" fill="#231f20">Sites by chromatin interactions, lung cancer (HMF)</text>
<text transform="translate(1248.8 1550.8) rotate(-90)" font-size="19.9" text-anchor="middle" fill="#231f20">SNVs, indels per Mbps</text>
<text transform="translate(1248.8 1941.7) rotate(-90)" font-size="19.9" text-anchor="middle" fill="#231f20">SNVs, indels per Mbps</text>
<text x="1824.7" y="1537.1" font-size="19.7">TOP2B–RAD21</text>
<text x="1824.7" y="1709.1" font-size="19.7">RAD21</text>
<text x="1824.7" y="1936.7" font-size="19.7">TOP2B–RAD21</text>
<text x="1824.7" y="2109.3" font-size="19.7">RAD21</text>
<text transform="translate(1302.5 2124.8) rotate(-90)" font-size="18.7" text-anchor="end" fill="#231f20">-900</text>
<text transform="translate(1334.9 2124.8) rotate(-90)" font-size="18.7" text-anchor="end" fill="#231f20">-300</text>
<text transform="translate(1367.2 2124.8) rotate(-90)" font-size="18.7" text-anchor="end" fill="#231f20">300</text>
<text transform="translate(1400.1 2124.8) rotate(-90)" font-size="18.7" text-anchor="end" fill="#231f20">900</text>
<text transform="translate(1427.9 2124.8) rotate(-90)" font-size="18.7" text-anchor="end" fill="#231f20">-900</text>
<text transform="translate(1460.3 2124.8) rotate(-90)" font-size="18.7" text-anchor="end" fill="#231f20">-300</text>
<text transform="translate(1492.6 2124.8) rotate(-90)" font-size="18.7" text-anchor="end" fill="#231f20">300</text>
<text transform="translate(1525.5 2124.8) rotate(-90)" font-size="18.7" text-anchor="end" fill="#231f20">900</text>
<text transform="translate(1556.3 2124.8) rotate(-90)" font-size="18.7" text-anchor="end" fill="#231f20">-900</text>
<text transform="translate(1588.7 2124.8) rotate(-90)" font-size="18.7" text-anchor="end" fill="#231f20">-300</text>
<text transform="translate(1621 2124.8) rotate(-90)" font-size="18.7" text-anchor="end" fill="#231f20">300</text>
<text transform="translate(1653.9 2124.8) rotate(-90)" font-size="18.7" text-anchor="end" fill="#231f20">900</text>
<text transform="translate(1688.7 2124.8) rotate(-90)" font-size="18.7" text-anchor="end" fill="#231f20">-900</text>
<text transform="translate(1721.1 2124.8) rotate(-90)" font-size="18.7" text-anchor="end" fill="#231f20">-300</text>
<text transform="translate(1753.4 2124.8) rotate(-90)" font-size="18.7" text-anchor="end" fill="#231f20">300</text>
<text transform="translate(1786.3 2124.8) rotate(-90)" font-size="18.7" text-anchor="end" fill="#231f20">900</text>
<text x="1538.9" y="2182.9" font-size="19.7" text-anchor="middle" fill="#231f20">bps</text>
<text x="1341.3" y="2208.6" font-size="19.7" text-anchor="middle" fill="#231f20">bin1</text>
<text x="1341.3" y="2232.2" font-size="19.7" text-anchor="middle" fill="#231f20">(none)</text>
<text x="1471" y="2208.6" font-size="19.7" text-anchor="middle" fill="#231f20">bin2</text>
<text x="1471" y="2232.2" font-size="19.7" text-anchor="middle" fill="#231f20">(low)</text>
<text x="1596.8" y="2208.6" font-size="19.7" text-anchor="middle" fill="#231f20">bin3</text>
<text x="1596.8" y="2232.2" font-size="19.7" text-anchor="middle" fill="#231f20">(medium)</text>
<text x="1728.5" y="2208.6" font-size="19.7" text-anchor="middle" fill="#231f20">bin4</text>
<text x="1728.5" y="2232.2" font-size="19.7" text-anchor="middle" fill="#231f20">(high)</text>
</g>
</svg>
</body></html>
